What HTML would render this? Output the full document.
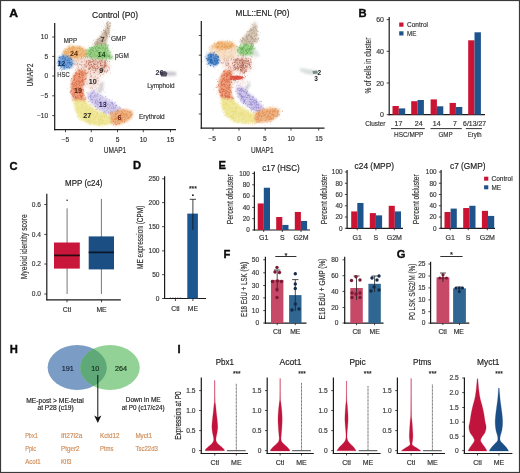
<!DOCTYPE html>
<html><head><meta charset="utf-8"><style>
html,body{margin:0;padding:0;background:#fff;}
body{width:520px;height:473px;overflow:hidden;font-family:"Liberation Sans", sans-serif;}
svg{display:block;will-change:transform;}
</style></head><body>
<svg width="520" height="473" viewBox="0 0 520 473" font-family='"Liberation Sans", sans-serif'><defs><filter id="b6" x="-50%" y="-80%" width="200%" height="260%"><feGaussianBlur stdDeviation="0.6"/></filter><filter id="b8" x="-50%" y="-80%" width="200%" height="260%"><feGaussianBlur stdDeviation="0.8"/></filter><filter id="b10" x="-50%" y="-80%" width="200%" height="260%"><feGaussianBlur stdDeviation="1.0"/></filter><filter id="b12" x="-50%" y="-80%" width="200%" height="260%"><feGaussianBlur stdDeviation="1.2"/></filter><filter id="b15" x="-50%" y="-80%" width="200%" height="260%"><feGaussianBlur stdDeviation="1.5"/></filter><filter id="b20" x="-50%" y="-80%" width="200%" height="260%"><feGaussianBlur stdDeviation="2.0"/></filter></defs><text x="9.2" y="16.8" font-size="11.2" text-anchor="start" font-weight="bold" fill="#0a0a0a" textLength="8.8" lengthAdjust="spacingAndGlyphs" stroke="#0a0a0a" stroke-width="0.35">A</text>
<text x="115" y="17.6" font-size="8.6" text-anchor="middle" font-weight="normal" fill="#222" textLength="46" lengthAdjust="spacingAndGlyphs" stroke="#222" stroke-width="0.18">Control (P0)</text>
<text x="262.5" y="16.2" font-size="8.6" text-anchor="middle" font-weight="normal" fill="#222" textLength="53.8" lengthAdjust="spacingAndGlyphs" stroke="#222" stroke-width="0.18">MLL::ENL (P0)</text>
<path d="M82.6,59.3h0M95.5,69.2h0M89.0,85.5h0M94.6,68.7h0M106.2,66.4h0M95.1,67.7h0M71.0,59.1h0M89.9,60.7h0M91.2,83.0h0M89.3,84.5h0M103.3,73.1h0M95.4,74.1h0M94.1,80.1h0M100.1,68.1h0M82.0,61.1h0M70.3,67.8h0M95.2,80.1h0M77.2,74.7h0M77.6,66.8h0M97.5,64.3h0M89.8,73.4h0M90.7,75.7h0M89.7,71.7h0M78.0,61.6h0M95.1,63.2h0M90.8,51.1h0M90.4,72.7h0M85.0,62.6h0M90.9,59.9h0M94.9,85.5h0M83.4,72.6h0M90.7,84.3h0M87.1,56.5h0M109.6,70.0h0M73.2,57.3h0M101.2,67.1h0M103.2,76.8h0M101.0,62.3h0M84.7,74.6h0M85.7,90.3h0M103.8,65.1h0M85.4,74.8h0M78.5,67.6h0M90.0,73.5h0M93.8,61.6h0M98.0,77.9h0M96.0,85.0h0M80.7,60.9h0M96.0,79.8h0M90.2,72.3h0" stroke="#efcfc2" stroke-width="0.9" stroke-linecap="round" opacity="0.55" fill="none"/>
<path d="M70,60 L80,56 L95,55 L106,59 L111,66 L107,73 L100,76 L98,84 L92,90 L87,86 L84,76 L76,70 Z" fill="#efcfc2" opacity="0.5" filter="url(#b20)"/>
<path d="M85.7,74.1h0M106.0,63.0h0M105.4,60.7h0M74.6,64.2h0M99.4,57.9h0M88.6,71.9h0M75.5,70.0h0M78.0,65.9h0M93.8,70.5h0M98.8,74.3h0M76.3,64.8h0M78.8,60.8h0M105.2,66.2h0M93.7,79.7h0M100.8,71.1h0M98.1,84.2h0M86.0,66.0h0M80.1,59.4h0M75.3,60.9h0M82.9,64.7h0M90.4,61.4h0M100.6,75.6h0M101.3,70.2h0M84.8,69.6h0M98.1,77.9h0M74.0,60.4h0M82.5,61.9h0M81.2,64.8h0M83.9,67.5h0M89.9,74.0h0M81.2,62.4h0M86.6,66.3h0M91.4,82.1h0M93.2,84.6h0M77.3,69.0h0M91.6,75.7h0M90.4,73.4h0M101.0,64.3h0M99.7,58.9h0M88.4,68.6h0M96.9,58.4h0M100.3,65.6h0M97.1,78.3h0M90.6,71.4h0M109.4,61.6h0M89.2,67.2h0M105.0,71.6h0M91.3,55.9h0M89.2,66.4h0M106.1,58.4h0M106.1,66.0h0M84.7,70.4h0M79.4,64.2h0M99.4,55.4h0M82.3,56.4h0M88.8,68.9h0M95.8,65.1h0M77.5,63.2h0M93.7,60.5h0M88.6,60.4h0M84.1,59.1h0M93.4,84.8h0M86.2,74.1h0M91.2,76.4h0M80.1,64.5h0M106.7,71.6h0M72.7,60.1h0M95.1,82.2h0M97.1,66.3h0M96.4,79.7h0M90.9,76.0h0M94.2,56.6h0M106.3,72.5h0M89.6,79.1h0M83.5,69.0h0M91.7,62.0h0M104.0,65.1h0M90.5,62.8h0M76.8,71.9h0M109.3,69.1h0M96.5,69.0h0M82.1,67.1h0M105.0,70.5h0M78.2,67.6h0M86.9,83.1h0M107.7,61.4h0M85.5,64.1h0M85.0,64.7h0M82.5,70.8h0M84.6,64.4h0M94.4,67.5h0M102.7,59.7h0M81.6,57.6h0M82.0,58.7h0M99.2,71.9h0M95.4,76.3h0M97.8,58.4h0M93.2,67.3h0M81.6,65.6h0M90.7,68.7h0M91.4,61.5h0M90.9,81.4h0M76.5,61.4h0M109.0,67.1h0M94.7,77.8h0M75.7,63.8h0M97.8,62.2h0M97.5,62.2h0M103.1,74.4h0M85.9,73.9h0M85.8,67.7h0M82.0,75.8h0M84.8,61.1h0M85.3,85.1h0M90.4,60.8h0M85.8,73.4h0M92.4,88.3h0M81.2,58.3h0M90.9,56.3h0M104.0,59.8h0M104.2,62.6h0M91.9,69.1h0M103.1,58.2h0M94.3,66.5h0M86.2,78.5h0M90.2,61.2h0M88.2,61.4h0M90.6,56.1h0M89.8,56.9h0M90.8,88.1h0M101.8,60.0h0M100.7,60.0h0M77.5,64.2h0M73.0,63.8h0M97.2,66.5h0M96.8,88.2h0M96.1,67.9h0M88.1,60.8h0M101.4,61.2h0M94.0,78.3h0M70.4,59.4h0M91.6,87.0h0M97.9,55.8h0M93.2,61.2h0M81.4,61.2h0M88.2,64.4h0M92.3,66.2h0M88.6,64.1h0M91.1,76.8h0M85.1,66.3h0" stroke="#c46e58" stroke-width="0.9" stroke-linecap="round" opacity="0.75" fill="none"/>
<path d="M109.7,68.3h0M102.4,61.0h0M89.7,60.4h0M90.3,62.7h0M98.6,60.6h0M103.3,69.9h0M90.2,53.6h0M104.7,60.6h0M95.3,60.0h0M93.7,63.8h0M92.4,67.0h0M95.5,70.0h0M93.5,60.2h0M99.6,61.9h0M81.8,70.7h0M110.4,73.1h0M87.3,61.4h0M101.2,64.9h0M101.0,62.9h0M101.5,63.9h0M83.5,66.6h0M96.9,61.6h0M108.5,67.3h0M92.1,72.9h0M98.4,60.0h0M106.8,71.8h0M97.8,72.6h0M92.2,77.3h0M89.9,57.4h0M91.7,69.7h0M99.3,66.9h0M95.1,62.7h0M92.2,59.5h0M93.8,73.9h0M97.4,63.9h0M96.2,67.7h0M102.2,71.4h0M105.8,68.6h0M107.1,63.9h0M102.6,71.3h0" stroke="#e4ac98" stroke-width="0.9" stroke-linecap="round" opacity="0.55" fill="none"/>
<path d="M84,60 L98,58 L106,61 L109,67 L104,72 L94,72 L86,68 Z" fill="#e4ac98" opacity="0.4" filter="url(#b15)"/>
<path d="M89.6,62.5h0M93.8,60.4h0M88.3,63.2h0M102.8,65.4h0M86.5,61.1h0M93.6,68.0h0M100.7,65.5h0M95.0,67.8h0M97.7,68.8h0M102.3,68.8h0M104.6,66.7h0M92.7,67.4h0M103.0,67.4h0M93.8,63.7h0M101.5,72.4h0M100.7,63.6h0M89.1,68.5h0M85.0,65.6h0M97.4,65.9h0M94.6,72.7h0M95.9,70.7h0M92.7,59.8h0M94.0,68.4h0M90.7,67.9h0M88.9,69.7h0M103.0,67.1h0M93.6,65.3h0M95.2,62.0h0M105.3,62.3h0M92.8,61.8h0M90.7,62.5h0M94.2,66.1h0M107.8,70.4h0M100.8,61.8h0M89.5,69.3h0M107.6,70.9h0M98.2,67.1h0M104.2,71.2h0M95.4,69.2h0M97.9,62.2h0M95.8,58.9h0M94.4,64.5h0M94.7,64.2h0M93.8,63.8h0M101.3,67.2h0M99.7,73.5h0M97.0,64.6h0M100.9,68.4h0M91.5,64.4h0M88.1,64.7h0M105.1,61.2h0M93.9,61.7h0M99.9,69.9h0M90.3,64.9h0M106.9,65.9h0M106.1,65.0h0M105.7,65.6h0M101.1,65.7h0M100.7,63.9h0M102.8,70.0h0M103.9,68.7h0M91.1,64.9h0M101.3,71.5h0M105.2,65.5h0M99.9,71.0h0M93.9,58.9h0M101.9,60.8h0M101.8,69.6h0M97.5,68.5h0M92.8,69.9h0M95.3,59.8h0M96.1,68.9h0M92.4,66.3h0M95.3,68.4h0M100.7,63.1h0M100.9,70.8h0M97.1,63.2h0M91.7,66.3h0M105.0,62.0h0M95.4,64.3h0M103.6,69.8h0M104.4,67.3h0M91.0,58.6h0M89.7,68.2h0M98.5,67.6h0M90.7,67.4h0M101.4,60.2h0M104.8,65.5h0M89.4,62.1h0M92.1,66.6h0M86.8,66.3h0M98.7,62.8h0M104.9,64.5h0M105.1,63.4h0M104.5,71.8h0M89.3,60.7h0M95.6,70.8h0M100.8,65.3h0M88.8,64.0h0M100.2,63.7h0M92.2,61.7h0M101.9,65.6h0M85.5,57.7h0M99.5,61.3h0M86.6,63.0h0M96.1,60.9h0M104.2,61.2h0M89.4,65.6h0M104.2,67.1h0M104.2,64.3h0M103.1,67.3h0M91.1,64.4h0M105.6,63.7h0M94.0,72.5h0M99.9,61.1h0M88.4,63.1h0M86.7,61.8h0M102.3,62.1h0M104.2,62.8h0M105.2,66.4h0" stroke="#a85540" stroke-width="0.9" stroke-linecap="round" opacity="0.8" fill="none"/>
<path d="M98.9,81.5h0M82.8,73.2h0M86.2,74.5h0M102.2,85.6h0M99.9,80.3h0M102.0,89.6h0M89.1,80.1h0M97.5,86.8h0M99.8,94.1h0M98.4,90.0h0M94.7,83.4h0M88.0,81.7h0M84.0,73.7h0M96.2,82.0h0M104.7,87.4h0M94.6,84.6h0" stroke="#f3e3e0" stroke-width="0.9" stroke-linecap="round" opacity="0.55" fill="none"/>
<path d="M84,74 L94,74 L99,78 L104,84 L106,92 L96,92 L90,90 L86,84 Z" fill="#f3e3e0" opacity="0.3" filter="url(#b20)"/>
<path d="M90.4,74.8h0M87.2,83.4h0M101.0,91.9h0M99.6,85.6h0M85.4,81.7h0M102.9,87.8h0M105.1,92.4h0M97.4,80.5h0M94.3,83.2h0M102.1,89.7h0M97.6,77.7h0M95.1,89.9h0M96.6,81.4h0M92.2,87.0h0M89.1,82.2h0M86.3,77.8h0M91.9,79.4h0M100.5,84.1h0M86.6,87.2h0M97.1,83.5h0M87.4,84.6h0M95.3,87.2h0M90.8,88.4h0M94.5,87.9h0M86.0,81.9h0M98.3,87.7h0M100.4,85.7h0M101.9,86.4h0M97.0,84.6h0M97.2,78.5h0M95.8,81.3h0M98.4,80.5h0M93.1,77.0h0M95.5,83.2h0M86.6,84.0h0M103.5,88.8h0M93.8,90.4h0M98.7,81.7h0M94.8,81.9h0M89.7,87.6h0M100.1,84.3h0M90.1,82.7h0M95.1,85.2h0M96.3,89.8h0M97.1,74.6h0M103.2,90.8h0M85.7,79.1h0M86.7,75.8h0M92.2,90.3h0M102.0,83.7h0" stroke="#d9a9a0" stroke-width="0.8" stroke-linecap="round" opacity="0.6" fill="none"/>
<path d="M101.0,40.0h0M97.5,38.6h0M105.5,26.5h0M92.1,43.0h0M98.8,47.6h0M99.4,41.9h0M95.4,46.2h0M92.6,44.3h0M108.1,28.0h0M101.5,26.4h0M103.6,29.2h0M101.5,53.5h0M103.8,23.9h0M94.1,44.2h0M94.0,47.4h0M99.3,35.8h0M106.0,28.7h0M94.5,39.7h0M106.8,33.4h0M100.3,38.9h0M109.8,37.5h0M96.6,43.4h0M104.7,25.2h0M113.5,29.9h0M103.1,40.0h0M108.8,23.4h0M104.7,46.0h0M105.2,40.8h0M106.9,36.5h0M93.5,40.6h0M103.8,27.0h0M102.3,43.3h0M109.1,32.9h0M104.3,32.3h0M99.3,43.5h0M104.8,32.8h0M101.3,46.7h0M105.4,36.7h0M105.9,41.4h0M103.3,40.8h0" stroke="#cbb5a0" stroke-width="0.9" stroke-linecap="round" opacity="0.55" fill="none"/>
<path d="M108,21 L110,26 L109,33 L107,40 L106,46 L99,47 L93,46 L97,40 L103,33 L106,27 Z" fill="#cbb5a0" opacity="0.92" filter="url(#b8)"/>
<path d="M99.5,44.1h0M105.8,33.4h0M109.6,36.5h0M101.5,36.7h0M99.0,43.0h0M106.1,31.2h0M109.6,34.6h0M98.0,39.2h0M105.5,45.4h0M104.1,43.4h0M107.4,36.3h0M107.2,33.3h0M101.6,43.4h0M95.7,41.4h0M108.3,30.2h0M96.4,44.1h0M100.2,36.6h0M101.3,46.8h0M102.2,45.9h0M103.7,39.8h0M103.2,38.1h0M98.1,39.7h0M97.5,46.8h0M106.2,35.0h0M97.3,42.0h0M108.3,28.4h0M102.9,42.9h0M105.1,45.8h0M107.9,28.0h0M103.6,30.7h0M103.2,40.2h0M105.5,31.7h0M101.7,37.6h0M105.2,40.0h0M102.0,45.6h0M101.2,37.1h0M109.8,26.5h0M109.3,31.0h0M105.7,45.2h0M107.4,27.2h0M105.6,34.9h0M101.0,43.9h0M101.3,44.4h0M104.9,40.8h0M96.2,42.9h0M105.6,43.3h0M102.1,45.5h0M101.3,31.8h0M95.5,45.3h0M109.8,23.3h0M98.3,42.9h0M96.9,41.3h0M99.2,44.6h0M109.2,32.6h0M103.5,37.6h0M99.4,46.9h0M103.3,46.5h0M108.1,21.5h0M102.9,37.7h0M104.8,32.5h0M105.4,29.9h0M101.6,36.1h0M103.9,36.5h0M95.9,44.9h0M102.2,34.0h0M94.5,42.7h0M106.4,23.4h0M106.2,34.7h0M103.0,32.9h0M103.8,30.4h0M104.1,44.3h0M106.3,37.3h0M100.3,37.0h0M110.3,25.7h0M99.1,38.6h0M104.7,30.7h0M105.2,32.1h0M100.9,41.0h0M104.8,33.7h0M107.2,36.2h0M106.5,34.1h0M107.2,25.8h0M106.6,35.4h0M107.7,28.0h0M107.7,25.6h0M97.2,43.2h0M104.4,37.1h0M101.6,44.2h0M107.1,22.5h0M105.9,32.6h0M107.8,24.5h0M99.9,40.3h0M108.8,29.0h0M99.7,38.9h0M105.2,31.7h0M110.0,22.6h0M106.2,33.7h0M100.2,42.7h0M98.0,43.6h0M101.8,48.1h0M98.0,41.9h0M101.5,40.9h0M94.9,47.2h0M108.1,33.8h0M106.7,24.1h0M95.0,43.6h0M99.9,40.9h0M97.3,41.1h0M107.5,22.8h0M103.0,41.0h0M103.9,38.1h0M106.9,32.9h0M108.6,31.9h0M96.9,39.6h0M100.4,46.3h0M106.2,38.9h0M109.0,28.5h0M110.8,23.7h0M97.4,43.5h0M100.8,43.2h0" stroke="#a48a70" stroke-width="1.0" stroke-linecap="round" opacity="0.72" fill="none"/>
<path d="M97.7,51.1h0M93.3,40.3h0M97.8,48.1h0M105.8,48.1h0M91.0,52.1h0M105.1,49.7h0M102.3,45.7h0M94.3,55.8h0M93.3,47.3h0M86.3,53.0h0M100.1,50.5h0M98.2,59.1h0M90.4,49.4h0M99.6,55.0h0M79.6,56.1h0M93.4,51.6h0M103.3,52.1h0M99.8,54.1h0M110.8,54.1h0M115.3,60.7h0M97.6,48.0h0M103.8,45.6h0M105.4,49.7h0M102.3,59.8h0M105.3,56.2h0M102.5,53.5h0M90.4,50.4h0M106.0,47.5h0M101.6,48.1h0M92.4,47.9h0M96.2,52.1h0M98.9,49.2h0M85.1,59.5h0M102.7,57.4h0M102.5,49.3h0M102.2,53.6h0M98.7,46.5h0M104.4,58.5h0M96.4,49.4h0M101.9,57.2h0M100.4,54.8h0M112.4,48.0h0M95.9,47.1h0M86.6,56.3h0M106.4,59.7h0M80.7,50.1h0M100.9,55.0h0M94.4,50.7h0M89.5,50.3h0M110.8,51.6h0M107.2,60.8h0M105.2,54.4h0M102.2,58.6h0" stroke="#98cf86" stroke-width="0.9" stroke-linecap="round" opacity="0.55" fill="none"/>
<path d="M92,47 L100,44 L107,45 L109,50 L111,55 L114,59 L108,59 L99,59 L90,58 L85,55 L86,50 Z" fill="#98cf86" opacity="0.92" filter="url(#b8)"/>
<path d="M104.9,57.7h0M105.8,44.3h0M85.0,50.1h0M102.6,50.2h0M91.8,57.8h0M110.2,52.4h0M85.5,51.7h0M102.4,54.4h0M100.1,54.8h0M97.4,46.4h0M105.2,51.4h0M97.2,49.8h0M100.5,52.1h0M89.3,47.4h0M112.2,56.2h0M105.9,54.4h0M90.6,53.4h0M95.7,56.4h0M86.5,56.2h0M109.6,56.2h0M101.5,52.4h0M106.7,58.0h0M107.0,48.0h0M91.1,52.9h0M108.8,55.9h0M101.7,57.4h0M91.8,47.1h0M88.5,53.3h0M97.2,51.6h0M97.7,44.7h0M97.9,48.6h0M91.6,52.7h0M102.6,47.9h0M92.1,48.1h0M103.8,55.2h0M92.3,59.4h0M108.5,45.3h0M91.0,57.1h0M89.8,54.4h0M99.7,56.3h0M102.5,56.1h0M100.7,48.4h0M108.6,56.3h0M103.4,47.3h0M106.4,56.4h0M95.7,48.0h0M102.6,58.6h0M104.0,52.8h0M95.5,51.4h0M107.9,55.0h0M102.9,57.6h0M97.8,55.4h0M96.0,49.5h0M109.3,58.1h0M93.0,50.3h0M109.9,59.3h0M107.8,56.2h0M87.5,57.7h0M96.2,51.9h0M98.1,53.2h0M95.9,55.3h0M94.1,57.7h0M106.2,59.8h0M104.9,52.7h0M93.7,48.1h0M92.5,47.6h0M100.9,53.0h0M96.4,46.9h0M93.1,56.0h0M93.4,49.1h0M107.0,45.0h0M109.4,55.3h0M103.8,52.3h0M104.0,52.9h0M96.7,56.2h0M91.8,49.4h0M92.0,56.9h0M107.4,48.0h0M95.4,48.6h0M104.3,56.8h0M96.2,46.1h0M99.0,47.7h0M96.6,50.5h0M108.3,50.6h0M105.4,45.4h0M90.6,54.3h0M105.1,51.9h0M106.6,53.2h0M103.6,55.2h0M91.9,52.7h0M98.3,47.7h0M100.7,59.0h0M89.3,51.0h0M98.8,58.4h0M93.5,51.3h0M91.1,56.4h0M91.0,50.2h0M100.4,52.5h0M100.2,51.9h0M105.0,56.7h0M95.4,47.9h0M98.2,50.5h0M104.5,52.2h0M104.8,50.8h0M101.3,46.0h0M90.4,49.3h0M86.3,54.3h0M105.6,56.1h0M104.3,54.1h0M92.4,50.3h0M97.5,58.0h0M105.4,47.9h0M91.8,48.1h0M97.9,50.9h0M94.7,54.8h0M102.9,48.3h0M106.3,55.4h0M106.0,60.1h0M94.3,46.6h0M109.1,56.8h0M106.1,48.1h0M90.7,54.5h0M92.9,54.7h0M94.3,52.8h0M99.3,48.0h0M103.0,56.2h0M105.5,49.2h0M104.9,49.1h0M109.2,56.8h0M91.1,52.9h0M104.7,53.0h0M101.4,45.1h0M90.9,50.0h0M86.0,55.7h0M101.9,52.9h0M90.5,48.0h0M106.8,53.9h0M107.4,50.1h0M86.9,53.3h0M101.8,45.4h0M99.3,47.8h0M99.9,48.2h0M86.3,49.9h0M103.9,48.4h0M104.9,56.3h0M111.6,57.7h0M98.2,53.8h0M88.1,50.4h0M87.1,54.2h0M89.6,51.3h0M107.6,46.3h0M90.1,51.5h0M89.2,55.9h0M94.2,53.7h0M98.1,57.8h0M98.4,54.2h0M87.7,56.8h0M93.0,51.0h0M89.7,55.7h0M98.0,55.3h0" stroke="#58a846" stroke-width="1.0" stroke-linecap="round" opacity="0.7" fill="none"/>
<path d="M57.9,51.7h0M88.3,45.4h0M67.0,52.9h0M72.7,54.4h0M76.5,50.8h0M71.9,48.7h0M80.7,53.6h0M79.0,49.5h0M76.7,47.7h0M83.7,55.8h0M82.5,51.5h0M72.6,56.7h0M81.6,60.2h0M68.4,48.0h0M82.4,49.5h0M76.9,49.3h0M73.0,52.0h0M81.2,61.6h0M71.1,44.2h0M69.2,55.6h0M76.3,51.0h0M90.1,60.1h0M59.2,55.8h0M67.0,46.3h0M82.1,55.8h0M88.9,42.1h0M71.1,43.8h0M65.2,54.5h0M62.5,53.1h0M86.6,51.3h0M84.3,46.7h0M71.5,58.7h0M81.0,53.0h0M73.1,57.5h0M73.7,58.4h0M65.6,51.4h0M76.7,47.3h0M79.7,58.2h0M69.4,44.1h0M66.7,48.4h0M78.5,61.3h0M85.8,52.4h0M83.6,57.6h0M74.9,63.6h0M70.4,51.4h0M78.4,51.9h0M71.7,55.9h0M65.4,59.3h0M72.3,47.6h0M76.7,60.3h0" stroke="#f0bb7e" stroke-width="0.9" stroke-linecap="round" opacity="0.55" fill="none"/>
<path d="M63,51 L70,46 L80,46 L86,50 L86,56 L78,59 L68,59 L63,56 Z" fill="#f0bb7e" opacity="0.92" filter="url(#b8)"/>
<path d="M72.4,49.6h0M66.4,57.2h0M81.7,56.6h0M83.4,51.6h0M75.5,52.2h0M67.4,49.3h0M75.3,56.8h0M75.8,51.7h0M84.5,56.6h0M72.6,54.1h0M72.3,52.3h0M72.9,51.2h0M80.4,50.1h0M70.6,57.7h0M71.5,58.0h0M64.8,57.0h0M81.9,54.1h0M77.6,59.2h0M73.0,46.5h0M73.0,46.0h0M77.1,58.8h0M79.7,54.6h0M65.9,51.6h0M70.4,59.1h0M72.0,48.5h0M79.5,48.8h0M72.2,56.0h0M77.0,47.1h0M77.2,51.0h0M72.6,50.5h0M84.4,53.8h0M73.6,55.0h0M82.9,52.8h0M71.1,54.0h0M74.6,57.8h0M76.6,50.7h0M84.2,54.5h0M85.1,56.5h0M70.1,55.6h0M74.6,49.4h0M85.4,57.2h0M75.3,57.2h0M80.8,47.8h0M82.9,51.0h0M80.8,55.1h0M79.1,48.1h0M74.8,56.7h0M73.4,51.9h0M71.5,58.6h0M73.9,47.0h0M79.9,46.6h0M79.4,47.0h0M69.8,56.8h0M65.2,56.9h0M73.4,50.5h0M71.1,58.6h0M82.2,48.6h0M71.8,47.6h0M81.7,48.9h0M85.5,53.7h0M78.2,52.1h0M81.5,54.1h0M75.9,56.2h0M65.7,54.6h0M73.7,53.4h0M75.2,55.6h0M86.1,50.1h0M67.2,53.4h0M76.3,50.2h0M65.0,48.8h0M83.2,56.8h0M78.5,51.9h0M70.5,56.4h0M68.7,58.7h0M75.2,48.7h0M81.3,52.6h0M85.8,54.8h0M65.0,51.4h0M74.2,47.2h0M77.2,56.8h0M69.0,58.2h0M68.3,57.4h0M85.1,50.9h0M65.5,56.3h0M74.4,53.7h0M85.5,53.6h0M78.3,54.8h0M69.2,48.3h0M77.2,57.4h0M75.1,53.9h0M72.8,48.3h0M82.9,49.8h0M72.0,49.7h0M77.3,57.2h0M84.4,54.2h0M66.1,51.1h0M70.4,49.8h0M68.3,48.8h0M83.4,55.4h0M83.3,55.6h0M64.1,53.0h0M79.5,55.3h0M78.2,51.3h0M68.3,51.6h0M70.4,48.8h0M71.7,55.2h0M66.9,52.9h0M64.6,52.6h0M78.7,51.7h0M73.4,47.9h0M76.4,53.8h0M64.2,54.8h0M69.0,45.9h0M69.9,56.2h0M69.3,58.7h0M66.0,54.4h0M66.5,56.9h0M72.0,54.7h0M72.0,57.4h0M84.8,55.2h0M86.5,54.0h0M66.6,52.8h0M71.0,52.3h0M68.3,52.5h0M77.5,48.3h0M80.9,54.0h0M67.8,58.0h0M69.2,49.4h0M74.4,56.6h0M70.2,51.3h0M80.0,50.4h0M77.0,53.6h0M69.1,47.0h0M83.9,50.5h0M81.3,49.4h0M80.3,55.7h0M68.7,50.3h0M81.6,57.7h0M70.5,59.2h0M70.0,57.3h0M73.0,47.5h0M72.5,50.7h0M63.4,51.2h0M70.8,57.2h0M78.9,48.6h0M77.7,51.7h0M82.8,48.4h0M69.8,47.8h0M77.3,53.1h0M68.8,53.0h0" stroke="#e4944a" stroke-width="1.0" stroke-linecap="round" opacity="0.7" fill="none"/>
<path d="M62.0,71.2h0M65.7,49.9h0M53.0,67.1h0M59.5,64.8h0M67.4,65.8h0M52.8,69.2h0M59.5,61.7h0M61.3,60.9h0M71.2,62.0h0M61.8,66.5h0M59.5,69.5h0M67.6,64.2h0M57.0,63.6h0M61.5,69.7h0M62.0,53.2h0M65.8,66.3h0M61.6,70.3h0M63.2,56.9h0M66.7,62.3h0M59.9,61.7h0M66.8,55.6h0M64.5,58.9h0M67.6,65.7h0M64.7,58.9h0M61.5,60.2h0M64.8,68.2h0M70.8,57.1h0M77.9,63.0h0M63.6,63.0h0M59.5,60.2h0M69.4,58.9h0M67.8,64.3h0M76.0,56.3h0" stroke="#6c9cd6" stroke-width="0.9" stroke-linecap="round" opacity="0.55" fill="none"/>
<path d="M58,58 L63,55 L70,57 L74,62 L72,68 L64,69 L59,66 Z" fill="#6c9cd6" opacity="0.92" filter="url(#b8)"/>
<path d="M71.6,59.4h0M67.2,63.1h0M69.4,60.4h0M62.9,64.8h0M69.2,61.2h0M67.8,62.3h0M69.5,67.8h0M63.0,64.4h0M67.4,56.6h0M66.6,67.5h0M64.3,66.8h0M67.2,62.7h0M63.3,61.1h0M60.8,66.2h0M68.2,55.9h0M71.0,64.4h0M65.6,64.2h0M59.0,60.7h0M61.1,67.5h0M61.3,64.1h0M64.7,61.1h0M69.6,62.8h0M70.4,58.6h0M66.4,64.9h0M58.8,63.5h0M68.3,66.4h0M62.0,56.6h0M65.5,59.6h0M63.9,65.6h0M62.7,54.9h0M63.9,68.6h0M64.6,61.8h0M71.7,62.6h0M71.6,59.6h0M65.4,64.3h0M64.1,67.3h0M68.7,62.9h0M59.7,57.6h0M60.5,62.8h0M62.9,63.8h0M68.9,58.2h0M67.9,67.4h0M63.0,58.2h0M63.8,56.6h0M65.8,58.0h0M67.0,67.7h0M63.5,56.8h0M65.0,66.2h0M68.3,60.2h0M61.6,63.0h0M64.7,69.1h0M63.8,65.1h0M60.6,61.7h0M62.1,56.5h0M66.7,56.0h0M62.2,58.1h0M67.9,67.3h0M69.0,62.4h0M65.2,57.9h0M67.1,60.6h0M58.6,66.2h0M58.2,62.1h0M64.6,60.3h0M61.6,66.0h0M72.7,63.8h0M60.3,58.2h0M66.6,65.8h0M58.8,60.4h0M59.7,57.4h0M64.3,58.7h0M67.3,60.1h0M71.6,64.3h0M70.2,62.5h0M71.6,65.6h0M60.1,56.9h0M64.3,57.7h0M60.7,68.6h0M62.7,58.8h0M67.0,60.5h0M58.6,64.4h0M62.9,58.8h0M69.2,64.2h0M60.4,63.6h0M59.5,64.1h0M69.7,62.5h0M67.9,59.1h0M59.0,57.4h0M69.9,63.6h0M65.2,60.6h0M60.0,63.0h0M69.3,67.9h0M69.1,58.6h0M64.7,65.6h0M60.4,61.5h0M62.9,69.4h0M70.5,64.1h0M65.1,59.6h0M63.8,63.5h0M63.7,55.4h0M63.9,64.2h0" stroke="#2d6ab4" stroke-width="1.0" stroke-linecap="round" opacity="0.75" fill="none"/>
<path d="M78.4,71.1h0M77.9,70.4h0M83.0,85.9h0M79.3,82.6h0M86.6,67.3h0M78.6,94.2h0M73.0,90.5h0M81.2,93.4h0M77.1,79.4h0M78.3,82.3h0M85.1,101.4h0M81.6,99.3h0M70.3,92.2h0M81.5,87.4h0M76.0,86.9h0M74.9,80.6h0M82.1,106.1h0M78.4,87.1h0M78.1,76.3h0M86.4,92.7h0M81.7,68.5h0M90.4,76.8h0M84.8,66.8h0M84.0,97.0h0M82.5,104.8h0M79.6,96.8h0M79.2,92.2h0M83.7,72.7h0M73.2,92.7h0M73.1,75.0h0M86.4,76.3h0M89.9,76.9h0M74.5,92.9h0M78.7,100.6h0M73.6,90.4h0M81.7,95.0h0M75.5,76.4h0M79.2,75.2h0M85.4,78.3h0M79.8,86.4h0M80.9,98.0h0M79.5,95.6h0M72.5,83.4h0M78.9,79.2h0M84.1,81.3h0M90.5,71.5h0M78.2,102.4h0M80.4,88.4h0M84.9,71.7h0M71.0,80.0h0M80.4,74.3h0M83.6,83.8h0M80.2,89.9h0M78.3,88.5h0M67.6,88.7h0M81.8,76.7h0M78.3,94.1h0M79.6,83.1h0M76.4,97.3h0M87.8,80.9h0M85.0,77.6h0M69.7,92.2h0M78.9,78.8h0" stroke="#e8946f" stroke-width="0.9" stroke-linecap="round" opacity="0.55" fill="none"/>
<path d="M80,69 L87,72 L85,80 L83,88 L84,96 L86,101 L78,103 L73,100 L71,92 L71,82 L74,74 Z" fill="#e8946f" opacity="0.9" filter="url(#b10)"/>
<path d="M82.9,79.6h0M80.9,82.1h0M80.2,91.2h0M75.8,97.8h0M82.7,80.8h0M74.8,95.0h0M81.1,96.6h0M79.8,81.3h0M72.7,95.1h0M78.9,69.5h0M75.3,90.2h0M77.8,93.3h0M79.5,88.7h0M76.7,81.2h0M83.4,90.1h0M73.1,94.9h0M74.8,88.6h0M82.3,92.4h0M74.2,76.7h0M85.5,78.7h0M77.2,73.8h0M79.8,85.3h0M82.1,95.5h0M80.0,81.8h0M82.6,71.4h0M71.6,94.1h0M82.9,80.9h0M71.5,91.6h0M74.8,93.4h0M79.6,74.5h0M81.5,98.8h0M84.1,84.6h0M75.9,103.7h0M83.0,75.1h0M73.1,96.2h0M81.1,72.3h0M82.9,95.0h0M79.8,95.2h0M75.4,96.6h0M77.0,87.7h0M84.2,83.1h0M85.8,70.3h0M81.6,69.0h0M80.5,96.9h0M75.5,73.1h0M78.3,74.7h0M74.3,84.5h0M70.5,92.7h0M73.5,85.9h0M73.9,77.5h0M78.9,99.2h0M75.8,73.3h0M82.2,96.3h0M72.9,86.9h0M74.5,79.1h0M86.8,73.5h0M81.5,93.0h0M80.5,87.4h0M79.8,89.1h0M79.2,73.9h0M77.3,88.8h0M78.3,81.6h0M76.5,83.7h0M84.7,102.0h0M74.3,76.0h0M78.7,84.0h0M85.8,99.1h0M79.9,74.5h0M83.5,83.6h0M80.0,71.8h0M74.9,100.1h0M73.9,80.3h0M78.7,98.1h0M77.1,100.8h0M79.5,73.5h0M81.7,80.8h0M79.5,76.1h0M74.8,90.6h0M71.5,78.7h0M74.1,76.1h0M76.4,81.4h0M78.9,80.3h0M77.8,103.1h0M78.8,92.7h0M72.2,100.3h0M78.5,87.5h0M76.3,92.2h0M83.1,84.1h0M73.5,96.7h0M74.8,79.8h0M83.0,93.8h0M82.0,73.0h0M75.7,85.8h0M79.5,77.0h0M84.0,72.2h0M85.8,79.5h0M81.1,93.0h0M71.3,90.3h0M78.0,101.2h0M80.4,91.3h0M85.3,73.4h0M77.7,84.7h0M73.4,89.0h0M75.5,97.5h0M81.5,96.3h0M81.9,80.3h0M76.5,74.2h0M80.0,82.3h0M77.8,99.0h0M74.6,78.9h0M75.7,82.7h0M82.9,94.1h0M76.2,72.4h0M78.0,82.2h0M77.9,97.4h0M79.9,93.7h0M83.2,81.4h0M79.6,83.4h0M84.4,79.7h0M78.8,88.0h0M82.3,89.3h0M81.8,73.9h0M74.8,86.0h0M76.9,87.8h0M74.1,94.0h0M76.4,98.0h0M77.5,95.9h0M82.8,85.2h0M76.8,92.4h0M71.9,89.1h0M79.8,70.6h0M79.5,85.4h0M84.9,72.2h0M74.9,83.2h0M78.9,78.1h0M80.4,77.7h0M81.6,85.2h0M71.2,84.4h0M85.9,97.4h0M78.6,76.6h0M87.7,72.8h0M78.1,90.6h0M76.0,100.6h0M81.6,97.6h0M83.4,75.1h0M79.6,101.8h0M77.9,80.2h0M76.1,97.0h0M77.0,90.3h0M81.8,72.0h0M82.4,81.2h0M80.6,95.6h0M76.7,78.0h0M83.2,90.9h0M80.6,99.7h0M70.9,87.0h0M73.1,82.4h0M82.3,75.3h0M84.8,99.1h0M82.9,89.5h0M75.5,75.6h0M82.3,73.7h0M76.6,86.0h0M82.4,79.4h0M70.5,91.0h0M72.2,93.5h0M73.1,88.7h0M77.7,91.6h0M72.0,84.1h0M75.1,75.4h0M76.0,92.5h0M81.7,99.3h0M75.9,83.8h0M72.8,83.9h0M81.8,75.1h0M80.8,89.2h0M75.9,99.0h0M76.0,89.3h0M82.4,82.1h0M80.0,101.6h0M82.9,93.0h0M80.8,81.9h0M79.0,70.5h0M72.3,84.2h0M84.1,95.3h0M79.6,76.6h0M80.8,94.8h0M83.8,100.4h0M82.6,77.5h0M79.1,73.3h0" stroke="#d65a35" stroke-width="1.0" stroke-linecap="round" opacity="0.8" fill="none"/>
<path d="M111.2,100.6h0M99.1,103.0h0M108.6,107.2h0M89.0,94.0h0M113.3,110.9h0M115.7,110.2h0M104.2,102.1h0M109.7,116.5h0M90.3,104.8h0M101.8,103.7h0M121.4,111.7h0M95.9,100.2h0M94.4,99.3h0M105.3,99.2h0M114.4,102.9h0M106.1,106.5h0M104.9,104.3h0M121.3,116.1h0M94.8,105.0h0M109.3,116.7h0M94.8,102.9h0M88.7,93.7h0M104.9,110.0h0M97.9,95.2h0M119.1,108.2h0M108.5,104.0h0M111.1,108.3h0M92.3,104.8h0M106.5,96.0h0M112.2,99.5h0M107.0,107.0h0M102.3,96.1h0M113.0,101.6h0M102.4,105.3h0M90.7,104.6h0M105.4,100.6h0M94.3,103.9h0M105.5,110.8h0M91.5,101.5h0M110.2,102.9h0M110.0,107.3h0M98.2,113.7h0M101.3,95.8h0M97.8,102.5h0M90.6,95.8h0M94.7,93.9h0M108.6,115.4h0M106.7,99.2h0M95.1,99.2h0M105.1,102.3h0M109.2,109.6h0M120.1,113.9h0M100.0,107.0h0" stroke="#cdc5ea" stroke-width="0.9" stroke-linecap="round" opacity="0.55" fill="none"/>
<path d="M88,93 L93,90 L101,95 L109,100 L117,105 L121,109 L119,114 L112,116 L104,113 L96,108 L90,102 L87,97 Z" fill="#cdc5ea" opacity="0.85" filter="url(#b12)"/>
<path d="M88.8,101.7h0M93.5,97.3h0M90.5,99.9h0M105.6,104.8h0M102.9,97.2h0M91.8,93.0h0M92.0,96.6h0M108.4,112.3h0M107.8,104.8h0M90.6,95.5h0M91.0,95.3h0M105.5,113.0h0M104.3,108.7h0M98.2,104.6h0M95.0,103.1h0M112.5,103.6h0M116.2,113.2h0M102.5,108.6h0M113.4,107.5h0M95.8,97.0h0M102.7,104.6h0M105.8,101.6h0M110.1,104.6h0M115.9,105.8h0M117.3,111.1h0M98.0,94.0h0M110.7,105.8h0M97.8,106.1h0M96.2,100.2h0M92.2,102.3h0M103.6,112.3h0M109.4,106.3h0M106.0,102.2h0M101.0,104.5h0M118.9,108.6h0M109.1,104.9h0M115.4,102.2h0M95.4,101.0h0M115.5,107.9h0M98.0,107.6h0M95.4,95.0h0M119.7,113.3h0M99.3,100.3h0M116.4,113.4h0M113.3,106.5h0M100.0,102.2h0M107.0,110.6h0M120.5,109.1h0M112.2,102.6h0M108.8,108.2h0M91.3,99.7h0M100.0,99.1h0M106.0,102.1h0M95.9,103.7h0M92.3,102.2h0M90.5,97.6h0M100.8,101.6h0M92.6,93.2h0M100.9,98.1h0M109.6,99.9h0M102.2,103.1h0M91.1,94.4h0M96.3,95.9h0M113.3,108.2h0M110.1,102.0h0M112.6,113.2h0M93.7,92.2h0M116.8,114.4h0M115.9,105.3h0M106.2,114.0h0M106.9,99.0h0M105.0,111.9h0M95.3,106.6h0M111.9,103.7h0M105.6,100.9h0M116.6,105.7h0M107.6,104.6h0M87.0,93.1h0M95.5,101.2h0M108.8,108.2h0M117.5,110.1h0M110.4,110.8h0M99.7,109.7h0M94.7,92.0h0M98.7,104.7h0M103.3,104.3h0M110.6,112.9h0M117.6,114.0h0M98.2,102.3h0M100.5,102.0h0M112.1,103.0h0M97.5,104.0h0M90.3,96.9h0M96.6,104.0h0M95.8,106.3h0M105.6,96.7h0M92.7,93.1h0M97.5,101.2h0M112.1,111.3h0M98.3,102.0h0M94.2,95.8h0M93.9,90.3h0M92.2,99.9h0M96.2,109.3h0M117.1,112.8h0M92.9,99.0h0M113.3,104.5h0M112.1,105.8h0M108.3,103.3h0M103.2,102.0h0M94.8,95.4h0M116.8,110.4h0M104.2,102.1h0M119.6,107.0h0M111.5,112.1h0M112.2,108.3h0M111.0,108.1h0M115.3,107.0h0M107.6,107.4h0M114.0,114.9h0M100.8,101.3h0M88.6,98.0h0M114.0,109.7h0M97.6,109.0h0M95.5,102.4h0M112.0,111.8h0M97.0,102.3h0M118.3,110.7h0M111.9,102.8h0M107.6,109.0h0M95.3,106.5h0M105.9,104.8h0M97.8,96.1h0M89.1,96.5h0M95.4,101.8h0M91.6,98.9h0M113.9,111.2h0M116.1,105.1h0M112.5,102.8h0M112.5,105.0h0M104.6,112.0h0M103.3,104.6h0M105.2,107.1h0M114.2,108.2h0M96.8,99.3h0M119.9,110.2h0M99.6,99.5h0M117.5,113.2h0M94.3,99.9h0M100.6,95.6h0M112.4,113.6h0M97.2,100.9h0M120.7,107.9h0M94.3,96.6h0M90.8,96.9h0M91.9,99.5h0M114.1,103.3h0M111.6,102.5h0M97.4,94.2h0M111.5,108.1h0" stroke="#9888cc" stroke-width="1.0" stroke-linecap="round" opacity="0.72" fill="none"/>
<path d="M97,92 L102,82 L104,82 L101,93 Z" fill="#b8bcc8" opacity="0.7" filter="url(#b8)"/>
<path d="M104.7,118.4h0M97.9,114.8h0M92.8,120.0h0M93.3,113.5h0M81.7,101.4h0M94.0,124.7h0M101.3,121.6h0M72.0,118.6h0M94.7,117.4h0M96.7,116.8h0M100.0,116.8h0M88.0,114.5h0M90.6,116.4h0M98.4,125.2h0M82.0,107.1h0M93.9,121.5h0M93.4,117.1h0M74.5,102.0h0M84.2,113.5h0M93.1,109.7h0M72.5,99.4h0M99.5,108.6h0M87.5,116.5h0M79.8,110.7h0M95.2,114.8h0M89.6,122.7h0M80.0,108.5h0M100.8,120.6h0M104.5,115.1h0M99.0,121.6h0M90.6,113.0h0M86.6,102.7h0M108.1,119.9h0M80.5,120.2h0M77.8,108.5h0M95.9,120.0h0M96.4,117.7h0M103.2,116.9h0M78.6,104.3h0M82.5,112.9h0M77.4,100.1h0M95.9,112.9h0M81.8,122.4h0M88.7,116.7h0M93.6,111.7h0M78.5,100.5h0M93.5,116.2h0M82.4,112.4h0M79.9,126.9h0M89.2,124.9h0M77.5,102.2h0M84.9,110.4h0M82.9,110.8h0M97.4,109.6h0M86.6,117.1h0M110.6,116.3h0M97.8,122.6h0M114.5,115.8h0M103.1,116.8h0M77.8,117.0h0M108.0,110.2h0M87.7,113.0h0M102.6,127.8h0M95.4,129.3h0M107.9,127.4h0M87.6,109.9h0" stroke="#f0e798" stroke-width="0.9" stroke-linecap="round" opacity="0.55" fill="none"/>
<path d="M73,100 L80,100 L86,101 L92,107 L100,112 L108,115 L113,118 L111,124 L100,126 L88,124 L79,118 L75,110 Z" fill="#f0e798" opacity="0.95" filter="url(#b10)"/>
<path d="M100.1,119.3h0M75.0,103.5h0M97.4,112.8h0M97.7,122.4h0M104.7,124.1h0M95.1,120.8h0M95.0,119.8h0M99.4,124.4h0M92.3,122.6h0M90.3,119.2h0M92.9,119.1h0M90.8,116.4h0M97.2,112.1h0M87.0,117.9h0M83.4,113.6h0M104.3,116.9h0M93.2,119.4h0M90.7,113.5h0M101.4,116.6h0M83.0,116.8h0M81.2,104.7h0M100.2,123.1h0M78.2,108.9h0M90.2,118.3h0M90.7,117.7h0M108.7,123.5h0M109.1,117.8h0M102.4,120.7h0M87.1,120.9h0M89.5,113.0h0M91.5,120.6h0M103.4,120.3h0M95.5,110.1h0M86.7,119.1h0M105.0,120.0h0M91.9,111.0h0M85.3,121.2h0M89.7,122.7h0M87.0,109.7h0M101.3,119.8h0M107.1,122.1h0M92.2,114.3h0M98.6,125.0h0M96.8,113.8h0M99.6,121.0h0M101.4,122.4h0M86.0,109.9h0M104.1,113.9h0M102.7,123.5h0M82.6,105.4h0M90.9,116.7h0M87.8,116.1h0M85.9,105.9h0M102.5,119.7h0M94.1,117.2h0M99.4,109.4h0M96.3,109.9h0M85.9,106.6h0M84.3,113.5h0M84.0,109.0h0M78.1,107.6h0M102.1,116.0h0M97.7,114.1h0M83.9,108.2h0M86.2,111.7h0M87.6,121.6h0M84.4,114.5h0M99.0,118.3h0M86.7,107.3h0M77.3,112.1h0M86.5,113.2h0M93.3,119.2h0M83.3,106.3h0M109.5,118.8h0M89.4,122.1h0M92.7,115.8h0M101.2,122.5h0M96.6,115.4h0M101.0,117.7h0M76.0,109.9h0M82.2,101.2h0M94.5,111.9h0M77.2,102.3h0M80.5,113.4h0M103.4,122.4h0M91.0,112.5h0M83.4,101.3h0M76.6,111.9h0M84.1,101.0h0M104.1,117.3h0M96.2,124.1h0M100.5,118.7h0M100.7,120.2h0M78.7,109.9h0M101.1,115.1h0M99.7,123.1h0M78.9,118.9h0M81.8,112.6h0M103.9,114.1h0M103.7,114.4h0M89.4,120.0h0M93.1,113.7h0M99.6,124.5h0M105.8,124.0h0M87.5,118.8h0M98.7,118.1h0M95.4,117.1h0M106.5,117.0h0M92.1,113.4h0M90.9,107.7h0M85.2,103.1h0M76.2,101.4h0M95.9,116.1h0M88.1,117.7h0M80.8,111.7h0M87.2,116.0h0M95.3,122.6h0M85.4,118.6h0M101.0,112.2h0M83.1,117.2h0M91.7,114.3h0M81.1,107.9h0M104.7,113.8h0M77.3,116.5h0M110.4,121.0h0M86.4,113.2h0M107.8,116.9h0M88.0,109.5h0M101.7,122.9h0M90.3,115.6h0M88.9,110.0h0M87.3,114.2h0M103.8,113.4h0M88.1,115.0h0M94.0,114.9h0M76.4,104.3h0M83.9,117.0h0M78.6,106.9h0M92.8,121.4h0M86.0,118.6h0M83.2,116.7h0M101.5,112.8h0M80.1,120.0h0M90.9,114.5h0M78.9,116.1h0M92.3,108.8h0M81.2,108.2h0M95.9,117.2h0M91.0,121.9h0M76.2,108.3h0M90.0,117.0h0M89.6,123.5h0M86.1,115.0h0M110.9,118.0h0M92.3,108.8h0M88.0,113.7h0M105.6,114.4h0M105.8,116.0h0M102.2,116.5h0M104.7,116.3h0M108.2,117.9h0M104.5,115.8h0M82.2,116.9h0M78.2,99.4h0M77.4,99.8h0M85.2,112.0h0M99.3,116.6h0M84.7,103.3h0M84.7,117.7h0M106.2,115.8h0M86.4,113.0h0M99.8,121.6h0M90.0,120.8h0M100.2,114.1h0M97.0,113.2h0M112.4,119.0h0M99.0,119.5h0M90.4,111.6h0M78.0,116.4h0M80.9,117.3h0M78.0,101.0h0M103.3,113.5h0M98.4,121.5h0M98.5,116.4h0M104.5,123.2h0M78.2,112.9h0M82.2,119.9h0M106.5,124.2h0M105.5,113.5h0M88.5,120.1h0M94.3,122.9h0M90.7,105.0h0M90.4,123.9h0M93.9,118.1h0M88.3,121.0h0M95.5,118.5h0M89.2,108.6h0M93.9,112.1h0M86.9,110.2h0M102.9,112.2h0" stroke="#e4d466" stroke-width="1.0" stroke-linecap="round" opacity="0.65" fill="none"/>
<path d="M132.0,112.0h0M126.4,120.4h0M131.8,110.5h0M121.9,110.4h0M120.6,116.7h0M129.1,112.8h0M125.0,110.3h0M121.1,121.9h0M124.0,111.3h0M112.6,118.7h0M125.0,119.1h0M122.9,123.7h0M112.6,113.0h0M119.8,121.2h0M119.2,124.0h0M127.8,122.0h0M120.6,120.2h0M110.0,118.5h0M123.8,110.4h0M115.5,126.7h0M125.4,116.6h0M110.4,123.1h0M121.3,117.9h0M121.3,110.1h0M110.1,109.5h0M121.8,117.4h0M135.0,110.0h0M125.8,114.1h0M121.1,113.4h0M122.4,116.9h0M116.3,119.2h0M112.6,119.6h0M126.0,120.3h0M118.7,121.9h0M120.2,111.4h0M115.4,110.1h0M128.9,125.7h0M127.3,118.6h0M122.9,113.9h0M120.1,115.3h0M112.8,121.9h0M123.3,129.2h0M117.9,115.5h0" stroke="#edb07e" stroke-width="0.9" stroke-linecap="round" opacity="0.55" fill="none"/>
<path d="M110,114 L118,110 L127,109 L133,112 L132,118 L126,122 L118,125 L111,124 Z" fill="#edb07e" opacity="0.95" filter="url(#b10)"/>
<path d="M121.6,115.2h0M129.8,112.4h0M116.5,124.4h0M114.1,119.3h0M112.0,119.6h0M111.3,121.8h0M115.6,115.1h0M118.7,123.8h0M115.1,114.0h0M130.5,116.1h0M116.2,125.1h0M128.4,118.2h0M115.2,121.6h0M115.6,124.3h0M126.1,114.0h0M115.3,111.7h0M114.9,123.1h0M111.8,118.1h0M124.6,119.5h0M117.0,118.6h0M112.7,113.0h0M122.4,117.8h0M117.6,117.9h0M125.3,114.2h0M122.6,112.5h0M119.8,115.5h0M120.9,114.9h0M121.6,117.7h0M120.8,119.3h0M118.8,119.7h0M124.9,110.7h0M127.2,115.2h0M116.8,124.2h0M120.5,117.2h0M117.4,110.4h0M116.5,118.6h0M115.3,122.7h0M116.1,119.3h0M115.4,114.6h0M124.9,117.1h0M119.3,123.6h0M123.8,116.8h0M118.8,116.6h0M123.2,114.8h0M119.8,117.1h0M122.3,109.3h0M115.6,113.2h0M124.4,114.9h0M126.2,116.7h0M124.5,121.5h0M116.5,119.3h0M131.1,115.3h0M111.1,114.3h0M123.5,113.5h0M124.8,111.1h0M121.4,113.3h0M123.3,114.2h0M113.5,121.2h0M118.4,118.0h0M122.1,119.0h0M116.3,114.2h0M117.6,113.5h0M121.2,119.9h0M122.0,112.0h0M118.3,120.3h0M115.4,115.2h0M115.1,116.6h0M115.1,119.9h0M122.9,117.8h0M120.7,120.0h0M120.4,121.0h0M123.4,109.5h0M119.2,112.0h0M117.6,122.5h0M121.7,119.3h0M124.9,115.7h0M117.1,112.1h0M121.2,113.9h0M120.5,113.9h0M120.9,115.7h0M130.6,111.8h0M125.2,120.0h0M123.0,113.9h0M118.2,119.9h0M130.6,115.8h0M121.3,111.5h0M119.2,115.8h0M126.7,114.6h0M120.4,115.2h0M120.6,115.9h0M121.8,119.9h0M113.2,119.9h0M127.7,115.7h0M115.1,118.4h0M118.0,116.8h0M117.4,120.7h0M122.1,111.0h0M113.5,116.2h0M119.0,121.1h0M122.3,120.8h0M118.4,111.0h0M115.9,118.2h0M129.1,117.4h0M132.2,114.3h0M113.2,121.4h0M127.4,118.1h0M127.8,111.7h0M120.8,114.8h0M117.0,111.3h0M122.6,121.5h0M130.0,113.0h0M110.3,113.9h0M119.7,123.6h0M111.7,117.1h0M124.8,122.3h0M128.6,117.6h0M131.4,114.5h0M119.2,119.7h0M118.7,119.4h0M130.0,112.1h0M110.5,112.9h0M115.9,118.4h0M114.8,119.0h0M115.2,118.9h0M116.4,117.4h0M122.4,115.8h0M126.5,113.7h0M126.1,118.0h0M121.4,120.2h0M113.5,124.9h0" stroke="#de8244" stroke-width="1.0" stroke-linecap="round" opacity="0.8" fill="none"/>
<g transform="translate(147.7,-1.2)">
<path d="M86.0,57.4h0M96.6,67.7h0M90.4,66.5h0M75.1,68.1h0M102.0,62.8h0M92.9,72.9h0M73.3,71.2h0M83.9,58.3h0M85.6,60.9h0M95.5,58.9h0M79.2,69.3h0M97.9,68.3h0M90.6,62.5h0M76.1,59.3h0M65.8,61.5h0M93.0,60.2h0M106.8,59.7h0M89.9,68.7h0M100.2,65.5h0M97.7,64.9h0M86.7,73.7h0M98.5,67.7h0M96.7,66.6h0M96.6,71.7h0M76.1,63.5h0M88.9,61.4h0M85.5,66.9h0M82.0,57.5h0M90.0,57.3h0M88.7,60.8h0M98.0,53.5h0M83.4,71.6h0M93.4,55.7h0M82.7,59.8h0M98.8,63.0h0M97.3,62.2h0M97.4,71.6h0M97.4,63.6h0M91.0,68.7h0M80.4,70.2h0M78.3,59.5h0M95.7,54.0h0M97.0,61.7h0M96.6,67.6h0M93.3,72.7h0M86.2,69.5h0M78.4,57.3h0M101.6,66.5h0M104.4,58.6h0M95.9,67.5h0" stroke="#efcfc2" stroke-width="0.9" stroke-linecap="round" opacity="0.55" fill="none"/>
<path d="M72,60 L80,57 L95,56 L104,60 L104,68 L98,74 L90,74 L84,72 L76,70 Z" fill="#efcfc2" opacity="0.5" filter="url(#b20)"/>
<path d="M95.7,66.7h0M98.6,70.4h0M78.3,61.6h0M92.5,74.2h0M93.3,70.0h0M81.0,64.9h0M73.5,63.8h0M78.2,70.8h0M90.6,60.5h0M94.7,60.4h0M95.0,55.9h0M103.1,70.1h0M85.6,58.5h0M82.9,57.0h0M77.1,72.9h0M80.8,68.7h0M92.6,56.1h0M89.8,59.8h0M102.8,63.1h0M99.5,62.0h0M98.6,72.6h0M94.4,56.4h0M91.9,67.6h0M90.9,57.2h0M97.8,72.3h0M82.3,72.7h0M82.7,69.2h0M80.7,61.4h0M77.0,61.1h0M93.9,68.1h0M83.1,68.9h0M78.5,63.2h0M93.8,63.4h0M91.9,68.6h0M94.2,68.6h0M89.1,59.4h0M75.1,64.5h0M100.3,59.4h0M78.3,67.0h0M79.3,59.7h0M98.1,71.2h0M83.5,60.8h0M84.0,60.0h0M79.0,66.8h0M89.0,61.6h0M95.8,58.0h0M92.1,61.3h0M102.6,61.5h0M97.5,66.7h0M101.0,62.9h0M81.3,57.5h0M96.7,64.1h0M98.9,64.7h0M88.0,62.5h0M78.2,65.5h0M96.0,61.6h0M96.2,68.2h0M88.4,69.4h0M94.4,59.9h0M71.1,61.7h0M95.2,71.2h0M79.7,58.7h0M102.3,66.4h0M101.3,59.6h0M79.7,58.3h0M90.4,69.5h0M87.4,63.6h0M77.0,56.5h0M93.2,67.4h0M100.3,65.8h0M86.2,71.6h0M80.3,61.4h0M93.0,62.8h0M99.7,62.7h0M90.5,68.7h0M103.7,69.1h0M97.5,72.5h0M102.7,60.3h0M80.7,64.4h0M72.7,62.1h0M85.8,69.9h0M99.9,64.9h0M90.1,71.7h0M95.7,65.8h0M89.1,63.8h0M81.1,65.3h0M85.4,57.4h0M84.8,64.1h0M102.3,65.6h0M102.2,68.7h0M94.1,62.8h0M103.2,60.4h0M78.0,56.6h0M79.0,60.9h0M79.4,65.3h0M79.0,61.2h0M100.0,68.2h0M86.3,62.0h0M76.3,60.2h0M89.9,59.5h0M88.2,68.1h0M94.0,63.1h0M87.6,70.5h0M80.8,66.2h0M94.9,60.1h0M103.8,63.8h0M80.2,63.1h0M99.8,62.6h0M97.2,72.8h0M86.6,71.2h0M79.6,64.4h0M95.7,71.2h0M92.0,63.6h0M81.5,67.4h0M79.6,66.6h0M95.2,56.5h0M90.6,70.4h0M89.9,67.5h0M83.6,59.1h0M95.0,66.8h0M94.1,71.2h0M80.7,58.9h0M94.4,72.1h0M83.8,60.1h0M87.6,61.6h0M91.7,67.7h0M92.7,72.9h0M76.9,62.1h0M82.4,67.6h0M86.0,67.0h0M102.6,69.8h0M94.3,60.5h0M101.3,63.9h0M83.4,70.9h0M74.2,64.4h0M85.1,71.4h0M80.0,57.7h0M75.5,63.4h0M75.8,60.7h0M96.6,74.4h0M100.3,60.8h0M98.0,58.9h0M77.8,64.3h0M87.6,65.7h0M82.7,57.1h0M92.1,67.5h0M95.9,74.7h0M81.7,57.7h0M76.5,59.5h0M76.0,57.5h0" stroke="#c46e58" stroke-width="0.9" stroke-linecap="round" opacity="0.75" fill="none"/>
<path d="M92.0,61.8h0M105.6,71.1h0M99.7,76.9h0M90.2,63.9h0M96.2,67.9h0M94.0,67.4h0M85.1,57.9h0M95.9,67.3h0M92.4,64.8h0M84.8,68.8h0M99.0,64.7h0M90.7,61.0h0M82.6,62.1h0M89.8,63.4h0M88.5,72.3h0M93.5,60.3h0M103.7,65.6h0M89.9,67.7h0M95.9,63.5h0M89.7,67.0h0M96.7,60.1h0M98.2,64.4h0M92.2,68.0h0M82.1,54.9h0M103.7,62.2h0M90.8,64.6h0M103.5,62.7h0M95.9,60.2h0M87.6,70.0h0M95.3,61.6h0M102.1,72.9h0M95.6,70.5h0M92.7,64.1h0M94.0,72.3h0M94.0,71.6h0M84.0,69.0h0" stroke="#dc9c88" stroke-width="0.9" stroke-linecap="round" opacity="0.55" fill="none"/>
<path d="M86,60 L98,60 L103,64 L101,71 L94,74 L86,70 Z" fill="#dc9c88" opacity="0.4" filter="url(#b15)"/>
<path d="M90.1,64.1h0M101.3,65.5h0M90.8,70.0h0M93.4,71.5h0M99.1,62.3h0M92.9,70.7h0M92.8,61.6h0M96.1,65.0h0M95.2,73.6h0M94.0,66.2h0M94.7,63.8h0M101.8,67.0h0M95.7,65.6h0M96.3,63.5h0M85.7,60.5h0M94.6,64.5h0M92.9,68.8h0M94.2,58.2h0M97.8,68.1h0M94.1,65.4h0M98.5,71.3h0M98.6,60.3h0M95.1,63.0h0M90.1,67.8h0M97.2,68.8h0M96.1,70.1h0M96.2,63.0h0M101.7,65.9h0M96.3,61.9h0M93.8,68.8h0M93.2,70.8h0M91.2,60.0h0M86.6,68.9h0M94.7,64.3h0M95.7,68.5h0M87.1,63.7h0M95.4,61.4h0M102.2,63.6h0M87.4,62.5h0M92.8,71.4h0M93.9,60.3h0M94.4,62.1h0M94.6,69.2h0M86.4,63.5h0M100.7,62.1h0M100.2,64.5h0M89.5,61.9h0M90.8,65.9h0M102.7,67.7h0M93.1,61.4h0M86.8,66.7h0M87.6,68.3h0M89.9,68.1h0M86.6,68.2h0M96.7,72.2h0M93.4,70.9h0M92.2,66.5h0M95.4,66.6h0M93.0,66.7h0M97.1,73.7h0M94.5,68.1h0M84.8,64.9h0M97.2,64.4h0M99.6,67.3h0M87.5,60.5h0M94.5,64.6h0M91.9,61.6h0M94.2,61.2h0M94.8,66.2h0M91.1,69.0h0M95.7,65.8h0M87.0,65.9h0M85.5,67.0h0M97.8,62.3h0M101.4,64.7h0M88.4,64.3h0M92.4,65.1h0M92.2,64.0h0M98.3,67.3h0M91.9,63.1h0M95.1,70.8h0M96.7,69.8h0M89.0,60.8h0M89.2,61.9h0M87.3,70.5h0M88.0,61.0h0M97.8,66.4h0M93.0,68.2h0M98.4,72.4h0M89.9,65.4h0M90.2,60.9h0M95.0,69.6h0M93.9,72.1h0M98.9,68.2h0M96.8,74.1h0M95.1,67.2h0M95.5,67.4h0M89.7,70.0h0M89.0,69.2h0M94.3,66.8h0M88.3,69.7h0M93.8,68.5h0M97.4,61.8h0M98.2,59.9h0M98.7,62.4h0M88.0,70.3h0M95.4,73.3h0M94.5,72.5h0M98.3,64.3h0M100.9,61.9h0" stroke="#984838" stroke-width="0.9" stroke-linecap="round" opacity="0.8" fill="none"/>
<path d="M89.9,79.5h0M82.8,89.4h0M87.8,88.4h0M78.9,86.3h0M99.6,85.6h0M99.9,87.6h0M86.3,72.5h0M98.2,79.9h0M87.7,87.1h0M97.1,91.2h0M87.9,83.5h0M99.5,87.2h0M89.8,83.3h0M87.1,85.5h0M97.1,75.6h0M102.3,82.0h0M91.8,74.9h0M100.4,86.3h0M87.2,75.0h0M88.8,87.3h0" stroke="#f3e3e0" stroke-width="0.9" stroke-linecap="round" opacity="0.55" fill="none"/>
<path d="M84,74 L94,74 L99,80 L102,88 L96,92 L88,92 L85,84 Z" fill="#f3e3e0" opacity="0.3" filter="url(#b20)"/>
<path d="M95.5,83.9h0M90.3,77.3h0M94.4,75.3h0M92.9,87.2h0M101.8,83.5h0M90.3,82.0h0M84.9,85.5h0M98.1,84.1h0M92.4,84.1h0M89.4,87.2h0M88.4,82.3h0M97.7,88.2h0M89.1,91.2h0M94.7,75.0h0M99.1,88.6h0M100.1,82.8h0M90.5,82.8h0M92.4,75.8h0M91.8,86.1h0M88.5,90.7h0M96.9,79.5h0M84.3,73.0h0M86.9,75.1h0M98.0,90.4h0M84.4,82.2h0M94.9,75.9h0M85.8,77.4h0M92.8,74.1h0M94.7,80.4h0M96.1,82.5h0M87.1,80.1h0M92.3,76.7h0M94.4,89.0h0M89.5,85.2h0M85.5,79.6h0M94.5,78.0h0M84.2,73.3h0M92.8,84.9h0M91.2,81.3h0M94.0,88.0h0M85.5,78.9h0M90.7,80.1h0M99.7,82.5h0M96.4,80.3h0M86.7,77.5h0M86.6,83.8h0M95.4,81.3h0M90.2,90.9h0M93.7,91.9h0M99.1,91.5h0M89.8,79.0h0M93.3,72.2h0M94.2,82.1h0M91.9,75.2h0M94.6,85.2h0M87.1,84.4h0M92.1,86.6h0M85.6,86.0h0M86.6,78.7h0M90.9,80.2h0" stroke="#d9a9a0" stroke-width="0.8" stroke-linecap="round" opacity="0.6" fill="none"/>
<path d="M103.0,25.0h0M100.2,37.9h0M102.1,38.7h0M102.3,41.7h0M102.1,44.7h0M103.9,33.5h0M104.6,41.5h0M99.5,41.8h0M104.0,25.2h0M103.0,42.6h0M92.2,40.0h0M103.0,26.5h0M107.2,34.7h0M103.7,39.7h0M100.8,42.2h0M104.4,35.8h0M100.9,40.1h0M104.6,29.3h0M105.1,40.6h0M98.1,45.2h0M106.4,26.8h0M98.7,35.3h0M109.4,41.5h0M111.9,41.9h0M104.2,38.7h0M106.2,42.5h0M97.5,46.3h0M111.7,36.3h0M110.4,23.4h0M111.3,38.9h0M108.5,34.6h0M103.4,37.5h0M97.6,38.3h0M95.9,39.0h0M98.8,33.1h0M109.1,29.2h0M103.6,40.5h0M96.6,40.0h0M112.9,33.8h0M108.9,30.1h0" stroke="#d2c2b2" stroke-width="0.9" stroke-linecap="round" opacity="0.55" fill="none"/>
<path d="M107,22 L109,27 L109.5,34 L110,42 L105,46 L96,46 L92,44 L96,38 L101,32 L105,27 Z" fill="#d2c2b2" opacity="0.95" filter="url(#b8)"/>
<path d="M103.5,31.6h0M101.6,43.3h0M106.2,41.1h0M107.4,27.9h0M104.2,38.4h0M94.9,43.3h0M102.8,29.7h0M103.8,34.4h0M109.3,27.0h0M96.5,41.6h0M105.9,28.9h0M106.9,33.4h0M101.2,32.7h0M110.1,36.2h0M104.7,34.1h0M110.6,39.6h0M103.8,36.9h0M107.1,28.8h0M103.3,41.1h0M99.2,37.9h0M105.0,45.1h0M108.8,35.4h0M97.7,42.3h0M100.5,42.4h0M98.6,36.2h0M94.3,42.5h0M99.6,39.5h0M100.6,42.4h0M100.5,37.0h0M102.3,44.1h0M109.6,42.1h0M95.6,40.1h0M104.8,25.9h0M99.0,37.9h0M102.2,45.0h0M98.4,42.6h0M104.6,39.4h0M106.9,42.4h0M105.5,42.6h0M102.7,38.0h0M104.7,34.6h0M110.5,39.7h0M99.9,39.9h0M98.6,41.6h0M103.6,31.2h0M110.3,40.6h0M98.9,44.0h0M103.0,38.3h0M99.6,37.9h0M101.4,35.4h0M104.7,39.4h0M109.0,36.9h0M105.9,32.2h0M93.5,44.9h0M96.1,45.2h0M103.8,44.8h0M97.9,46.1h0M103.8,38.3h0M94.8,38.9h0M101.8,35.7h0M107.5,28.1h0M100.1,40.6h0M94.9,39.7h0M100.5,45.3h0M109.1,34.4h0M99.8,44.2h0M106.1,40.5h0M106.7,34.6h0M103.1,31.3h0M106.0,30.2h0M101.6,36.4h0M99.9,32.9h0M108.5,31.5h0M104.8,31.4h0M106.0,45.4h0M101.9,32.0h0M104.0,39.3h0M103.7,37.6h0M103.8,39.2h0M92.9,41.0h0M94.8,41.4h0M98.5,46.3h0M99.2,37.2h0M103.5,45.5h0M101.0,36.9h0M95.5,39.6h0M109.3,28.4h0M108.4,40.7h0M104.2,40.5h0M108.8,31.1h0M106.8,37.3h0M110.1,32.6h0M102.9,42.9h0M101.5,43.3h0M98.4,38.9h0M103.5,31.1h0M108.0,30.0h0M96.2,40.7h0M100.2,43.3h0M104.9,43.0h0M109.1,43.7h0M96.9,43.8h0M107.7,39.7h0M107.3,41.0h0M103.1,42.4h0M107.0,42.3h0M99.2,40.3h0M104.7,39.9h0M108.0,42.9h0M93.7,41.6h0M108.5,32.0h0M100.1,41.0h0M102.8,37.3h0M102.6,32.3h0M104.6,44.8h0M97.3,41.0h0M101.0,36.0h0M110.3,32.6h0M93.9,43.0h0M108.0,36.2h0" stroke="#ad957e" stroke-width="1.0" stroke-linecap="round" opacity="0.75" fill="none"/>
<path d="M79.5,56.0h0M81.2,57.1h0M73.1,54.7h0M76.4,53.6h0M64.9,51.0h0M70.3,56.8h0M59.1,56.4h0M78.3,58.5h0M81.1,50.8h0M87.9,49.5h0M88.6,58.5h0M74.7,54.6h0M67.4,45.6h0M71.0,50.5h0M75.4,58.8h0M78.0,44.5h0M71.6,56.1h0M68.1,52.4h0M69.6,58.5h0M68.8,61.8h0M81.8,44.0h0M69.2,56.1h0M64.3,47.6h0M76.4,48.9h0M76.3,60.4h0M88.8,46.9h0M63.7,52.1h0M77.7,50.0h0M89.7,44.0h0M85.5,56.2h0M79.6,40.1h0M62.6,49.6h0M75.2,40.0h0" stroke="#f6dcc0" stroke-width="0.9" stroke-linecap="round" opacity="0.55" fill="none"/>
<path d="M62,48 L72,43 L84,44 L90,50 L88,58 L80,61 L68,61 L61,56 Z" fill="#f6dcc0" opacity="0.85" filter="url(#b10)"/>
<path d="M68.5,48.8h0M81.5,49.5h0M84.5,55.9h0M71.5,44.6h0M88.7,50.4h0M65.1,50.1h0M76.7,52.4h0M78.1,50.7h0M84.6,51.1h0M79.7,59.4h0M87.0,51.0h0M63.2,57.5h0M79.9,49.1h0M66.8,45.7h0M77.9,42.4h0M68.7,59.7h0M63.7,47.0h0M83.3,55.8h0M70.6,52.6h0M64.8,49.4h0M64.8,60.4h0M68.9,52.2h0M90.0,49.1h0M71.3,58.1h0M77.3,56.5h0M81.2,45.9h0M84.7,58.2h0M76.8,56.5h0M79.7,62.0h0M83.8,45.7h0M65.6,56.9h0M70.6,56.3h0M81.5,59.5h0M76.6,53.9h0M75.6,55.9h0M74.8,51.0h0M64.2,56.4h0M73.8,45.5h0M74.6,45.4h0M73.6,53.4h0M86.5,50.2h0M78.9,48.6h0M72.7,53.0h0M78.6,46.0h0M78.3,58.6h0M74.7,57.3h0M79.6,43.2h0M65.0,60.3h0M70.5,53.6h0M71.4,53.1h0M63.9,49.2h0M84.2,53.7h0M61.8,50.7h0M65.4,48.9h0M62.6,54.3h0M70.1,48.1h0M69.5,53.0h0M77.8,49.6h0M88.4,53.5h0M77.9,54.3h0M76.2,59.2h0M64.2,55.4h0M65.9,48.8h0M63.8,46.6h0M76.6,57.2h0M88.0,48.6h0M69.2,59.8h0M68.3,57.7h0M77.8,52.8h0M80.8,58.2h0M84.0,52.5h0M83.0,57.8h0M63.0,53.3h0M66.4,57.2h0M75.2,51.6h0M61.2,49.0h0M83.9,56.4h0M81.3,59.3h0M64.9,60.0h0M68.3,52.9h0M79.5,51.2h0M69.8,44.9h0M68.8,49.4h0M68.0,57.9h0M82.1,53.6h0M81.5,54.2h0M83.9,49.6h0M68.2,46.5h0M70.1,52.4h0M81.4,57.5h0M83.5,57.3h0M84.8,47.6h0M77.8,45.3h0M70.4,58.9h0M75.3,54.1h0M76.9,48.5h0M73.9,46.9h0M70.6,58.7h0M78.4,47.0h0M61.7,47.9h0" stroke="#f0c49a" stroke-width="1.0" stroke-linecap="round" opacity="0.7" fill="none"/>
<path d="M86.5,44.0h0M74.6,45.4h0M71.5,45.3h0M74.1,44.1h0M80.9,44.2h0M65.8,44.9h0M77.0,47.5h0M72.0,50.2h0M81.1,49.6h0M67.3,44.6h0M69.7,43.3h0M74.5,46.1h0M79.8,49.9h0M67.4,42.0h0M84.6,41.4h0M87.7,54.1h0M63.2,51.6h0M81.0,47.1h0M68.1,48.2h0M76.1,43.9h0M78.3,52.8h0M67.0,47.5h0M75.1,44.7h0M79.8,41.7h0M70.6,43.8h0M71.4,45.2h0M82.8,47.9h0M84.5,47.3h0M71.2,48.4h0M83.4,46.9h0" stroke="#f0bb7e" stroke-width="0.9" stroke-linecap="round" opacity="0.55" fill="none"/>
<path d="M64,47 L72,42.5 L84,43 L89,48 L80,50 L70,51 Z" fill="#f0bb7e" opacity="0.9" filter="url(#b8)"/>
<path d="M81.7,49.3h0M75.1,46.4h0M75.0,45.1h0M79.4,47.6h0M68.5,48.6h0M79.0,49.1h0M70.8,48.3h0M70.0,48.0h0M66.9,44.2h0M76.5,47.3h0M81.9,42.5h0M72.9,43.1h0M72.5,49.5h0M84.3,46.5h0M81.9,47.1h0M77.3,45.6h0M70.8,44.2h0M69.6,49.4h0M83.2,47.9h0M73.5,47.9h0M83.3,46.5h0M72.6,50.7h0M86.5,46.9h0M77.0,48.6h0M69.9,44.3h0M76.9,50.2h0M73.4,44.9h0M81.4,49.7h0M77.8,51.1h0M74.3,47.1h0M70.9,43.4h0M83.6,48.7h0M78.5,47.1h0M70.7,45.3h0M79.0,48.1h0M78.2,47.8h0M71.5,51.7h0M75.1,47.7h0M71.1,48.2h0M78.1,47.2h0M76.9,44.0h0M71.8,46.2h0M89.3,47.7h0M73.3,48.5h0M71.0,48.0h0M76.7,47.0h0M70.3,49.2h0M80.6,47.1h0M70.9,44.8h0M69.7,48.6h0M84.7,44.8h0M74.6,43.6h0M76.9,48.4h0M73.9,49.1h0M68.8,45.1h0M71.5,43.1h0M76.9,48.6h0M81.8,48.1h0M73.8,47.1h0M74.7,50.5h0M82.7,48.2h0M84.0,46.8h0M83.7,51.3h0M74.5,50.8h0M78.7,48.0h0M79.7,47.9h0M84.5,46.1h0M75.4,50.4h0M74.4,43.2h0M82.9,47.8h0M80.7,49.5h0M70.1,44.2h0M69.4,47.9h0M73.9,44.2h0M79.7,48.4h0M77.5,45.7h0M72.1,44.8h0M75.6,48.6h0M81.4,48.1h0M83.9,45.1h0M70.4,47.6h0M78.2,49.2h0M80.3,44.8h0M83.4,43.3h0M79.3,43.2h0M79.0,49.9h0M81.5,47.0h0M82.6,46.0h0M68.5,46.9h0M65.0,47.4h0" stroke="#e4944a" stroke-width="1.0" stroke-linecap="round" opacity="0.7" fill="none"/>
<path d="M90.5,56.1h0M90.9,50.4h0M94.5,47.8h0M107.5,49.3h0M99.9,56.9h0M100.7,55.8h0M95.4,52.4h0M101.3,51.4h0M94.5,53.2h0M96.1,51.3h0M90.0,56.8h0M93.8,55.3h0M98.3,47.2h0M104.9,56.4h0M103.5,48.2h0M104.6,47.8h0M103.3,60.5h0M103.3,49.5h0M97.3,41.8h0M89.8,52.6h0M94.5,50.8h0M92.2,42.6h0M92.3,53.4h0M101.9,50.4h0M91.1,52.3h0M104.3,51.8h0M102.4,52.1h0M96.6,50.6h0M101.8,45.5h0M98.6,53.2h0M93.1,56.7h0M102.4,41.4h0M105.6,45.6h0M108.0,49.0h0M100.4,43.2h0M97.8,51.3h0M94.5,53.0h0M101.4,52.3h0M97.3,46.9h0M101.0,51.8h0" stroke="#98cf86" stroke-width="0.9" stroke-linecap="round" opacity="0.55" fill="none"/>
<path d="M90,49 L97,45 L104,46 L107,50 L105,56 L97,57 L90,55 Z" fill="#98cf86" opacity="0.92" filter="url(#b8)"/>
<path d="M101.0,52.4h0M104.5,48.3h0M101.7,51.1h0M96.0,48.6h0M95.9,52.7h0M99.3,54.3h0M103.3,49.4h0M93.6,53.5h0M105.0,54.4h0M91.3,48.8h0M92.9,45.7h0M99.6,54.7h0M92.3,48.0h0M104.0,46.2h0M98.1,45.7h0M104.3,48.9h0M89.5,51.0h0M94.8,48.9h0M94.2,48.4h0M92.9,49.5h0M92.9,50.3h0M90.1,51.1h0M103.2,49.2h0M104.2,46.7h0M92.1,54.1h0M97.5,56.0h0M98.4,44.8h0M99.1,46.8h0M103.2,54.8h0M94.8,50.4h0M93.4,51.7h0M104.0,50.1h0M96.4,45.5h0M99.4,46.0h0M102.9,47.7h0M98.5,50.9h0M94.9,50.1h0M103.4,52.9h0M103.6,44.7h0M98.6,52.6h0M98.6,51.6h0M100.2,51.1h0M102.3,51.3h0M104.3,54.6h0M102.8,53.7h0M101.3,49.9h0M98.7,54.3h0M98.7,55.2h0M105.0,47.7h0M97.2,45.4h0M96.0,51.2h0M105.4,49.6h0M94.7,53.7h0M100.7,50.2h0M104.2,57.9h0M98.0,46.3h0M102.2,50.6h0M104.4,51.1h0M106.6,50.0h0M92.4,46.7h0M97.5,52.0h0M100.0,53.6h0M93.7,50.0h0M101.9,49.6h0M93.1,55.0h0M98.7,52.2h0M99.1,50.2h0M105.2,47.9h0M100.1,53.7h0M103.5,46.7h0M105.8,46.9h0M94.2,54.4h0M96.0,46.3h0M103.6,54.0h0M94.3,50.2h0M94.7,50.7h0M94.3,50.4h0M103.3,57.3h0M95.9,48.4h0M105.0,54.9h0M90.6,51.3h0M99.6,49.0h0M104.2,46.0h0M102.1,55.9h0M101.9,51.4h0M95.4,51.8h0M96.3,48.1h0M100.8,47.2h0M96.9,47.1h0M104.2,54.8h0M92.3,49.6h0M97.9,51.2h0M95.2,49.4h0M92.9,53.0h0M91.7,48.8h0M93.6,53.8h0M96.9,49.5h0M98.0,51.7h0M96.4,53.5h0M94.1,51.1h0M89.3,47.7h0M103.2,50.0h0M105.8,52.5h0M98.0,47.2h0M99.8,50.2h0M105.2,54.1h0M103.5,50.5h0M105.7,54.4h0M95.8,56.9h0M103.3,48.0h0M97.8,55.4h0M95.6,50.0h0M89.8,52.8h0M95.7,54.6h0M95.6,55.6h0M99.2,45.7h0M100.5,52.1h0M94.2,50.0h0M93.2,48.4h0M104.0,50.3h0" stroke="#58a846" stroke-width="1.0" stroke-linecap="round" opacity="0.7" fill="none"/>
<path d="M104,50 L110,52 L112,58 L105,58 Z" fill="#d6ddd6" opacity="0.8" filter="url(#b12)"/>
<path d="M62.4,62.3h0M68.5,66.6h0M60.7,57.8h0M61.0,63.3h0M68.2,64.0h0M71.1,64.8h0M63.9,57.0h0M67.5,61.2h0M62.5,56.7h0M59.7,68.1h0M67.2,60.2h0M70.6,60.6h0M65.2,60.3h0M65.2,58.5h0M60.5,60.7h0M62.1,60.5h0M57.4,58.4h0M67.1,69.3h0M62.9,58.2h0M62.0,59.7h0M57.4,57.8h0M66.9,65.5h0M77.1,59.3h0M63.3,64.7h0M71.6,61.8h0M60.9,55.8h0M67.9,58.9h0M70.1,61.6h0M63.3,60.2h0M59.1,53.1h0M58.2,60.2h0M54.3,62.7h0M66.8,66.1h0" stroke="#5f92d0" stroke-width="0.9" stroke-linecap="round" opacity="0.55" fill="none"/>
<path d="M59,56 L64,54 L70,57 L72,63 L68,67 L61,66 L59,61 Z" fill="#5f92d0" opacity="0.95" filter="url(#b8)"/>
<path d="M62.1,62.5h0M69.5,62.0h0M70.0,58.2h0M61.0,58.9h0M60.8,61.0h0M68.1,55.8h0M65.6,67.9h0M68.7,64.2h0M62.0,55.4h0M62.8,66.6h0M68.5,64.2h0M64.6,62.2h0M62.6,63.9h0M64.8,64.1h0M63.6,63.4h0M63.6,61.1h0M68.4,55.9h0M63.0,57.3h0M63.1,57.5h0M67.5,65.8h0M63.5,62.0h0M69.3,64.2h0M70.8,57.6h0M62.2,63.4h0M65.9,56.2h0M69.5,65.0h0M63.0,60.7h0M66.8,53.4h0M65.7,65.8h0M70.3,63.7h0M66.1,64.9h0M64.8,62.2h0M70.0,62.0h0M64.0,61.6h0M63.4,59.3h0M62.9,56.4h0M66.6,62.9h0M63.7,63.6h0M69.4,57.1h0M63.5,60.9h0M69.6,62.3h0M66.0,54.4h0M71.0,60.8h0M63.1,67.1h0M63.0,62.9h0M59.0,59.8h0M70.0,60.2h0M68.7,60.0h0M62.1,60.4h0M69.5,57.9h0M68.3,62.2h0M60.0,61.8h0M67.9,57.3h0M69.3,57.5h0M65.3,63.8h0M63.6,60.5h0M62.7,62.4h0M62.7,61.0h0M62.0,58.3h0M66.7,61.8h0M63.9,64.3h0M66.5,58.6h0M60.8,56.4h0M68.2,59.3h0M66.5,60.2h0M67.7,65.3h0M64.2,56.9h0M63.7,64.0h0M65.6,56.0h0M59.3,65.4h0M64.0,58.1h0M60.6,56.8h0M61.5,61.1h0M63.4,60.8h0M63.1,58.0h0M63.2,55.7h0M66.2,59.4h0M64.1,55.8h0M64.5,64.4h0M62.7,62.3h0M62.7,55.3h0M67.8,60.1h0M60.0,60.4h0M59.3,59.8h0M67.2,66.0h0M61.0,60.3h0M68.5,62.2h0M70.9,58.8h0M67.9,62.3h0M62.8,62.8h0M63.4,57.2h0M70.6,64.2h0M69.2,65.4h0M60.9,64.8h0M67.6,64.3h0M68.4,56.1h0M69.0,61.4h0M61.3,65.0h0M66.8,61.8h0M62.2,59.2h0" stroke="#2060ae" stroke-width="1.0" stroke-linecap="round" opacity="0.9" fill="none"/>
<path d="M79.2,78.1h0M79.5,84.1h0M83.6,88.2h0M69.5,88.4h0M76.5,74.6h0M73.8,90.1h0M81.0,92.6h0M68.8,80.8h0M72.6,93.4h0M80.6,68.0h0M76.8,75.2h0M69.0,95.0h0M83.7,79.7h0M80.3,75.9h0M69.3,93.2h0M74.7,77.1h0M78.9,97.7h0M75.8,74.9h0M83.3,76.4h0M77.3,88.2h0M81.7,75.5h0M75.5,85.0h0M75.1,98.5h0M77.8,104.1h0M81.3,93.1h0M71.3,85.2h0M75.6,85.0h0M73.9,98.3h0M80.0,87.5h0M81.5,79.9h0M75.5,80.5h0M85.4,74.9h0M74.0,75.6h0M78.8,77.7h0M81.7,87.7h0M78.5,86.7h0M65.8,90.6h0M74.4,86.4h0M79.4,77.3h0M84.7,99.2h0M79.8,104.3h0M69.1,86.6h0M70.9,86.7h0M82.1,73.3h0M79.5,86.1h0M76.7,94.1h0M76.5,83.8h0M74.7,96.8h0M83.4,76.3h0M70.4,71.4h0M73.0,91.5h0M77.9,71.9h0M79.6,99.2h0M83.1,90.7h0M81.5,90.5h0M71.1,88.4h0M84.4,83.4h0M72.7,88.4h0M82.2,86.6h0M72.7,84.8h0" stroke="#e8946f" stroke-width="0.9" stroke-linecap="round" opacity="0.55" fill="none"/>
<path d="M78,71 L85,72 L84,80 L83,88 L84,96 L86,101 L78,102 L73,99 L71,91 L71,82 L74,75 Z" fill="#e8946f" opacity="0.9" filter="url(#b10)"/>
<path d="M77.6,91.6h0M76.7,100.3h0M78.7,77.5h0M81.3,90.6h0M78.3,82.8h0M81.0,72.0h0M80.5,80.3h0M74.6,100.0h0M81.9,93.8h0M76.9,86.0h0M76.7,81.1h0M75.5,85.9h0M75.6,79.8h0M74.8,81.7h0M74.9,92.8h0M74.0,94.4h0M79.2,77.4h0M80.1,98.9h0M78.4,82.0h0M74.7,90.3h0M72.8,93.0h0M76.3,81.0h0M77.0,76.7h0M78.5,101.4h0M76.7,78.9h0M73.9,85.1h0M76.8,75.5h0M70.9,86.5h0M74.9,95.6h0M75.1,76.1h0M71.3,91.5h0M83.4,81.0h0M77.8,97.5h0M80.7,83.0h0M84.8,99.1h0M78.1,94.3h0M78.0,98.7h0M81.6,75.4h0M79.3,89.5h0M79.5,73.3h0M77.4,93.1h0M79.3,75.8h0M74.2,95.5h0M82.2,86.0h0M76.7,99.2h0M79.7,100.3h0M74.1,97.9h0M74.1,77.7h0M73.7,97.0h0M76.8,85.2h0M76.3,73.1h0M81.2,80.7h0M81.7,86.3h0M79.8,92.7h0M77.8,98.8h0M83.8,94.1h0M84.4,78.0h0M81.2,95.2h0M76.3,100.8h0M72.2,87.7h0M76.4,72.2h0M83.3,89.0h0M83.7,79.2h0M80.0,81.7h0M80.0,87.1h0M75.1,82.7h0M75.0,80.3h0M79.3,80.5h0M75.9,99.0h0M73.8,83.0h0M83.2,87.2h0M80.6,97.2h0M68.4,88.7h0M79.0,93.3h0M73.1,96.8h0M78.3,79.2h0M81.2,82.7h0M75.7,92.3h0M83.3,80.8h0M73.0,93.5h0M84.1,77.3h0M74.8,86.4h0M81.4,70.2h0M74.7,97.4h0M78.0,83.6h0M73.6,85.9h0M77.2,87.1h0M84.2,98.5h0M76.2,90.7h0M77.2,96.3h0M82.6,74.6h0M82.0,71.7h0M80.3,73.2h0M73.5,84.1h0M81.9,95.5h0M81.6,89.0h0M82.4,76.3h0M82.0,98.6h0M83.4,92.3h0M76.2,76.7h0M76.8,90.9h0M76.6,95.9h0M77.4,97.0h0M79.9,100.4h0M79.1,76.6h0M80.4,76.5h0M82.4,85.2h0M81.0,100.9h0M78.4,80.4h0M77.4,88.0h0M75.6,91.1h0M80.5,93.6h0M73.7,90.6h0M75.8,80.2h0M72.1,91.5h0M72.1,93.7h0M77.3,94.9h0M81.9,83.5h0M78.6,77.6h0M75.7,85.4h0M79.3,74.5h0M79.2,80.7h0M74.1,77.3h0M70.1,82.7h0M85.8,99.6h0M74.5,89.4h0M77.9,100.6h0M83.7,83.3h0M79.0,89.1h0M78.3,91.7h0M79.0,94.8h0M81.0,100.7h0M74.3,86.8h0M80.8,98.4h0M79.4,77.2h0M83.3,72.8h0M80.7,90.1h0M73.7,83.8h0M76.8,81.7h0M78.7,82.6h0M71.7,92.9h0M79.7,75.8h0M76.4,72.1h0M81.1,74.4h0M69.5,88.1h0M80.1,77.0h0M74.0,90.1h0M75.9,90.9h0M78.1,97.1h0M82.2,81.3h0M70.8,86.0h0M81.6,97.3h0M81.4,75.4h0M85.2,88.5h0M79.6,96.8h0M76.9,92.1h0M78.6,97.7h0M81.6,98.0h0M79.9,83.2h0M78.9,97.2h0M82.5,93.3h0M80.5,98.4h0M74.6,96.6h0M74.8,92.9h0M79.8,97.7h0M81.4,98.3h0M81.8,74.2h0M78.2,74.8h0M83.8,83.7h0M81.7,88.9h0M80.2,100.6h0M81.5,87.0h0M82.2,73.7h0M78.9,74.9h0M80.7,88.5h0M83.5,101.7h0M82.7,91.9h0M78.4,85.8h0M73.5,86.0h0M76.0,72.9h0" stroke="#d65a35" stroke-width="1.0" stroke-linecap="round" opacity="0.8" fill="none"/>
<path d="M93.2,81.0h0M85.3,84.2h0M94.6,80.7h0M94.9,78.4h0M90.1,83.4h0M89.0,76.3h0M96.8,76.6h0M83.1,80.4h0M86.4,77.3h0M83.0,76.8h0" stroke="#e0584a" stroke-width="0.9" stroke-linecap="round" opacity="0.55" fill="none"/>
<path d="M82,77 L92,77 L97,79 L92,81 L82,81 Z" fill="#e0584a" opacity="0.95" filter="url(#b6)"/>
<path d="M85.1,77.6h0M95.0,77.8h0M91.4,79.0h0M84.6,78.0h0M86.8,78.6h0M86.0,78.1h0M90.6,78.6h0M92.5,79.3h0M90.3,77.6h0M89.5,77.2h0M88.3,79.8h0M86.1,81.6h0M93.7,78.5h0M88.3,79.2h0M87.9,80.9h0M87.4,82.2h0M93.3,77.6h0M97.8,78.0h0M88.5,79.2h0M90.0,80.5h0M86.3,80.8h0M86.9,80.3h0M89.1,80.3h0M88.1,77.4h0M90.3,78.5h0M89.3,78.1h0M83.9,80.6h0M85.8,80.9h0M87.4,81.7h0M83.5,75.8h0" stroke="#d03a30" stroke-width="1.0" stroke-linecap="round" opacity="0.8" fill="none"/>
<path d="M92.4,98.6h0M115.8,109.2h0M96.9,101.4h0M106.1,102.4h0M95.7,98.6h0M94.7,95.5h0M88.8,86.7h0M95.0,100.9h0M93.0,87.2h0M108.5,105.7h0M98.9,104.1h0M106.7,105.9h0M105.7,107.9h0M96.4,101.7h0M91.9,92.9h0M111.8,108.6h0M95.8,91.7h0M103.9,102.9h0M108.8,109.4h0M101.8,98.9h0M90.9,103.7h0M93.5,97.8h0M94.1,103.5h0M114.1,106.1h0M107.4,103.1h0M109.2,113.7h0M96.4,88.3h0M99.9,98.7h0M90.4,90.8h0M86.2,100.5h0M106.9,107.1h0M89.1,83.5h0M107.5,105.1h0M114.6,107.1h0M107.9,104.9h0M108.9,112.4h0M105.8,102.4h0M94.5,98.5h0M89.6,89.6h0M95.4,111.1h0M95.3,106.8h0M99.6,100.5h0M101.3,103.9h0M90.6,96.4h0M105.7,96.2h0M101.4,105.6h0M106.7,108.8h0M102.6,100.1h0M101.3,107.7h0M111.5,111.6h0M106.8,109.2h0M99.5,102.6h0M107.7,105.5h0M104.4,109.1h0M99.5,88.6h0M113.6,109.8h0" stroke="#c6bce8" stroke-width="0.9" stroke-linecap="round" opacity="0.55" fill="none"/>
<path d="M88,89 L94,88 L101,94 L108,100 L114,106 L117,112 L112,115.5 L104,111 L96,105 L90,98 Z" fill="#c6bce8" opacity="0.85" filter="url(#b12)"/>
<path d="M106.1,113.6h0M107.4,111.3h0M104.4,105.4h0M96.5,97.9h0M91.2,89.8h0M102.7,103.5h0M94.1,90.5h0M100.3,96.9h0M108.4,103.1h0M108.5,108.4h0M103.1,109.6h0M111.8,113.9h0M109.0,110.1h0M113.6,107.6h0M96.7,103.4h0M93.2,90.0h0M107.1,106.2h0M110.2,108.8h0M98.0,97.1h0M92.1,94.9h0M106.0,98.5h0M102.9,105.4h0M94.5,91.6h0M110.9,109.3h0M90.1,94.5h0M93.7,89.6h0M108.7,105.8h0M95.8,101.1h0M103.5,100.4h0M93.9,99.9h0M97.3,94.1h0M92.3,91.9h0M109.1,111.8h0M96.1,97.4h0M107.4,109.0h0M95.5,103.0h0M97.1,102.1h0M104.5,97.8h0M108.1,101.4h0M105.0,99.3h0M111.2,112.1h0M99.2,98.9h0M94.1,99.5h0M94.1,97.3h0M103.4,111.0h0M97.7,104.8h0M110.6,113.5h0M101.8,102.7h0M110.7,108.9h0M102.0,108.6h0M106.6,104.7h0M101.5,96.0h0M92.0,91.9h0M106.5,100.5h0M106.0,103.4h0M93.4,96.1h0M94.6,98.6h0M108.6,102.4h0M106.9,103.9h0M98.0,92.3h0M93.5,96.7h0M115.3,112.2h0M105.4,98.1h0M106.0,108.2h0M112.3,113.9h0M96.3,92.5h0M98.8,98.6h0M94.6,97.5h0M96.2,102.7h0M103.2,105.5h0M110.9,106.8h0M108.3,106.5h0M93.3,102.2h0M91.5,89.3h0M102.4,97.3h0M108.3,107.2h0M96.5,92.8h0M112.3,111.3h0M92.8,90.9h0M92.1,95.3h0M104.8,102.9h0M100.3,96.2h0M93.8,92.9h0M95.3,104.1h0M94.4,91.1h0M108.1,104.0h0M104.0,109.0h0M92.8,95.8h0M93.3,95.4h0M104.5,100.7h0M101.4,96.9h0M110.4,105.9h0M110.5,112.2h0M94.5,97.7h0M113.6,117.5h0M105.0,105.9h0M106.0,102.1h0M95.9,92.5h0M93.4,97.9h0M103.8,112.1h0M101.7,105.5h0M104.2,103.2h0M95.0,100.3h0M95.1,97.8h0M95.8,104.7h0M95.6,91.6h0M91.8,96.0h0M112.4,102.4h0M115.5,109.2h0M112.4,109.2h0M100.3,105.8h0M105.1,110.1h0M97.8,100.7h0M106.7,108.7h0M89.8,90.1h0M109.1,102.8h0M100.2,96.8h0M103.1,100.7h0M98.4,95.0h0M112.3,112.9h0M103.0,100.9h0M102.2,100.4h0M99.3,94.7h0M111.8,112.2h0M113.1,113.3h0M98.0,90.8h0M113.6,102.7h0M100.1,99.0h0M109.0,104.1h0M90.4,91.9h0M109.5,112.3h0M99.6,107.4h0M107.2,101.6h0M100.5,96.4h0M108.6,103.7h0M98.6,93.6h0M95.3,89.5h0M110.4,111.8h0M88.1,92.8h0M99.4,93.2h0M93.7,99.0h0M106.3,101.9h0M99.7,92.6h0M101.9,98.4h0M113.8,113.2h0M97.2,98.6h0M110.5,105.2h0M92.7,101.2h0M109.6,105.7h0M103.5,106.8h0M95.7,99.1h0M103.3,104.1h0M103.5,104.2h0M90.3,98.1h0M96.6,101.9h0M93.2,92.4h0M105.7,110.5h0M110.7,108.4h0M91.0,86.8h0M111.0,111.9h0M105.3,110.2h0M103.6,105.9h0M108.6,100.3h0M93.6,97.4h0M98.8,94.1h0M92.1,94.6h0M96.6,101.3h0M108.8,108.7h0M93.4,91.0h0M97.0,102.8h0" stroke="#8e7ec8" stroke-width="1.0" stroke-linecap="round" opacity="0.78" fill="none"/>
<path d="M96,92 L101,84 L103,85 L99,93 Z" fill="#b8bcc8" opacity="0.7" filter="url(#b8)"/>
<path d="M107.5,118.5h0M73.4,112.5h0M94.9,116.7h0M86.1,115.0h0M80.3,112.5h0M74.7,110.8h0M76.9,91.4h0M82.1,116.1h0M74.4,102.1h0M83.9,95.1h0M85.2,109.4h0M78.4,106.8h0M105.0,118.8h0M84.8,114.0h0M84.6,117.7h0M101.7,117.4h0M72.3,103.6h0M81.7,113.4h0M100.1,120.8h0M96.0,122.3h0M92.1,118.1h0M93.9,113.4h0M93.3,118.6h0M81.6,101.2h0M85.8,115.7h0M90.4,108.9h0M83.1,104.7h0M78.0,115.7h0M90.6,121.5h0M87.6,107.7h0M104.3,121.5h0M87.9,109.6h0M89.5,105.7h0M82.5,110.0h0M90.7,106.6h0M111.3,117.5h0M89.8,116.4h0M85.9,119.5h0M83.2,115.3h0M95.5,118.1h0M80.0,103.5h0M82.5,122.5h0M105.5,123.3h0M84.7,105.5h0M104.4,120.0h0M77.7,106.4h0M102.1,116.4h0M88.0,110.0h0M76.4,116.6h0M85.8,121.7h0M95.1,118.5h0M95.8,122.3h0M84.0,101.4h0M90.2,118.9h0M104.6,121.3h0M92.8,108.2h0M101.9,117.5h0M76.3,103.4h0M76.3,95.7h0M80.0,108.2h0M99.8,111.0h0M108.6,116.4h0M96.8,115.7h0" stroke="#f0e798" stroke-width="0.9" stroke-linecap="round" opacity="0.55" fill="none"/>
<path d="M73,99 L80,100 L86,101 L92,107 L100,112 L108,116 L111,120 L108,124 L98,125 L86,123 L78,117 L74,109 Z" fill="#f0e798" opacity="0.95" filter="url(#b10)"/>
<path d="M91.5,108.6h0M84.1,109.5h0M102.4,117.1h0M85.4,120.2h0M83.1,111.9h0M94.5,114.9h0M91.6,115.0h0M76.1,108.9h0M99.0,122.5h0M86.4,114.5h0M95.2,115.9h0M92.7,115.9h0M93.4,114.3h0M77.0,109.6h0M75.8,109.5h0M73.2,104.7h0M81.2,109.6h0M99.1,111.8h0M78.3,114.4h0M84.5,118.8h0M87.7,112.3h0M92.0,121.2h0M85.7,117.0h0M97.4,119.2h0M85.2,105.5h0M82.5,109.4h0M80.6,115.2h0M102.7,115.9h0M98.3,114.2h0M85.1,115.5h0M78.2,108.4h0M94.1,115.1h0M93.9,116.8h0M85.6,119.5h0M80.1,118.7h0M84.5,112.0h0M100.7,112.0h0M83.8,119.7h0M101.0,117.5h0M80.2,111.1h0M108.0,123.1h0M83.6,117.7h0M95.8,117.7h0M92.2,117.7h0M107.4,118.5h0M79.1,107.9h0M82.5,106.4h0M79.2,104.4h0M91.0,123.6h0M79.0,115.5h0M85.8,103.0h0M92.1,108.7h0M87.9,109.7h0M86.3,112.8h0M87.8,119.0h0M75.9,102.6h0M78.3,103.3h0M105.0,123.0h0M100.2,114.9h0M96.1,120.8h0M81.3,102.6h0M81.9,117.6h0M90.9,115.6h0M105.0,114.8h0M74.7,105.6h0M84.7,109.8h0M80.0,115.7h0M102.3,119.4h0M75.7,105.2h0M86.1,104.8h0M84.8,118.8h0M84.0,117.1h0M98.5,124.1h0M78.1,104.7h0M81.9,108.1h0M76.0,113.6h0M91.2,123.3h0M87.0,114.9h0M84.8,116.7h0M75.8,110.1h0M76.3,106.2h0M98.2,110.4h0M79.0,106.0h0M101.1,116.6h0M104.7,124.1h0M104.5,120.9h0M79.5,105.7h0M88.2,112.8h0M97.0,112.8h0M84.2,119.0h0M78.3,116.6h0M77.4,109.4h0M86.2,113.3h0M77.6,104.5h0M98.1,122.6h0M87.6,113.8h0M85.7,118.3h0M102.5,121.4h0M108.6,119.3h0M94.2,113.8h0M87.0,122.1h0M78.1,112.1h0M86.3,119.1h0M95.0,120.4h0M85.6,102.7h0M89.7,123.1h0M95.3,120.6h0M103.6,118.5h0M101.0,114.2h0M84.3,101.6h0M74.6,100.8h0M107.6,121.1h0M76.5,116.7h0M96.9,115.9h0M88.9,116.2h0M81.0,106.3h0M102.8,116.5h0M108.0,118.1h0M90.6,106.4h0M88.6,109.8h0M84.8,100.9h0M91.3,114.1h0M90.6,118.2h0M81.6,111.3h0M77.5,109.0h0M86.0,107.2h0M103.5,122.0h0M100.6,119.9h0M83.8,102.7h0M79.2,113.6h0M92.9,114.8h0M89.7,122.5h0M88.7,105.1h0M88.9,107.9h0M99.7,113.2h0M88.0,111.2h0M92.8,111.1h0M103.4,117.1h0M76.4,103.5h0M97.4,108.8h0M85.1,101.8h0M78.4,105.1h0M74.5,107.8h0M107.9,121.1h0M88.9,112.8h0M85.6,113.6h0M88.0,116.3h0M105.0,122.3h0M86.7,105.1h0M77.0,106.0h0M95.4,118.1h0M96.1,115.9h0M86.1,109.0h0M80.4,111.3h0M80.0,117.7h0M94.5,124.0h0M83.7,101.1h0M76.2,106.8h0M95.6,113.7h0M108.2,118.8h0M84.0,103.3h0M89.2,124.7h0M88.8,108.8h0M85.3,112.8h0M89.7,115.1h0M81.6,108.5h0M83.9,113.1h0M83.2,117.4h0M94.6,108.3h0M100.7,124.8h0M95.5,124.3h0M98.5,116.8h0M87.1,112.0h0M90.9,118.3h0M97.2,124.9h0M99.0,116.4h0M75.0,100.5h0M85.7,123.8h0M89.2,109.0h0M78.8,106.8h0M88.2,110.2h0M98.6,118.8h0M95.4,112.3h0M85.0,104.4h0M84.6,112.6h0M91.4,117.0h0M102.5,118.7h0M87.1,122.0h0M87.7,122.6h0M82.9,117.7h0" stroke="#e4d466" stroke-width="1.0" stroke-linecap="round" opacity="0.65" fill="none"/>
<path d="M121.5,122.4h0M117.1,116.9h0M116.2,115.2h0M130.8,111.2h0M120.7,116.4h0M122.8,124.1h0M121.7,110.5h0M123.6,113.3h0M121.2,107.9h0M110.2,116.6h0M108.0,120.5h0M125.2,106.6h0M104.7,126.4h0M124.1,114.0h0M108.4,117.1h0M115.5,115.4h0M118.8,115.1h0M115.6,118.2h0M114.5,112.3h0M116.4,118.0h0M128.0,113.8h0M111.9,112.3h0M108.0,120.2h0M114.6,116.1h0M116.5,111.6h0M132.1,109.7h0M115.9,106.1h0M112.8,118.9h0M129.5,109.3h0M120.9,122.8h0M114.2,108.6h0M123.0,117.4h0M117.5,126.1h0M121.9,120.9h0M121.7,120.8h0M122.8,125.4h0M117.2,118.2h0M124.1,110.1h0M129.1,107.7h0M133.1,120.6h0M126.1,110.8h0M111.1,113.5h0M116.1,109.6h0" stroke="#edb07e" stroke-width="0.9" stroke-linecap="round" opacity="0.55" fill="none"/>
<path d="M107,114 L116,110 L126,109 L132,111 L131,117 L124,122 L114,124 L107,123 Z" fill="#edb07e" opacity="0.95" filter="url(#b10)"/>
<path d="M129.7,117.3h0M119.6,118.8h0M121.2,117.6h0M124.7,112.8h0M112.0,116.2h0M118.2,121.5h0M111.4,116.5h0M109.5,118.4h0M123.2,120.1h0M119.8,116.0h0M106.6,119.5h0M124.0,120.3h0M127.3,112.2h0M119.2,110.5h0M109.3,122.7h0M122.6,120.0h0M112.8,120.8h0M124.4,115.8h0M109.0,114.7h0M124.4,120.0h0M111.5,123.5h0M125.5,120.0h0M113.8,117.7h0M126.2,112.0h0M108.0,120.1h0M112.2,116.9h0M118.2,118.3h0M108.8,121.0h0M130.0,115.4h0M113.9,119.5h0M130.1,113.5h0M109.9,118.4h0M111.6,114.0h0M118.6,113.1h0M128.3,110.6h0M111.4,122.4h0M127.5,112.5h0M126.3,112.3h0M109.0,123.9h0M107.2,125.0h0M118.3,115.1h0M110.8,114.9h0M118.7,112.7h0M115.4,114.9h0M126.0,116.2h0M111.5,117.6h0M110.0,120.4h0M117.2,113.4h0M119.7,112.1h0M116.6,116.4h0M129.7,114.8h0M122.9,108.5h0M120.5,121.0h0M121.6,115.0h0M134.9,112.5h0M125.7,112.4h0M127.8,109.9h0M129.9,112.1h0M110.9,116.2h0M117.4,122.1h0M108.4,118.1h0M113.3,116.8h0M109.4,120.7h0M114.9,112.9h0M122.9,118.0h0M121.5,119.4h0M119.4,123.4h0M123.4,119.5h0M111.9,112.2h0M123.2,122.7h0M111.0,121.3h0M112.4,114.8h0M131.8,116.1h0M126.1,117.7h0M116.2,116.7h0M116.1,113.9h0M116.6,115.6h0M121.7,120.6h0M122.0,114.0h0M124.3,112.0h0M122.0,112.4h0M125.9,115.6h0M128.0,117.5h0M110.5,115.4h0M119.3,113.4h0M127.3,113.4h0M115.0,111.1h0M113.4,121.5h0M122.7,112.5h0M130.3,113.0h0M118.7,120.2h0M114.2,117.0h0M119.6,117.8h0M125.0,113.9h0M110.9,115.3h0M123.0,118.7h0M116.5,110.6h0M110.7,119.9h0M117.8,116.2h0M131.3,115.9h0M110.9,118.4h0M130.9,112.4h0M120.3,112.7h0M115.1,113.5h0M124.9,115.7h0M111.0,113.8h0M125.7,117.4h0M121.6,113.7h0M108.0,116.4h0M129.2,117.0h0M109.1,115.4h0M129.4,117.5h0M120.8,116.8h0M110.5,123.4h0M112.6,121.5h0M124.6,116.2h0M122.5,111.3h0M114.1,117.7h0M125.4,119.9h0M120.6,118.0h0M122.8,114.6h0M124.9,110.2h0M112.4,111.6h0M116.3,117.2h0M114.8,114.9h0M110.3,118.4h0M126.4,116.3h0M124.0,116.1h0M121.6,117.5h0M126.6,110.1h0" stroke="#de8244" stroke-width="1.0" stroke-linecap="round" opacity="0.8" fill="none"/>
</g>
<path d="M164,71.5 L170,71.5 L176,72 L176.5,75.5 L170,76 L164,75.5 Z" fill="#c6c6cc" opacity="0.95" filter="url(#b8)"/>
<path d="M160,71.5 L165,71 L167.5,73 L166.5,76.5 L161,76.5 Z" fill="#4a4058" opacity="0.9" filter="url(#b6)"/>
<text x="102.5" y="41.592" font-size="7.2" text-anchor="middle" font-weight="bold" fill="#3a3330">7</text>
<text x="74" y="55.592" font-size="7.2" text-anchor="middle" font-weight="bold" fill="#5a2a0a">24</text>
<text x="101.5" y="56.592" font-size="7.2" text-anchor="middle" font-weight="bold" fill="#1f4a1a">14</text>
<text x="61.3" y="66.092" font-size="7.2" text-anchor="middle" font-weight="bold" fill="#0c2a55">12</text>
<text x="101.2" y="73.392" font-size="7.2" text-anchor="middle" font-weight="bold" fill="#2a2a2a">9</text>
<text x="92.7" y="84.092" font-size="7.2" text-anchor="middle" font-weight="bold" fill="#2a2a2a">10</text>
<text x="78" y="93.392" font-size="7.2" text-anchor="middle" font-weight="bold" fill="#5a1a0a">19</text>
<text x="102.7" y="107.192" font-size="7.2" text-anchor="middle" font-weight="bold" fill="#2a2050">13</text>
<text x="87.3" y="117.992" font-size="7.2" text-anchor="middle" font-weight="bold" fill="#1a1a1a">27</text>
<text x="119.6" y="120.292" font-size="7.2" text-anchor="middle" font-weight="bold" fill="#6a2010">6</text>
<text x="159.6" y="75.392" font-size="7.2" text-anchor="middle" font-weight="bold" fill="#2a2a3a">26</text>
<text x="63.7" y="42.592" font-size="7.2" text-anchor="start" font-weight="normal" fill="#333" textLength="13.3" lengthAdjust="spacingAndGlyphs" stroke="#333" stroke-width="0.18">MPP</text>
<text x="111" y="41.391999999999996" font-size="7.2" text-anchor="start" font-weight="normal" fill="#333" textLength="15" lengthAdjust="spacingAndGlyphs" stroke="#333" stroke-width="0.18">GMP</text>
<text x="115" y="58.092" font-size="7.2" text-anchor="start" font-weight="normal" fill="#333" textLength="14" lengthAdjust="spacingAndGlyphs" stroke="#333" stroke-width="0.18">pGM</text>
<text x="57.3" y="77.192" font-size="7.2" text-anchor="start" font-weight="normal" fill="#333" textLength="12.3" lengthAdjust="spacingAndGlyphs" stroke="#333" stroke-width="0.18">HSC</text>
<text x="147.3" y="88.092" font-size="7.2" text-anchor="start" font-weight="normal" fill="#333" textLength="27.3" lengthAdjust="spacingAndGlyphs" stroke="#333" stroke-width="0.18">Lymphoid</text>
<text x="139" y="118.992" font-size="7.2" text-anchor="start" font-weight="normal" fill="#333" textLength="25.7" lengthAdjust="spacingAndGlyphs" stroke="#333" stroke-width="0.18">Erythroid</text>
<line x1="54.7" y1="23" x2="54.7" y2="130.2" stroke="#1a1a1a" stroke-width="1.2"/>
<line x1="54.1" y1="129.7" x2="176" y2="129.7" stroke="#1a1a1a" stroke-width="1.2"/>
<line x1="52.2" y1="37" x2="54.7" y2="37" stroke="#1a1a1a" stroke-width="0.8"/>
<line x1="52.2" y1="56.4" x2="54.7" y2="56.4" stroke="#1a1a1a" stroke-width="0.8"/>
<line x1="52.2" y1="76" x2="54.7" y2="76" stroke="#1a1a1a" stroke-width="0.8"/>
<line x1="52.2" y1="95.8" x2="54.7" y2="95.8" stroke="#1a1a1a" stroke-width="0.8"/>
<line x1="52.2" y1="115.6" x2="54.7" y2="115.6" stroke="#1a1a1a" stroke-width="0.8"/>
<text x="48.2" y="39.376" font-size="6.6" text-anchor="end" font-weight="normal" fill="#3a3a3a" stroke="#3a3a3a" stroke-width="0.18">10</text>
<text x="48.2" y="58.775999999999996" font-size="6.6" text-anchor="end" font-weight="normal" fill="#3a3a3a" stroke="#3a3a3a" stroke-width="0.18">5</text>
<text x="48.2" y="78.376" font-size="6.6" text-anchor="end" font-weight="normal" fill="#3a3a3a" stroke="#3a3a3a" stroke-width="0.18">0</text>
<text x="48.2" y="98.176" font-size="6.6" text-anchor="end" font-weight="normal" fill="#3a3a3a" stroke="#3a3a3a" stroke-width="0.18">−5</text>
<text x="48.2" y="117.976" font-size="6.6" text-anchor="end" font-weight="normal" fill="#3a3a3a" stroke="#3a3a3a" stroke-width="0.18">−10</text>
<line x1="65.5" y1="129.7" x2="65.5" y2="132.2" stroke="#1a1a1a" stroke-width="0.8"/>
<line x1="91.3" y1="129.7" x2="91.3" y2="132.2" stroke="#1a1a1a" stroke-width="0.8"/>
<line x1="117.5" y1="129.7" x2="117.5" y2="132.2" stroke="#1a1a1a" stroke-width="0.8"/>
<line x1="143.3" y1="129.7" x2="143.3" y2="132.2" stroke="#1a1a1a" stroke-width="0.8"/>
<line x1="170.5" y1="129.7" x2="170.5" y2="132.2" stroke="#1a1a1a" stroke-width="0.8"/>
<text x="65.5" y="141.876" font-size="6.6" text-anchor="middle" font-weight="normal" fill="#333" stroke="#333" stroke-width="0.18">−5</text>
<text x="91.3" y="141.876" font-size="6.6" text-anchor="middle" font-weight="normal" fill="#333" stroke="#333" stroke-width="0.18">0</text>
<text x="117.5" y="141.876" font-size="6.6" text-anchor="middle" font-weight="normal" fill="#333" stroke="#333" stroke-width="0.18">5</text>
<text x="143.3" y="141.876" font-size="6.6" text-anchor="middle" font-weight="normal" fill="#333" stroke="#333" stroke-width="0.18">10</text>
<text x="170.5" y="141.876" font-size="6.6" text-anchor="middle" font-weight="normal" fill="#333" stroke="#333" stroke-width="0.18">15</text>
<text x="115" y="153.4" font-size="8.6" text-anchor="middle" font-weight="normal" fill="#333" textLength="22.5" lengthAdjust="spacingAndGlyphs" stroke="#333" stroke-width="0.18">UMAP1</text>
<text transform="translate(32.8,75.1) rotate(-90)" x="0" y="0" font-size="8.6" text-anchor="middle" font-weight="normal" fill="#333" textLength="23" lengthAdjust="spacingAndGlyphs" stroke="#333" stroke-width="0.18">UMAP2</text>
<path d="M300,68 L314,70 L320,72 L318,75 L306,74 L300,71 Z" fill="#d0d8d4" opacity="0.8" filter="url(#b10)"/>
<path d="M312.5,71 L317,70.5 L318,73.5 L313,74 Z" fill="#5a7a70" opacity="0.8" filter="url(#b6)"/>
<text x="319.4" y="75.14" font-size="6.5" text-anchor="middle" font-weight="bold" fill="#222">2</text>
<text x="316" y="80.54" font-size="6.5" text-anchor="middle" font-weight="bold" fill="#222">3</text>
<line x1="201.3" y1="21" x2="201.3" y2="128.7" stroke="#1a1a1a" stroke-width="1.2"/>
<line x1="200.7" y1="128.1" x2="324.5" y2="128.1" stroke="#1a1a1a" stroke-width="1.2"/>
<line x1="198.8" y1="35.5" x2="201.3" y2="35.5" stroke="#1a1a1a" stroke-width="0.8"/>
<line x1="198.8" y1="55.2" x2="201.3" y2="55.2" stroke="#1a1a1a" stroke-width="0.8"/>
<line x1="198.8" y1="74.8" x2="201.3" y2="74.8" stroke="#1a1a1a" stroke-width="0.8"/>
<line x1="198.8" y1="94.2" x2="201.3" y2="94.2" stroke="#1a1a1a" stroke-width="0.8"/>
<line x1="198.8" y1="114" x2="201.3" y2="114" stroke="#1a1a1a" stroke-width="0.8"/>
<line x1="213" y1="128.1" x2="213" y2="130.6" stroke="#1a1a1a" stroke-width="0.8"/>
<line x1="239" y1="128.1" x2="239" y2="130.6" stroke="#1a1a1a" stroke-width="0.8"/>
<line x1="265.2" y1="128.1" x2="265.2" y2="130.6" stroke="#1a1a1a" stroke-width="0.8"/>
<line x1="291" y1="128.1" x2="291" y2="130.6" stroke="#1a1a1a" stroke-width="0.8"/>
<line x1="318.7" y1="128.1" x2="318.7" y2="130.6" stroke="#1a1a1a" stroke-width="0.8"/>
<text x="212.2" y="140.576" font-size="6.6" text-anchor="middle" font-weight="normal" fill="#333" stroke="#333" stroke-width="0.18">−5</text>
<text x="239.2" y="140.576" font-size="6.6" text-anchor="middle" font-weight="normal" fill="#333" stroke="#333" stroke-width="0.18">0</text>
<text x="264.8" y="140.576" font-size="6.6" text-anchor="middle" font-weight="normal" fill="#333" stroke="#333" stroke-width="0.18">5</text>
<text x="291.1" y="140.576" font-size="6.6" text-anchor="middle" font-weight="normal" fill="#333" stroke="#333" stroke-width="0.18">10</text>
<text x="319.0" y="140.576" font-size="6.6" text-anchor="middle" font-weight="normal" fill="#333" stroke="#333" stroke-width="0.18">15</text>
<text x="262.3" y="152.7" font-size="8.6" text-anchor="middle" font-weight="normal" fill="#333" textLength="22.5" lengthAdjust="spacingAndGlyphs" stroke="#333" stroke-width="0.18">UMAP1</text>
<text x="358.6" y="16.8" font-size="11.2" text-anchor="start" font-weight="bold" fill="#0a0a0a" stroke="#0a0a0a" stroke-width="0.35">B</text>
<line x1="389.2" y1="17" x2="389.2" y2="115.2" stroke="#1a1a1a" stroke-width="1.2"/>
<line x1="388.6" y1="114.7" x2="485" y2="114.7" stroke="#1a1a1a" stroke-width="1.2"/>
<line x1="386.7" y1="19.6" x2="389.2" y2="19.6" stroke="#1a1a1a" stroke-width="0.8"/>
<line x1="386.7" y1="51.3" x2="389.2" y2="51.3" stroke="#1a1a1a" stroke-width="0.8"/>
<line x1="386.7" y1="83" x2="389.2" y2="83" stroke="#1a1a1a" stroke-width="0.8"/>
<line x1="386.7" y1="114.7" x2="389.2" y2="114.7" stroke="#1a1a1a" stroke-width="0.8"/>
<text x="384" y="22.12" font-size="7" text-anchor="end" font-weight="normal" fill="#3a3a3a" stroke="#3a3a3a" stroke-width="0.18">60</text>
<text x="384" y="53.82" font-size="7" text-anchor="end" font-weight="normal" fill="#3a3a3a" stroke="#3a3a3a" stroke-width="0.18">40</text>
<text x="384" y="85.52" font-size="7" text-anchor="end" font-weight="normal" fill="#3a3a3a" stroke="#3a3a3a" stroke-width="0.18">20</text>
<text x="384" y="117.22" font-size="7" text-anchor="end" font-weight="normal" fill="#3a3a3a" stroke="#3a3a3a" stroke-width="0.18">0</text>
<rect x="399.2" y="22.5" width="4.3" height="4.2" fill="#cb1333"/>
<text x="407" y="27.192" font-size="7.2" text-anchor="start" font-weight="normal" fill="#333" textLength="21" lengthAdjust="spacingAndGlyphs" stroke="#333" stroke-width="0.18">Control</text>
<rect x="399.2" y="31.3" width="4.3" height="4.2" fill="#1e538c"/>
<text x="407" y="36.092" font-size="7.2" text-anchor="start" font-weight="normal" fill="#333" textLength="9.3" lengthAdjust="spacingAndGlyphs" stroke="#333" stroke-width="0.18">ME</text>
<rect x="392.5" y="106" width="6.300000000000011" height="8.700000000000003" fill="#cb1333"/>
<rect x="398.8" y="108.4" width="6.399999999999977" height="6.299999999999997" fill="#1e538c"/>
<rect x="411.2" y="101.2" width="6.300000000000011" height="13.5" fill="#cb1333"/>
<rect x="417.5" y="100" width="6.399999999999977" height="14.700000000000003" fill="#1e538c"/>
<rect x="430.6" y="99.4" width="6.300000000000011" height="15.299999999999997" fill="#cb1333"/>
<rect x="436.90000000000003" y="106.3" width="6.399999999999977" height="8.400000000000006" fill="#1e538c"/>
<rect x="449.6" y="102.9" width="6.300000000000011" height="11.799999999999997" fill="#cb1333"/>
<rect x="455.90000000000003" y="107" width="6.399999999999977" height="7.700000000000003" fill="#1e538c"/>
<rect x="468.2" y="40.3" width="6.300000000000011" height="74.4" fill="#cb1333"/>
<rect x="474.5" y="32.3" width="6.399999999999977" height="82.4" fill="#1e538c"/>
<text x="365.3" y="126.02" font-size="7" text-anchor="start" font-weight="normal" fill="#333" textLength="20.2" lengthAdjust="spacingAndGlyphs" stroke="#333" stroke-width="0.18">Cluster</text>
<text x="398.5" y="126.0" font-size="7" text-anchor="middle" font-weight="normal" fill="#333" stroke="#333" stroke-width="0.18">17</text>
<text x="418.7" y="126.0" font-size="7" text-anchor="middle" font-weight="normal" fill="#333" stroke="#333" stroke-width="0.18">24</text>
<text x="436.7" y="126.0" font-size="7" text-anchor="middle" font-weight="normal" fill="#333" stroke="#333" stroke-width="0.18">14</text>
<text x="455" y="126.0" font-size="7" text-anchor="middle" font-weight="normal" fill="#333" stroke="#333" stroke-width="0.18">7</text>
<text x="474.6" y="126.0" font-size="7" text-anchor="middle" font-weight="normal" fill="#333" textLength="23" lengthAdjust="spacingAndGlyphs" stroke="#333" stroke-width="0.18">6/13/27</text>
<line x1="391" y1="128.6" x2="424.8" y2="128.6" stroke="#333" stroke-width="1.0"/>
<line x1="430.5" y1="128.6" x2="461.8" y2="128.6" stroke="#333" stroke-width="1.0"/>
<line x1="465.8" y1="128.6" x2="482" y2="128.6" stroke="#333" stroke-width="1.0"/>
<text x="408.7" y="136.9" font-size="7.6" text-anchor="middle" font-weight="normal" fill="#333" textLength="29.3" lengthAdjust="spacingAndGlyphs" stroke="#333" stroke-width="0.18">HSC/MPP</text>
<text x="445.6" y="136.9" font-size="7.6" text-anchor="middle" font-weight="normal" fill="#333" textLength="14.2" lengthAdjust="spacingAndGlyphs" stroke="#333" stroke-width="0.18">GMP</text>
<text x="474.7" y="136.9" font-size="7.6" text-anchor="middle" font-weight="normal" fill="#333" textLength="13.8" lengthAdjust="spacingAndGlyphs" stroke="#333" stroke-width="0.18">Eryth</text>
<text transform="translate(371.1,65.6) rotate(-90)" x="0" y="0" font-size="8.8" text-anchor="middle" font-weight="normal" fill="#333" textLength="56" lengthAdjust="spacingAndGlyphs" stroke="#333" stroke-width="0.18">% of cells in cluster</text>
<text x="9.4" y="169.9" font-size="11.2" text-anchor="start" font-weight="bold" fill="#0a0a0a" stroke="#0a0a0a" stroke-width="0.35">C</text>
<text x="83.8" y="185.6" font-size="8.8" text-anchor="middle" font-weight="normal" fill="#222" textLength="37.4" lengthAdjust="spacingAndGlyphs" stroke="#222" stroke-width="0.18">MPP (c24)</text>
<line x1="46.8" y1="193.8" x2="46.8" y2="300.3" stroke="#1a1a1a" stroke-width="1.2"/>
<line x1="46.2" y1="299.8" x2="120.8" y2="299.8" stroke="#1a1a1a" stroke-width="1.2"/>
<line x1="44.3" y1="204.5" x2="46.8" y2="204.5" stroke="#1a1a1a" stroke-width="0.8"/>
<line x1="44.3" y1="234.4" x2="46.8" y2="234.4" stroke="#1a1a1a" stroke-width="0.8"/>
<line x1="44.3" y1="264" x2="46.8" y2="264" stroke="#1a1a1a" stroke-width="0.8"/>
<line x1="44.3" y1="294" x2="46.8" y2="294" stroke="#1a1a1a" stroke-width="0.8"/>
<text x="41" y="206.876" font-size="6.6" text-anchor="end" font-weight="normal" fill="#3a3a3a" stroke="#3a3a3a" stroke-width="0.18">0.6</text>
<text x="41" y="236.776" font-size="6.6" text-anchor="end" font-weight="normal" fill="#3a3a3a" stroke="#3a3a3a" stroke-width="0.18">0.4</text>
<text x="41" y="266.376" font-size="6.6" text-anchor="end" font-weight="normal" fill="#3a3a3a" stroke="#3a3a3a" stroke-width="0.18">0.2</text>
<text x="41" y="296.376" font-size="6.6" text-anchor="end" font-weight="normal" fill="#3a3a3a" stroke="#3a3a3a" stroke-width="0.18">0.0</text>
<line x1="67.1" y1="208.3" x2="67.1" y2="294" stroke="#555" stroke-width="0.8"/>
<circle cx="67.1" cy="200.3" r="0.8" fill="#222"/>
<rect x="54" y="242.5" width="25.8" height="26.1" fill="#c8173a"/>
<line x1="54" y1="255.4" x2="79.8" y2="255.4" stroke="#2a0a10" stroke-width="1.7"/>
<line x1="101.4" y1="198.9" x2="101.4" y2="294" stroke="#555" stroke-width="0.8"/>
<rect x="88.7" y="236.4" width="25.3" height="33" fill="#1b4f84"/>
<line x1="88.7" y1="252.4" x2="114" y2="252.4" stroke="#0a1525" stroke-width="1.7"/>
<line x1="67" y1="299.8" x2="67" y2="302.3" stroke="#1a1a1a" stroke-width="0.8"/>
<line x1="101.5" y1="299.8" x2="101.5" y2="302.3" stroke="#1a1a1a" stroke-width="0.8"/>
<text x="67" y="311.79999999999995" font-size="6.8" text-anchor="middle" font-weight="normal" fill="#333" stroke="#333" stroke-width="0.18">Ctl</text>
<text x="101.5" y="311.79999999999995" font-size="6.8" text-anchor="middle" font-weight="normal" fill="#333" stroke="#333" stroke-width="0.18">ME</text>
<text transform="translate(26.9,246.8) rotate(-90)" x="0" y="0" font-size="8.8" text-anchor="middle" font-weight="normal" fill="#333" textLength="65" lengthAdjust="spacingAndGlyphs" stroke="#333" stroke-width="0.18">Myeloid identity score</text>
<text x="133" y="169.4" font-size="11.2" text-anchor="start" font-weight="bold" fill="#0a0a0a" stroke="#0a0a0a" stroke-width="0.35">D</text>
<line x1="164.6" y1="176.3" x2="164.6" y2="299" stroke="#1a1a1a" stroke-width="1.2"/>
<line x1="164" y1="298.5" x2="206" y2="298.5" stroke="#1a1a1a" stroke-width="1.2"/>
<line x1="162.1" y1="178.8" x2="164.6" y2="178.8" stroke="#1a1a1a" stroke-width="0.8"/>
<line x1="162.1" y1="202.6" x2="164.6" y2="202.6" stroke="#1a1a1a" stroke-width="0.8"/>
<line x1="162.1" y1="226.7" x2="164.6" y2="226.7" stroke="#1a1a1a" stroke-width="0.8"/>
<line x1="162.1" y1="250.9" x2="164.6" y2="250.9" stroke="#1a1a1a" stroke-width="0.8"/>
<line x1="162.1" y1="274.7" x2="164.6" y2="274.7" stroke="#1a1a1a" stroke-width="0.8"/>
<line x1="162.1" y1="298.5" x2="164.6" y2="298.5" stroke="#1a1a1a" stroke-width="0.8"/>
<text x="159.5" y="181.17600000000002" font-size="6.6" text-anchor="end" font-weight="normal" fill="#3a3a3a" stroke="#3a3a3a" stroke-width="0.18">250</text>
<text x="159.5" y="204.976" font-size="6.6" text-anchor="end" font-weight="normal" fill="#3a3a3a" stroke="#3a3a3a" stroke-width="0.18">200</text>
<text x="159.5" y="229.076" font-size="6.6" text-anchor="end" font-weight="normal" fill="#3a3a3a" stroke="#3a3a3a" stroke-width="0.18">150</text>
<text x="159.5" y="253.276" font-size="6.6" text-anchor="end" font-weight="normal" fill="#3a3a3a" stroke="#3a3a3a" stroke-width="0.18">100</text>
<text x="159.5" y="277.07599999999996" font-size="6.6" text-anchor="end" font-weight="normal" fill="#3a3a3a" stroke="#3a3a3a" stroke-width="0.18">50</text>
<text x="159.5" y="300.876" font-size="6.6" text-anchor="end" font-weight="normal" fill="#3a3a3a" stroke="#3a3a3a" stroke-width="0.18">0</text>
<rect x="187.3" y="213.6" width="10.6" height="84.9" fill="#1c5690"/>
<line x1="192.9" y1="199.3" x2="192.9" y2="230" stroke="#111" stroke-width="0.8"/>
<line x1="189.7" y1="199.3" x2="196" y2="199.3" stroke="#111" stroke-width="0.8"/>
<circle cx="192.9" cy="195.2" r="0.9" fill="#111"/>
<text x="192.9" y="190.8" font-size="7" text-anchor="middle" font-weight="normal" fill="#222" textLength="8" lengthAdjust="spacingAndGlyphs" stroke="#222" stroke-width="0.18">***</text>
<circle cx="170.5" cy="298" r="0.6" fill="#222"/>
<circle cx="173" cy="298" r="0.6" fill="#222"/>
<circle cx="175.4" cy="298" r="0.6" fill="#222"/>
<circle cx="177.8" cy="298" r="0.6" fill="#222"/>
<circle cx="180.2" cy="298" r="0.6" fill="#222"/>
<line x1="175.4" y1="298.5" x2="175.4" y2="301.0" stroke="#1a1a1a" stroke-width="0.8"/>
<line x1="192.9" y1="298.5" x2="192.9" y2="301.0" stroke="#1a1a1a" stroke-width="0.8"/>
<text x="175.4" y="311.4" font-size="6.8" text-anchor="middle" font-weight="normal" fill="#333" stroke="#333" stroke-width="0.18">Ctl</text>
<text x="192.9" y="311.4" font-size="6.8" text-anchor="middle" font-weight="normal" fill="#333" stroke="#333" stroke-width="0.18">ME</text>
<text transform="translate(142.9,237.3) rotate(-90)" x="0" y="0" font-size="8.8" text-anchor="middle" font-weight="normal" fill="#333" textLength="63.4" lengthAdjust="spacingAndGlyphs" stroke="#333" stroke-width="0.18">ME expression (CPM)</text>
<text x="218.6" y="169.4" font-size="11.2" text-anchor="start" font-weight="bold" fill="#0a0a0a" stroke="#0a0a0a" stroke-width="0.35">E</text>
<line x1="254.4" y1="171.5" x2="254.4" y2="230.5" stroke="#1a1a1a" stroke-width="1.2"/>
<line x1="253.8" y1="230" x2="310" y2="230" stroke="#1a1a1a" stroke-width="1.2"/>
<line x1="252.20000000000002" y1="173.5" x2="254.4" y2="173.5" stroke="#1a1a1a" stroke-width="0.8"/>
<line x1="252.20000000000002" y1="184.8" x2="254.4" y2="184.8" stroke="#1a1a1a" stroke-width="0.8"/>
<line x1="252.20000000000002" y1="196.1" x2="254.4" y2="196.1" stroke="#1a1a1a" stroke-width="0.8"/>
<line x1="252.20000000000002" y1="207.4" x2="254.4" y2="207.4" stroke="#1a1a1a" stroke-width="0.8"/>
<line x1="252.20000000000002" y1="218.7" x2="254.4" y2="218.7" stroke="#1a1a1a" stroke-width="0.8"/>
<line x1="252.20000000000002" y1="230.0" x2="254.4" y2="230.0" stroke="#1a1a1a" stroke-width="0.8"/>
<text x="249.8" y="175.804" font-size="6.4" text-anchor="end" font-weight="normal" fill="#3a3a3a" stroke="#3a3a3a" stroke-width="0.18">100</text>
<text x="249.8" y="187.104" font-size="6.4" text-anchor="end" font-weight="normal" fill="#3a3a3a" stroke="#3a3a3a" stroke-width="0.18">80</text>
<text x="249.8" y="198.404" font-size="6.4" text-anchor="end" font-weight="normal" fill="#3a3a3a" stroke="#3a3a3a" stroke-width="0.18">60</text>
<text x="249.8" y="209.704" font-size="6.4" text-anchor="end" font-weight="normal" fill="#3a3a3a" stroke="#3a3a3a" stroke-width="0.18">40</text>
<text x="249.8" y="221.004" font-size="6.4" text-anchor="end" font-weight="normal" fill="#3a3a3a" stroke="#3a3a3a" stroke-width="0.18">20</text>
<text x="249.8" y="232.304" font-size="6.4" text-anchor="end" font-weight="normal" fill="#3a3a3a" stroke="#3a3a3a" stroke-width="0.18">0</text>
<text x="280.95" y="171.0" font-size="8.8" text-anchor="middle" font-weight="normal" fill="#222" textLength="37.5" lengthAdjust="spacingAndGlyphs" stroke="#222" stroke-width="0.18">c17 (HSC)</text>
<rect x="257.7" y="203.445" width="6.100000000000023" height="26.555000000000007" fill="#cb1333"/>
<rect x="263.8" y="187.738" width="6.199999999999989" height="42.262" fill="#1e538c"/>
<rect x="276.2" y="217.005" width="6.100000000000023" height="12.995000000000005" fill="#cb1333"/>
<rect x="282.3" y="224.915" width="6.199999999999989" height="5.085000000000008" fill="#1e538c"/>
<rect x="294.8" y="211.92000000000002" width="6.100000000000023" height="18.079999999999984" fill="#cb1333"/>
<rect x="300.90000000000003" y="220.96" width="6.199999999999989" height="9.039999999999992" fill="#1e538c"/>
<line x1="263.7" y1="230" x2="263.7" y2="232" stroke="#1a1a1a" stroke-width="0.8"/>
<line x1="282.3" y1="230" x2="282.3" y2="232" stroke="#1a1a1a" stroke-width="0.8"/>
<line x1="301" y1="230" x2="301" y2="232" stroke="#1a1a1a" stroke-width="0.8"/>
<text x="263.7" y="239.7" font-size="7.0" text-anchor="middle" font-weight="normal" fill="#333" stroke="#333" stroke-width="0.18">G1</text>
<text x="282.3" y="239.7" font-size="7.0" text-anchor="middle" font-weight="normal" fill="#333" stroke="#333" stroke-width="0.18">S</text>
<text x="301" y="239.7" font-size="7.0" text-anchor="middle" font-weight="normal" fill="#333" stroke="#333" stroke-width="0.18">G2M</text>
<text transform="translate(233.0,199.2) rotate(-90)" x="0" y="0" font-size="8.8" text-anchor="middle" font-weight="normal" fill="#333" textLength="50" lengthAdjust="spacingAndGlyphs" stroke="#333" stroke-width="0.18">Percent ofcluster</text>
<line x1="347.1" y1="170" x2="347.1" y2="228.8" stroke="#1a1a1a" stroke-width="1.2"/>
<line x1="346.5" y1="228.3" x2="403" y2="228.3" stroke="#1a1a1a" stroke-width="1.2"/>
<line x1="344.90000000000003" y1="172.0" x2="347.1" y2="172.0" stroke="#1a1a1a" stroke-width="0.8"/>
<line x1="344.90000000000003" y1="183.26" x2="347.1" y2="183.26" stroke="#1a1a1a" stroke-width="0.8"/>
<line x1="344.90000000000003" y1="194.52" x2="347.1" y2="194.52" stroke="#1a1a1a" stroke-width="0.8"/>
<line x1="344.90000000000003" y1="205.78" x2="347.1" y2="205.78" stroke="#1a1a1a" stroke-width="0.8"/>
<line x1="344.90000000000003" y1="217.04000000000002" x2="347.1" y2="217.04000000000002" stroke="#1a1a1a" stroke-width="0.8"/>
<line x1="344.90000000000003" y1="228.3" x2="347.1" y2="228.3" stroke="#1a1a1a" stroke-width="0.8"/>
<text x="342.5" y="174.304" font-size="6.4" text-anchor="end" font-weight="normal" fill="#3a3a3a" stroke="#3a3a3a" stroke-width="0.18">100</text>
<text x="342.5" y="185.564" font-size="6.4" text-anchor="end" font-weight="normal" fill="#3a3a3a" stroke="#3a3a3a" stroke-width="0.18">80</text>
<text x="342.5" y="196.824" font-size="6.4" text-anchor="end" font-weight="normal" fill="#3a3a3a" stroke="#3a3a3a" stroke-width="0.18">60</text>
<text x="342.5" y="208.084" font-size="6.4" text-anchor="end" font-weight="normal" fill="#3a3a3a" stroke="#3a3a3a" stroke-width="0.18">40</text>
<text x="342.5" y="219.34400000000002" font-size="6.4" text-anchor="end" font-weight="normal" fill="#3a3a3a" stroke="#3a3a3a" stroke-width="0.18">20</text>
<text x="342.5" y="230.604" font-size="6.4" text-anchor="end" font-weight="normal" fill="#3a3a3a" stroke="#3a3a3a" stroke-width="0.18">0</text>
<text x="374.3" y="169.3" font-size="8.8" text-anchor="middle" font-weight="normal" fill="#222" textLength="39.39999999999998" lengthAdjust="spacingAndGlyphs" stroke="#222" stroke-width="0.18">c24 (MPP)</text>
<rect x="351.2" y="211.41" width="6.100000000000023" height="16.890000000000015" fill="#cb1333"/>
<rect x="357.3" y="202.965" width="6.199999999999989" height="25.335000000000008" fill="#1e538c"/>
<rect x="369.8" y="213.09900000000002" width="6.100000000000023" height="15.200999999999993" fill="#cb1333"/>
<rect x="375.90000000000003" y="215.351" width="6.199999999999989" height="12.949000000000012" fill="#1e538c"/>
<rect x="388.7" y="205.78" width="6.100000000000023" height="22.52000000000001" fill="#cb1333"/>
<rect x="394.8" y="211.41" width="6.199999999999989" height="16.890000000000015" fill="#1e538c"/>
<line x1="357.2" y1="228.3" x2="357.2" y2="230.3" stroke="#1a1a1a" stroke-width="0.8"/>
<line x1="375.9" y1="228.3" x2="375.9" y2="230.3" stroke="#1a1a1a" stroke-width="0.8"/>
<line x1="394.3" y1="228.3" x2="394.3" y2="230.3" stroke="#1a1a1a" stroke-width="0.8"/>
<text x="357.2" y="239.7" font-size="7.0" text-anchor="middle" font-weight="normal" fill="#333" stroke="#333" stroke-width="0.18">G1</text>
<text x="375.9" y="239.7" font-size="7.0" text-anchor="middle" font-weight="normal" fill="#333" stroke="#333" stroke-width="0.18">S</text>
<text x="394.3" y="239.7" font-size="7.0" text-anchor="middle" font-weight="normal" fill="#333" stroke="#333" stroke-width="0.18">G2M</text>
<text transform="translate(326.8,199.2) rotate(-90)" x="0" y="0" font-size="8.8" text-anchor="middle" font-weight="normal" fill="#333" textLength="50" lengthAdjust="spacingAndGlyphs" stroke="#333" stroke-width="0.18">Percent ofcluster</text>
<line x1="441.1" y1="170" x2="441.1" y2="228.8" stroke="#1a1a1a" stroke-width="1.2"/>
<line x1="440.5" y1="228.3" x2="495" y2="228.3" stroke="#1a1a1a" stroke-width="1.2"/>
<line x1="438.90000000000003" y1="172.0" x2="441.1" y2="172.0" stroke="#1a1a1a" stroke-width="0.8"/>
<line x1="438.90000000000003" y1="183.26" x2="441.1" y2="183.26" stroke="#1a1a1a" stroke-width="0.8"/>
<line x1="438.90000000000003" y1="194.52" x2="441.1" y2="194.52" stroke="#1a1a1a" stroke-width="0.8"/>
<line x1="438.90000000000003" y1="205.78" x2="441.1" y2="205.78" stroke="#1a1a1a" stroke-width="0.8"/>
<line x1="438.90000000000003" y1="217.04000000000002" x2="441.1" y2="217.04000000000002" stroke="#1a1a1a" stroke-width="0.8"/>
<line x1="438.90000000000003" y1="228.3" x2="441.1" y2="228.3" stroke="#1a1a1a" stroke-width="0.8"/>
<text x="436.5" y="174.304" font-size="6.4" text-anchor="end" font-weight="normal" fill="#3a3a3a" stroke="#3a3a3a" stroke-width="0.18">100</text>
<text x="436.5" y="185.564" font-size="6.4" text-anchor="end" font-weight="normal" fill="#3a3a3a" stroke="#3a3a3a" stroke-width="0.18">80</text>
<text x="436.5" y="196.824" font-size="6.4" text-anchor="end" font-weight="normal" fill="#3a3a3a" stroke="#3a3a3a" stroke-width="0.18">60</text>
<text x="436.5" y="208.084" font-size="6.4" text-anchor="end" font-weight="normal" fill="#3a3a3a" stroke="#3a3a3a" stroke-width="0.18">40</text>
<text x="436.5" y="219.34400000000002" font-size="6.4" text-anchor="end" font-weight="normal" fill="#3a3a3a" stroke="#3a3a3a" stroke-width="0.18">20</text>
<text x="436.5" y="230.604" font-size="6.4" text-anchor="end" font-weight="normal" fill="#3a3a3a" stroke="#3a3a3a" stroke-width="0.18">0</text>
<text x="467.75" y="168.8" font-size="8.8" text-anchor="middle" font-weight="normal" fill="#222" textLength="35.5" lengthAdjust="spacingAndGlyphs" stroke="#222" stroke-width="0.18">c7 (GMP)</text>
<rect x="444.5" y="211.973" width="6.100000000000023" height="16.326999999999998" fill="#cb1333"/>
<rect x="450.6" y="208.595" width="6.199999999999989" height="19.705000000000013" fill="#1e538c"/>
<rect x="463.2" y="208.032" width="6.100000000000023" height="20.268" fill="#cb1333"/>
<rect x="469.3" y="205.78" width="6.199999999999989" height="22.52000000000001" fill="#1e538c"/>
<rect x="481.9" y="210.847" width="6.100000000000023" height="17.453000000000003" fill="#cb1333"/>
<rect x="488.0" y="215.91400000000002" width="6.199999999999989" height="12.385999999999996" fill="#1e538c"/>
<line x1="450.2" y1="228.3" x2="450.2" y2="230.3" stroke="#1a1a1a" stroke-width="0.8"/>
<line x1="468.2" y1="228.3" x2="468.2" y2="230.3" stroke="#1a1a1a" stroke-width="0.8"/>
<line x1="487.3" y1="228.3" x2="487.3" y2="230.3" stroke="#1a1a1a" stroke-width="0.8"/>
<text x="450.2" y="239.7" font-size="7.0" text-anchor="middle" font-weight="normal" fill="#333" stroke="#333" stroke-width="0.18">G1</text>
<text x="468.2" y="239.7" font-size="7.0" text-anchor="middle" font-weight="normal" fill="#333" stroke="#333" stroke-width="0.18">S</text>
<text x="487.3" y="239.7" font-size="7.0" text-anchor="middle" font-weight="normal" fill="#333" stroke="#333" stroke-width="0.18">G2M</text>
<text transform="translate(419.4,199.2) rotate(-90)" x="0" y="0" font-size="8.8" text-anchor="middle" font-weight="normal" fill="#333" textLength="50" lengthAdjust="spacingAndGlyphs" stroke="#333" stroke-width="0.18">Percent ofcluster</text>
<rect x="484.1" y="176.7" width="4.2" height="4.0" fill="#cb1333"/>
<text x="491.4" y="181.192" font-size="7.2" text-anchor="start" font-weight="normal" fill="#333" textLength="21.3" lengthAdjust="spacingAndGlyphs" stroke="#333" stroke-width="0.18">Control</text>
<rect x="484.1" y="185.3" width="4.2" height="4.0" fill="#1e538c"/>
<text x="491.4" y="189.792" font-size="7.2" text-anchor="start" font-weight="normal" fill="#333" textLength="9.6" lengthAdjust="spacingAndGlyphs" stroke="#333" stroke-width="0.18">ME</text>
<text x="223.4" y="258.4" font-size="11.2" text-anchor="start" font-weight="bold" fill="#0a0a0a" stroke="#0a0a0a" stroke-width="0.35">F</text>
<line x1="265.4" y1="256.8" x2="265.4" y2="323.7" stroke="#1a1a1a" stroke-width="1.2"/>
<line x1="264.79999999999995" y1="323.2" x2="306.5" y2="323.2" stroke="#1a1a1a" stroke-width="1.2"/>
<line x1="263.2" y1="259.8" x2="265.4" y2="259.8" stroke="#1a1a1a" stroke-width="0.8"/>
<line x1="263.2" y1="272.8" x2="265.4" y2="272.8" stroke="#1a1a1a" stroke-width="0.8"/>
<line x1="263.2" y1="285.5" x2="265.4" y2="285.5" stroke="#1a1a1a" stroke-width="0.8"/>
<line x1="263.2" y1="297.9" x2="265.4" y2="297.9" stroke="#1a1a1a" stroke-width="0.8"/>
<line x1="263.2" y1="310.6" x2="265.4" y2="310.6" stroke="#1a1a1a" stroke-width="0.8"/>
<line x1="263.2" y1="323" x2="265.4" y2="323" stroke="#1a1a1a" stroke-width="0.8"/>
<text x="259.2" y="262.176" font-size="6.6" text-anchor="end" font-weight="normal" fill="#3a3a3a" stroke="#3a3a3a" stroke-width="0.18">50</text>
<text x="259.2" y="275.176" font-size="6.6" text-anchor="end" font-weight="normal" fill="#3a3a3a" stroke="#3a3a3a" stroke-width="0.18">40</text>
<text x="259.2" y="287.876" font-size="6.6" text-anchor="end" font-weight="normal" fill="#3a3a3a" stroke="#3a3a3a" stroke-width="0.18">30</text>
<text x="259.2" y="300.27599999999995" font-size="6.6" text-anchor="end" font-weight="normal" fill="#3a3a3a" stroke="#3a3a3a" stroke-width="0.18">20</text>
<text x="259.2" y="312.976" font-size="6.6" text-anchor="end" font-weight="normal" fill="#3a3a3a" stroke="#3a3a3a" stroke-width="0.18">10</text>
<text x="259.2" y="325.376" font-size="6.6" text-anchor="end" font-weight="normal" fill="#3a3a3a" stroke="#3a3a3a" stroke-width="0.18">0</text>
<rect x="271" y="279.9" width="12.399999999999977" height="43.30000000000001" fill="#c64a68"/>
<rect x="289.1" y="295.1" width="12.399999999999977" height="28.099999999999966" fill="#306692"/>
<line x1="277.2" y1="270" x2="277.2" y2="292" stroke="#222" stroke-width="0.8"/>
<line x1="274.0" y1="270" x2="280.4" y2="270" stroke="#222" stroke-width="0.8"/>
<line x1="295.3" y1="279.6" x2="295.3" y2="311" stroke="#222" stroke-width="0.8"/>
<line x1="292.1" y1="279.6" x2="298.5" y2="279.6" stroke="#222" stroke-width="0.8"/>
<circle cx="277" cy="267.4" r="1.7" fill="#7a1a35"/>
<circle cx="275" cy="272" r="1.7" fill="#7a1a35"/>
<circle cx="279.5" cy="272.5" r="1.7" fill="#7a1a35"/>
<circle cx="272.5" cy="281.5" r="1.7" fill="#7a1a35"/>
<circle cx="277.5" cy="281" r="1.7" fill="#7a1a35"/>
<circle cx="281.5" cy="281.5" r="1.7" fill="#7a1a35"/>
<circle cx="277" cy="289.5" r="1.7" fill="#7a1a35"/>
<circle cx="277" cy="297.5" r="1.7" fill="#7a1a35"/>
<circle cx="295.3" cy="273.7" r="1.7" fill="#142a4a"/>
<circle cx="295.3" cy="284" r="1.7" fill="#142a4a"/>
<circle cx="295.3" cy="288.5" r="1.7" fill="#142a4a"/>
<circle cx="295.3" cy="304" r="1.7" fill="#142a4a"/>
<circle cx="292" cy="310" r="1.7" fill="#142a4a"/>
<circle cx="299" cy="309" r="1.7" fill="#142a4a"/>
<line x1="277.2" y1="323.2" x2="277.2" y2="325.2" stroke="#1a1a1a" stroke-width="0.8"/>
<line x1="295.3" y1="323.2" x2="295.3" y2="325.2" stroke="#1a1a1a" stroke-width="0.8"/>
<text x="277.2" y="334.4" font-size="6.8" text-anchor="middle" font-weight="normal" fill="#333" stroke="#333" stroke-width="0.18">Ctl</text>
<text x="295.3" y="334.4" font-size="6.8" text-anchor="middle" font-weight="normal" fill="#333" stroke="#333" stroke-width="0.18">ME</text>
<text transform="translate(247.0,289.45) rotate(-90)" x="0" y="0" font-size="8.8" text-anchor="middle" font-weight="normal" fill="#333" textLength="55.10000000000002" lengthAdjust="spacingAndGlyphs" stroke="#333" stroke-width="0.18">E18 EdU + LSK (%)</text>
<line x1="275.3" y1="256.5" x2="296.4" y2="256.5" stroke="#1a1a1a" stroke-width="0.9"/>
<text x="285.85" y="257.5" font-size="7.5" text-anchor="middle" font-weight="normal" fill="#1a1a1a" stroke="#1a1a1a" stroke-width="0.18">*</text>
<line x1="344.7" y1="256.8" x2="344.7" y2="323.7" stroke="#1a1a1a" stroke-width="1.2"/>
<line x1="344.09999999999997" y1="323.2" x2="383.5" y2="323.2" stroke="#1a1a1a" stroke-width="1.2"/>
<line x1="342.5" y1="259.8" x2="344.7" y2="259.8" stroke="#1a1a1a" stroke-width="0.8"/>
<line x1="342.5" y1="275.7" x2="344.7" y2="275.7" stroke="#1a1a1a" stroke-width="0.8"/>
<line x1="342.5" y1="291.4" x2="344.7" y2="291.4" stroke="#1a1a1a" stroke-width="0.8"/>
<line x1="342.5" y1="307.5" x2="344.7" y2="307.5" stroke="#1a1a1a" stroke-width="0.8"/>
<line x1="342.5" y1="323" x2="344.7" y2="323" stroke="#1a1a1a" stroke-width="0.8"/>
<text x="338.5" y="262.176" font-size="6.6" text-anchor="end" font-weight="normal" fill="#3a3a3a" stroke="#3a3a3a" stroke-width="0.18">80</text>
<text x="338.5" y="278.07599999999996" font-size="6.6" text-anchor="end" font-weight="normal" fill="#3a3a3a" stroke="#3a3a3a" stroke-width="0.18">60</text>
<text x="338.5" y="293.77599999999995" font-size="6.6" text-anchor="end" font-weight="normal" fill="#3a3a3a" stroke="#3a3a3a" stroke-width="0.18">40</text>
<text x="338.5" y="309.876" font-size="6.6" text-anchor="end" font-weight="normal" fill="#3a3a3a" stroke="#3a3a3a" stroke-width="0.18">20</text>
<text x="338.5" y="325.376" font-size="6.6" text-anchor="end" font-weight="normal" fill="#3a3a3a" stroke="#3a3a3a" stroke-width="0.18">0</text>
<rect x="350.3" y="288" width="12.5" height="35.19999999999999" fill="#c64a68"/>
<rect x="368.4" y="283.8" width="12.400000000000034" height="39.39999999999998" fill="#306692"/>
<line x1="356.5" y1="276" x2="356.5" y2="300" stroke="#222" stroke-width="0.8"/>
<line x1="353.5" y1="276" x2="359.5" y2="276" stroke="#222" stroke-width="0.8"/>
<line x1="374.6" y1="276" x2="374.6" y2="292" stroke="#222" stroke-width="0.8"/>
<line x1="371.6" y1="276" x2="377.6" y2="276" stroke="#222" stroke-width="0.8"/>
<circle cx="356" cy="276.7" r="1.7" fill="#7a1a35"/>
<circle cx="351.5" cy="280.5" r="1.7" fill="#7a1a35"/>
<circle cx="360" cy="280" r="1.7" fill="#7a1a35"/>
<circle cx="352" cy="293" r="1.7" fill="#7a1a35"/>
<circle cx="356" cy="294" r="1.7" fill="#7a1a35"/>
<circle cx="360" cy="293" r="1.7" fill="#7a1a35"/>
<circle cx="352" cy="297.5" r="1.7" fill="#7a1a35"/>
<circle cx="360" cy="297.5" r="1.7" fill="#7a1a35"/>
<circle cx="372" cy="278" r="1.7" fill="#142a4a"/>
<circle cx="379" cy="276" r="1.7" fill="#142a4a"/>
<circle cx="377" cy="280" r="1.7" fill="#142a4a"/>
<circle cx="374" cy="287" r="1.7" fill="#142a4a"/>
<circle cx="371" cy="291" r="1.7" fill="#142a4a"/>
<circle cx="379" cy="290" r="1.7" fill="#142a4a"/>
<line x1="356.55" y1="323.2" x2="356.55" y2="325.2" stroke="#1a1a1a" stroke-width="0.8"/>
<line x1="374.6" y1="323.2" x2="374.6" y2="325.2" stroke="#1a1a1a" stroke-width="0.8"/>
<text x="356.55" y="334.4" font-size="6.8" text-anchor="middle" font-weight="normal" fill="#333" stroke="#333" stroke-width="0.18">Ctl</text>
<text x="374.6" y="334.4" font-size="6.8" text-anchor="middle" font-weight="normal" fill="#333" stroke="#333" stroke-width="0.18">ME</text>
<text transform="translate(324.6,288.95) rotate(-90)" x="0" y="0" font-size="8.8" text-anchor="middle" font-weight="normal" fill="#333" textLength="60.89999999999998" lengthAdjust="spacingAndGlyphs" stroke="#333" stroke-width="0.18">E18 EdU + GMP (%)</text>
<text x="396.8" y="258.4" font-size="11.2" text-anchor="start" font-weight="bold" fill="#0a0a0a" stroke="#0a0a0a" stroke-width="0.35">G</text>
<line x1="430.6" y1="261.8" x2="430.6" y2="323.7" stroke="#1a1a1a" stroke-width="1.2"/>
<line x1="430" y1="323.1" x2="469.3" y2="323.1" stroke="#1a1a1a" stroke-width="1.2"/>
<line x1="428.40000000000003" y1="264" x2="430.6" y2="264" stroke="#1a1a1a" stroke-width="0.8"/>
<line x1="428.40000000000003" y1="276" x2="430.6" y2="276" stroke="#1a1a1a" stroke-width="0.8"/>
<line x1="428.40000000000003" y1="287.9" x2="430.6" y2="287.9" stroke="#1a1a1a" stroke-width="0.8"/>
<line x1="428.40000000000003" y1="299.9" x2="430.6" y2="299.9" stroke="#1a1a1a" stroke-width="0.8"/>
<line x1="428.40000000000003" y1="311.7" x2="430.6" y2="311.7" stroke="#1a1a1a" stroke-width="0.8"/>
<line x1="428.40000000000003" y1="323.1" x2="430.6" y2="323.1" stroke="#1a1a1a" stroke-width="0.8"/>
<text x="425.5" y="266.376" font-size="6.6" text-anchor="end" font-weight="normal" fill="#3a3a3a" stroke="#3a3a3a" stroke-width="0.18">25</text>
<text x="425.5" y="278.376" font-size="6.6" text-anchor="end" font-weight="normal" fill="#3a3a3a" stroke="#3a3a3a" stroke-width="0.18">20</text>
<text x="425.5" y="290.27599999999995" font-size="6.6" text-anchor="end" font-weight="normal" fill="#3a3a3a" stroke="#3a3a3a" stroke-width="0.18">15</text>
<text x="425.5" y="302.27599999999995" font-size="6.6" text-anchor="end" font-weight="normal" fill="#3a3a3a" stroke="#3a3a3a" stroke-width="0.18">10</text>
<text x="425.5" y="314.07599999999996" font-size="6.6" text-anchor="end" font-weight="normal" fill="#3a3a3a" stroke="#3a3a3a" stroke-width="0.18">5</text>
<text x="425.5" y="325.476" font-size="6.6" text-anchor="end" font-weight="normal" fill="#3a3a3a" stroke="#3a3a3a" stroke-width="0.18">0</text>
<rect x="436.5" y="277.4" width="12.800000000000011" height="45.700000000000045" fill="#c64a68"/>
<rect x="453.1" y="288.4" width="12.799999999999955" height="34.700000000000045" fill="#306692"/>
<line x1="442.9" y1="273" x2="442.9" y2="282" stroke="#222" stroke-width="0.8"/>
<line x1="440" y1="273" x2="446" y2="273" stroke="#222" stroke-width="0.8"/>
<line x1="459.5" y1="287" x2="459.5" y2="292" stroke="#222" stroke-width="0.8"/>
<line x1="456.5" y1="287" x2="462.5" y2="287" stroke="#222" stroke-width="0.8"/>
<circle cx="443" cy="274.8" r="1.6" fill="#7a1a35"/>
<circle cx="439.8" cy="278" r="1.6" fill="#7a1a35"/>
<circle cx="443" cy="278" r="1.6" fill="#7a1a35"/>
<circle cx="446.5" cy="278" r="1.6" fill="#7a1a35"/>
<circle cx="456" cy="288" r="1.6" fill="#142a4a"/>
<circle cx="459.3" cy="288" r="1.6" fill="#142a4a"/>
<circle cx="462.5" cy="288" r="1.6" fill="#142a4a"/>
<circle cx="459.3" cy="291.5" r="1.6" fill="#142a4a"/>
<line x1="440.3" y1="256.5" x2="462.6" y2="256.5" stroke="#1a1a1a" stroke-width="0.9"/>
<text x="451.5" y="256.9" font-size="7.5" text-anchor="middle" font-weight="normal" fill="#1a1a1a" stroke="#1a1a1a" stroke-width="0.18">*</text>
<line x1="442.9" y1="323.1" x2="442.9" y2="325.1" stroke="#1a1a1a" stroke-width="0.8"/>
<line x1="459.5" y1="323.1" x2="459.5" y2="325.1" stroke="#1a1a1a" stroke-width="0.8"/>
<text x="442.6" y="334.09999999999997" font-size="6.8" text-anchor="middle" font-weight="normal" fill="#333" stroke="#333" stroke-width="0.18">Ctl</text>
<text x="458.8" y="334.09999999999997" font-size="6.8" text-anchor="middle" font-weight="normal" fill="#333" stroke="#333" stroke-width="0.18">ME</text>
<text transform="translate(414.5,291.9) rotate(-90)" x="0" y="0" font-size="8.8" text-anchor="middle" font-weight="normal" fill="#333" textLength="56.3" lengthAdjust="spacingAndGlyphs" stroke="#333" stroke-width="0.18">P0 LSK S/G2/M (%)</text>
<text x="9.8" y="353.4" font-size="11.2" text-anchor="start" font-weight="bold" fill="#0a0a0a" stroke="#0a0a0a" stroke-width="0.35">H</text>
<clipPath id="vl"><ellipse cx="77.2" cy="367.5" rx="29.6" ry="22.4"/></clipPath>
<ellipse cx="77.2" cy="367.5" rx="29.6" ry="22.4" fill="#7b9cc4"/>
<ellipse cx="110" cy="367.5" rx="29.8" ry="22.4" fill="#92d296"/>
<ellipse cx="110" cy="367.5" rx="29.8" ry="22.4" fill="#5fa878" clip-path="url(#vl)"/>
<text x="67.8" y="370.7" font-size="7.2" text-anchor="middle" font-weight="normal" fill="#16263e" stroke="#16263e" stroke-width="0.18">191</text>
<text x="95.2" y="370.7" font-size="7.2" text-anchor="middle" font-weight="normal" fill="#13301f" stroke="#13301f" stroke-width="0.18">10</text>
<text x="121.1" y="370.7" font-size="7.2" text-anchor="middle" font-weight="normal" fill="#15321a" stroke="#15321a" stroke-width="0.18">264</text>
<line x1="97.8" y1="375" x2="97.8" y2="418" stroke="#111" stroke-width="1.0"/>
<path d="M94.2,415.5 L97.8,423 L101.4,415.5 L97.8,417.5 Z" fill="#111"/>
<text x="55" y="402.5" font-size="7" text-anchor="middle" font-weight="normal" fill="#222" textLength="57.5" lengthAdjust="spacingAndGlyphs" stroke="#222" stroke-width="0.18">ME-post &gt; ME-fetal</text>
<text x="55.6" y="410.2" font-size="7" text-anchor="middle" font-weight="normal" fill="#222" textLength="36.3" lengthAdjust="spacingAndGlyphs" stroke="#222" stroke-width="0.18">at P28 (c19)</text>
<text x="143.2" y="402.1" font-size="7" text-anchor="middle" font-weight="normal" fill="#222" textLength="35" lengthAdjust="spacingAndGlyphs" stroke="#222" stroke-width="0.18">Down in ME</text>
<text x="143.2" y="410.0" font-size="7" text-anchor="middle" font-weight="normal" fill="#222" textLength="42.8" lengthAdjust="spacingAndGlyphs" stroke="#222" stroke-width="0.18">at P0 (c17/c24)</text>
<text x="25.2" y="437.90000000000003" font-size="7.4" text-anchor="start" font-weight="normal" fill="#cf8c58" textLength="12.5" lengthAdjust="spacingAndGlyphs" stroke="#cf8c58" stroke-width="0.18">Pbx1</text>
<text x="61" y="437.90000000000003" font-size="7.4" text-anchor="start" font-weight="normal" fill="#cf8c58" textLength="21.5" lengthAdjust="spacingAndGlyphs" stroke="#cf8c58" stroke-width="0.18">Ifi27l2a</text>
<text x="100" y="437.90000000000003" font-size="7.4" text-anchor="start" font-weight="normal" fill="#cf8c58" textLength="19.5" lengthAdjust="spacingAndGlyphs" stroke="#cf8c58" stroke-width="0.18">Kctd12</text>
<text x="135.4" y="437.90000000000003" font-size="7.4" text-anchor="start" font-weight="normal" fill="#cf8c58" textLength="16.7" lengthAdjust="spacingAndGlyphs" stroke="#cf8c58" stroke-width="0.18">Myct1</text>
<text x="25.2" y="450.8" font-size="7.4" text-anchor="start" font-weight="normal" fill="#cf8c58" textLength="11" lengthAdjust="spacingAndGlyphs" stroke="#cf8c58" stroke-width="0.18">Ppic</text>
<text x="61" y="450.8" font-size="7.4" text-anchor="start" font-weight="normal" fill="#cf8c58" textLength="18.5" lengthAdjust="spacingAndGlyphs" stroke="#cf8c58" stroke-width="0.18">Ptger2</text>
<text x="100" y="450.8" font-size="7.4" text-anchor="start" font-weight="normal" fill="#cf8c58" textLength="13.5" lengthAdjust="spacingAndGlyphs" stroke="#cf8c58" stroke-width="0.18">Ptms</text>
<text x="135.4" y="450.8" font-size="7.4" text-anchor="start" font-weight="normal" fill="#cf8c58" textLength="22.6" lengthAdjust="spacingAndGlyphs" stroke="#cf8c58" stroke-width="0.18">Tsc22d3</text>
<text x="25.2" y="463.70000000000005" font-size="7.4" text-anchor="start" font-weight="normal" fill="#cf8c58" textLength="15.5" lengthAdjust="spacingAndGlyphs" stroke="#cf8c58" stroke-width="0.18">Acot1</text>
<text x="61" y="463.70000000000005" font-size="7.4" text-anchor="start" font-weight="normal" fill="#cf8c58" textLength="10.5" lengthAdjust="spacingAndGlyphs" stroke="#cf8c58" stroke-width="0.18">Klf3</text>
<text x="177.6" y="353.1" font-size="11.2" text-anchor="start" font-weight="bold" fill="#0a0a0a" stroke="#0a0a0a" stroke-width="0.35">I</text>
<line x1="201.3" y1="377.4" x2="201.3" y2="454.1" stroke="#1a1a1a" stroke-width="1.2"/>
<line x1="200.70000000000002" y1="453.5" x2="248" y2="453.5" stroke="#1a1a1a" stroke-width="1.2"/>
<line x1="199.10000000000002" y1="390.6" x2="201.3" y2="390.6" stroke="#1a1a1a" stroke-width="0.8"/>
<line x1="199.10000000000002" y1="410.5" x2="201.3" y2="410.5" stroke="#1a1a1a" stroke-width="0.8"/>
<line x1="199.10000000000002" y1="430.6" x2="201.3" y2="430.6" stroke="#1a1a1a" stroke-width="0.8"/>
<line x1="199.10000000000002" y1="450.6" x2="201.3" y2="450.6" stroke="#1a1a1a" stroke-width="0.8"/>
<text x="195.5" y="392.976" font-size="6.6" text-anchor="end" font-weight="normal" fill="#3a3a3a" stroke="#3a3a3a" stroke-width="0.18">1.5</text>
<text x="195.5" y="412.876" font-size="6.6" text-anchor="end" font-weight="normal" fill="#3a3a3a" stroke="#3a3a3a" stroke-width="0.18">1.0</text>
<text x="195.5" y="432.976" font-size="6.6" text-anchor="end" font-weight="normal" fill="#3a3a3a" stroke="#3a3a3a" stroke-width="0.18">0.5</text>
<text x="195.5" y="452.976" font-size="6.6" text-anchor="end" font-weight="normal" fill="#3a3a3a" stroke="#3a3a3a" stroke-width="0.18">0</text>
<text x="224.9" y="365.0" font-size="8.8" text-anchor="middle" font-weight="normal" fill="#222" textLength="18.2" lengthAdjust="spacingAndGlyphs" stroke="#222" stroke-width="0.18">Pbx1</text>
<text x="236.8" y="376.2" font-size="7" text-anchor="middle" font-weight="normal" fill="#222" textLength="7.7" lengthAdjust="spacingAndGlyphs" stroke="#222" stroke-width="0.18">***</text>
<path d="M214.80,380.60 L214.60,380.60 L214.60,382.88 L214.60,386.16 L214.60,389.99 L214.58,393.88 L214.55,397.38 L214.50,400.00 L214.44,401.64 L214.37,402.66 L214.28,403.27 L214.19,403.72 L214.10,404.22 L214.00,405.00 L213.90,406.04 L213.79,407.15 L213.68,408.31 L213.56,409.52 L213.43,410.75 L213.30,412.00 L213.16,413.29 L213.00,414.63 L212.84,416.00 L212.68,417.37 L212.53,418.71 L212.40,420.00 L212.28,421.25 L212.17,422.48 L212.06,423.69 L211.98,424.85 L211.92,425.96 L211.90,427.00 L211.92,427.96 L211.98,428.85 L212.07,429.69 L212.17,430.48 L212.29,431.25 L212.40,432.00 L212.52,432.73 L212.66,433.43 L212.80,434.09 L212.94,434.74 L213.08,435.37 L213.20,436.00 L213.31,436.62 L213.43,437.24 L213.54,437.84 L213.63,438.43 L213.69,438.98 L213.70,439.50 L213.67,439.97 L213.60,440.41 L213.51,440.81 L213.37,441.20 L213.21,441.59 L213.00,442.00 L212.75,442.42 L212.47,442.83 L212.14,443.25 L211.79,443.67 L211.41,444.08 L211.00,444.50 L210.55,444.92 L210.06,445.33 L209.53,445.75 L209.00,446.17 L208.48,446.58 L208.00,447.00 L207.53,447.43 L207.05,447.88 L206.58,448.32 L206.15,448.76 L205.78,449.15 L205.50,449.50 L205.32,449.80 L205.23,450.07 L205.19,450.31 L205.20,450.51 L205.21,450.67 L205.20,450.80 L224.40,450.80 L224.39,450.67 L224.40,450.51 L224.41,450.31 L224.37,450.07 L224.28,449.80 L224.10,449.50 L223.82,449.15 L223.45,448.76 L223.02,448.32 L222.55,447.88 L222.07,447.43 L221.60,447.00 L221.12,446.58 L220.60,446.17 L220.07,445.75 L219.54,445.33 L219.05,444.92 L218.60,444.50 L218.19,444.08 L217.81,443.67 L217.46,443.25 L217.13,442.83 L216.85,442.42 L216.60,442.00 L216.39,441.59 L216.23,441.20 L216.09,440.81 L216.00,440.41 L215.93,439.97 L215.90,439.50 L215.91,438.98 L215.97,438.43 L216.06,437.84 L216.17,437.24 L216.29,436.62 L216.40,436.00 L216.52,435.37 L216.66,434.74 L216.80,434.09 L216.94,433.43 L217.08,432.73 L217.20,432.00 L217.31,431.25 L217.43,430.48 L217.53,429.69 L217.62,428.85 L217.68,427.96 L217.70,427.00 L217.68,425.96 L217.62,424.85 L217.54,423.69 L217.43,422.48 L217.32,421.25 L217.20,420.00 L217.07,418.71 L216.92,417.37 L216.76,416.00 L216.60,414.63 L216.44,413.29 L216.30,412.00 L216.17,410.75 L216.04,409.52 L215.93,408.31 L215.81,407.15 L215.70,406.04 L215.60,405.00 L215.50,404.22 L215.41,403.72 L215.32,403.27 L215.23,402.66 L215.16,401.64 L215.10,400.00 L215.05,397.38 L215.02,393.88 L215.00,389.99 L215.00,386.16 L215.00,382.88 L215.00,380.60 Z" fill="#c0143c" stroke="#c0143c" stroke-width="0.25" stroke-linejoin="round"/>
<line x1="236.3" y1="383.8" x2="236.3" y2="450.5" stroke="#2a2a2a" stroke-width="0.7" stroke-dasharray="1,0.4"/>
<line x1="226.9" y1="450.7" x2="245.70000000000002" y2="450.7" stroke="#333" stroke-width="0.9"/>
<line x1="214.8" y1="453.5" x2="214.8" y2="455.5" stroke="#1a1a1a" stroke-width="0.8"/>
<line x1="236.3" y1="453.5" x2="236.3" y2="455.5" stroke="#1a1a1a" stroke-width="0.8"/>
<text x="214.8" y="465.3" font-size="7" text-anchor="middle" font-weight="normal" fill="#333" stroke="#333" stroke-width="0.18">Ctl</text>
<text x="236.3" y="465.3" font-size="7" text-anchor="middle" font-weight="normal" fill="#333" stroke="#333" stroke-width="0.18">ME</text>
<line x1="267.2" y1="377.4" x2="267.2" y2="454.1" stroke="#1a1a1a" stroke-width="1.2"/>
<line x1="266.59999999999997" y1="453.5" x2="313.8" y2="453.5" stroke="#1a1a1a" stroke-width="1.2"/>
<line x1="265.0" y1="390.6" x2="267.2" y2="390.6" stroke="#1a1a1a" stroke-width="0.8"/>
<line x1="265.0" y1="410.5" x2="267.2" y2="410.5" stroke="#1a1a1a" stroke-width="0.8"/>
<line x1="265.0" y1="430.6" x2="267.2" y2="430.6" stroke="#1a1a1a" stroke-width="0.8"/>
<line x1="265.0" y1="450.6" x2="267.2" y2="450.6" stroke="#1a1a1a" stroke-width="0.8"/>
<text x="261.4" y="392.976" font-size="6.6" text-anchor="end" font-weight="normal" fill="#3a3a3a" stroke="#3a3a3a" stroke-width="0.18">1.5</text>
<text x="261.4" y="412.876" font-size="6.6" text-anchor="end" font-weight="normal" fill="#3a3a3a" stroke="#3a3a3a" stroke-width="0.18">1.0</text>
<text x="261.4" y="432.976" font-size="6.6" text-anchor="end" font-weight="normal" fill="#3a3a3a" stroke="#3a3a3a" stroke-width="0.18">0.5</text>
<text x="261.4" y="452.976" font-size="6.6" text-anchor="end" font-weight="normal" fill="#3a3a3a" stroke="#3a3a3a" stroke-width="0.18">0</text>
<text x="290.5" y="365.0" font-size="8.8" text-anchor="middle" font-weight="normal" fill="#222" textLength="21.9" lengthAdjust="spacingAndGlyphs" stroke="#222" stroke-width="0.18">Acot1</text>
<text x="302.0" y="376.2" font-size="7" text-anchor="middle" font-weight="normal" fill="#222" textLength="7.7" lengthAdjust="spacingAndGlyphs" stroke="#222" stroke-width="0.18">***</text>
<path d="M280.10,378.50 L279.90,378.50 L279.90,380.80 L279.90,384.13 L279.90,388.00 L279.87,391.93 L279.84,395.42 L279.80,398.00 L279.75,399.52 L279.70,400.33 L279.65,400.72 L279.58,400.94 L279.50,401.28 L279.40,402.00 L279.27,403.09 L279.12,404.33 L278.96,405.69 L278.79,407.11 L278.63,408.56 L278.50,410.00 L278.38,411.45 L278.27,412.94 L278.17,414.46 L278.09,415.99 L278.03,417.51 L278.00,419.00 L278.01,420.48 L278.05,421.96 L278.11,423.43 L278.19,424.87 L278.27,426.26 L278.35,427.60 L278.43,428.89 L278.53,430.15 L278.63,431.36 L278.73,432.52 L278.82,433.60 L278.90,434.60 L278.98,435.51 L279.06,436.33 L279.13,437.08 L279.18,437.77 L279.21,438.41 L279.20,439.00 L279.15,439.53 L279.07,439.99 L278.97,440.40 L278.84,440.77 L278.68,441.13 L278.50,441.50 L278.31,441.85 L278.10,442.17 L277.86,442.47 L277.59,442.78 L277.28,443.11 L276.90,443.50 L276.44,443.94 L275.91,444.42 L275.33,444.93 L274.73,445.46 L274.14,445.98 L273.60,446.50 L273.08,447.03 L272.54,447.59 L272.01,448.15 L271.53,448.69 L271.12,449.18 L270.80,449.60 L270.60,449.95 L270.50,450.24 L270.48,450.49 L270.49,450.70 L270.50,450.87 L270.50,451.00 L289.70,451.00 L289.70,450.87 L289.71,450.70 L289.73,450.49 L289.70,450.24 L289.60,449.95 L289.40,449.60 L289.08,449.18 L288.67,448.69 L288.19,448.15 L287.66,447.59 L287.12,447.03 L286.60,446.50 L286.06,445.98 L285.47,445.46 L284.88,444.93 L284.29,444.42 L283.76,443.94 L283.30,443.50 L282.92,443.11 L282.61,442.78 L282.34,442.47 L282.10,442.17 L281.89,441.85 L281.70,441.50 L281.52,441.13 L281.36,440.77 L281.23,440.40 L281.13,439.99 L281.05,439.53 L281.00,439.00 L280.99,438.41 L281.02,437.77 L281.07,437.08 L281.14,436.33 L281.22,435.51 L281.30,434.60 L281.38,433.60 L281.47,432.52 L281.57,431.36 L281.67,430.15 L281.77,428.89 L281.85,427.60 L281.93,426.26 L282.01,424.87 L282.09,423.43 L282.15,421.96 L282.19,420.48 L282.20,419.00 L282.17,417.51 L282.11,415.99 L282.03,414.46 L281.93,412.94 L281.82,411.45 L281.70,410.00 L281.57,408.56 L281.41,407.11 L281.24,405.69 L281.08,404.33 L280.93,403.09 L280.80,402.00 L280.70,401.28 L280.62,400.94 L280.55,400.72 L280.50,400.33 L280.45,399.52 L280.40,398.00 L280.36,395.42 L280.33,391.93 L280.30,388.00 L280.30,384.13 L280.30,380.80 L280.30,378.50 Z" fill="#c0143c" stroke="#c0143c" stroke-width="0.25" stroke-linejoin="round"/>
<line x1="301.5" y1="382.9" x2="301.5" y2="450.5" stroke="#2a2a2a" stroke-width="0.7" stroke-dasharray="1,0.4"/>
<line x1="292.1" y1="450.7" x2="310.9" y2="450.7" stroke="#333" stroke-width="0.9"/>
<line x1="280.1" y1="453.5" x2="280.1" y2="455.5" stroke="#1a1a1a" stroke-width="0.8"/>
<line x1="301.5" y1="453.5" x2="301.5" y2="455.5" stroke="#1a1a1a" stroke-width="0.8"/>
<text x="280.1" y="465.3" font-size="7" text-anchor="middle" font-weight="normal" fill="#333" stroke="#333" stroke-width="0.18">Ctl</text>
<text x="301.5" y="465.3" font-size="7" text-anchor="middle" font-weight="normal" fill="#333" stroke="#333" stroke-width="0.18">ME</text>
<line x1="333.4" y1="377.4" x2="333.4" y2="454.1" stroke="#1a1a1a" stroke-width="1.2"/>
<line x1="332.79999999999995" y1="453.5" x2="380.6" y2="453.5" stroke="#1a1a1a" stroke-width="1.2"/>
<line x1="331.2" y1="390.6" x2="333.4" y2="390.6" stroke="#1a1a1a" stroke-width="0.8"/>
<line x1="331.2" y1="410.5" x2="333.4" y2="410.5" stroke="#1a1a1a" stroke-width="0.8"/>
<line x1="331.2" y1="430.6" x2="333.4" y2="430.6" stroke="#1a1a1a" stroke-width="0.8"/>
<line x1="331.2" y1="450.6" x2="333.4" y2="450.6" stroke="#1a1a1a" stroke-width="0.8"/>
<text x="327.59999999999997" y="392.976" font-size="6.6" text-anchor="end" font-weight="normal" fill="#3a3a3a" stroke="#3a3a3a" stroke-width="0.18">1.5</text>
<text x="327.59999999999997" y="412.876" font-size="6.6" text-anchor="end" font-weight="normal" fill="#3a3a3a" stroke="#3a3a3a" stroke-width="0.18">1.0</text>
<text x="327.59999999999997" y="432.976" font-size="6.6" text-anchor="end" font-weight="normal" fill="#3a3a3a" stroke="#3a3a3a" stroke-width="0.18">0.5</text>
<text x="327.59999999999997" y="452.976" font-size="6.6" text-anchor="end" font-weight="normal" fill="#3a3a3a" stroke="#3a3a3a" stroke-width="0.18">0</text>
<text x="357.5" y="365.0" font-size="8.8" text-anchor="middle" font-weight="normal" fill="#222" textLength="16.2" lengthAdjust="spacingAndGlyphs" stroke="#222" stroke-width="0.18">Ppic</text>
<text x="367.7" y="376.2" font-size="7" text-anchor="middle" font-weight="normal" fill="#222" textLength="7.7" lengthAdjust="spacingAndGlyphs" stroke="#222" stroke-width="0.18">***</text>
<path d="M346.50,381.00 L346.30,381.00 L346.30,383.18 L346.30,386.31 L346.30,389.96 L346.28,393.69 L346.25,397.05 L346.20,399.60 L346.14,401.25 L346.06,402.32 L345.97,403.03 L345.88,403.57 L345.79,404.16 L345.70,405.00 L345.61,406.07 L345.53,407.21 L345.44,408.40 L345.35,409.61 L345.27,410.81 L345.20,412.00 L345.13,413.17 L345.06,414.33 L344.99,415.50 L344.94,416.67 L344.91,417.83 L344.90,419.00 L344.92,420.17 L344.97,421.33 L345.04,422.50 L345.13,423.67 L345.21,424.83 L345.30,426.00 L345.39,427.20 L345.51,428.43 L345.62,429.66 L345.73,430.85 L345.83,431.98 L345.90,433.00 L345.95,433.91 L345.99,434.74 L346.01,435.50 L346.01,436.20 L345.99,436.87 L345.95,437.50 L345.88,438.09 L345.79,438.63 L345.68,439.12 L345.55,439.59 L345.39,440.05 L345.20,440.50 L345.00,440.93 L344.79,441.31 L344.55,441.69 L344.27,442.07 L343.93,442.50 L343.50,443.00 L342.95,443.59 L342.27,444.26 L341.53,444.97 L340.79,445.69 L340.09,446.37 L339.50,447.00 L339.01,447.58 L338.57,448.16 L338.18,448.70 L337.83,449.20 L337.54,449.64 L337.30,450.00 L337.12,450.27 L337.02,450.46 L336.96,450.59 L336.94,450.67 L336.92,450.74 L336.90,450.80 L356.10,450.80 L356.08,450.74 L356.06,450.67 L356.04,450.59 L355.98,450.46 L355.88,450.27 L355.70,450.00 L355.46,449.64 L355.17,449.20 L354.82,448.70 L354.43,448.16 L353.99,447.58 L353.50,447.00 L352.91,446.37 L352.21,445.69 L351.47,444.97 L350.73,444.26 L350.05,443.59 L349.50,443.00 L349.07,442.50 L348.73,442.07 L348.45,441.69 L348.21,441.31 L348.00,440.93 L347.80,440.50 L347.61,440.05 L347.45,439.59 L347.32,439.12 L347.21,438.63 L347.12,438.09 L347.05,437.50 L347.01,436.87 L346.99,436.20 L346.99,435.50 L347.01,434.74 L347.05,433.91 L347.10,433.00 L347.17,431.98 L347.27,430.85 L347.38,429.66 L347.49,428.43 L347.61,427.20 L347.70,426.00 L347.79,424.83 L347.87,423.67 L347.96,422.50 L348.03,421.33 L348.08,420.17 L348.10,419.00 L348.09,417.83 L348.06,416.67 L348.01,415.50 L347.94,414.33 L347.87,413.17 L347.80,412.00 L347.73,410.81 L347.65,409.61 L347.56,408.40 L347.47,407.21 L347.39,406.07 L347.30,405.00 L347.21,404.16 L347.12,403.57 L347.03,403.03 L346.94,402.32 L346.86,401.25 L346.80,399.60 L346.75,397.05 L346.72,393.69 L346.70,389.96 L346.70,386.31 L346.70,383.18 L346.70,381.00 Z" fill="#c0143c" stroke="#c0143c" stroke-width="0.25" stroke-linejoin="round"/>
<line x1="368.0" y1="386" x2="368.0" y2="450.5" stroke="#2a2a2a" stroke-width="0.7" stroke-dasharray="1,0.4"/>
<line x1="358.6" y1="450.7" x2="377.4" y2="450.7" stroke="#333" stroke-width="0.9"/>
<line x1="346.5" y1="453.5" x2="346.5" y2="455.5" stroke="#1a1a1a" stroke-width="0.8"/>
<line x1="368.0" y1="453.5" x2="368.0" y2="455.5" stroke="#1a1a1a" stroke-width="0.8"/>
<text x="346.5" y="465.3" font-size="7" text-anchor="middle" font-weight="normal" fill="#333" stroke="#333" stroke-width="0.18">Ctl</text>
<text x="368.0" y="465.3" font-size="7" text-anchor="middle" font-weight="normal" fill="#333" stroke="#333" stroke-width="0.18">ME</text>
<line x1="397.4" y1="377.4" x2="397.4" y2="454.1" stroke="#1a1a1a" stroke-width="1.2"/>
<line x1="396.79999999999995" y1="453.5" x2="445" y2="453.5" stroke="#1a1a1a" stroke-width="1.2"/>
<line x1="395.2" y1="390.6" x2="397.4" y2="390.6" stroke="#1a1a1a" stroke-width="0.8"/>
<line x1="395.2" y1="410.5" x2="397.4" y2="410.5" stroke="#1a1a1a" stroke-width="0.8"/>
<line x1="395.2" y1="430.6" x2="397.4" y2="430.6" stroke="#1a1a1a" stroke-width="0.8"/>
<line x1="395.2" y1="450.6" x2="397.4" y2="450.6" stroke="#1a1a1a" stroke-width="0.8"/>
<text x="391.59999999999997" y="392.976" font-size="6.6" text-anchor="end" font-weight="normal" fill="#3a3a3a" stroke="#3a3a3a" stroke-width="0.18">1.5</text>
<text x="391.59999999999997" y="412.876" font-size="6.6" text-anchor="end" font-weight="normal" fill="#3a3a3a" stroke="#3a3a3a" stroke-width="0.18">1.0</text>
<text x="391.59999999999997" y="432.976" font-size="6.6" text-anchor="end" font-weight="normal" fill="#3a3a3a" stroke="#3a3a3a" stroke-width="0.18">0.5</text>
<text x="391.59999999999997" y="452.976" font-size="6.6" text-anchor="end" font-weight="normal" fill="#3a3a3a" stroke="#3a3a3a" stroke-width="0.18">0</text>
<text x="422.2" y="365.0" font-size="8.8" text-anchor="middle" font-weight="normal" fill="#222" textLength="18.3" lengthAdjust="spacingAndGlyphs" stroke="#222" stroke-width="0.18">Ptms</text>
<text x="432.7" y="376.2" font-size="7" text-anchor="middle" font-weight="normal" fill="#222" textLength="7.7" lengthAdjust="spacingAndGlyphs" stroke="#222" stroke-width="0.18">***</text>
<path d="M411.10,378.50 L410.90,378.50 L410.90,382.57 L410.90,388.46 L410.88,395.31 L410.84,402.26 L410.80,408.44 L410.75,413.00 L410.69,415.75 L410.62,417.33 L410.55,418.16 L410.47,418.61 L410.39,419.09 L410.30,420.00 L410.21,421.28 L410.10,422.59 L410.00,423.94 L409.89,425.30 L409.79,426.66 L409.70,428.00 L409.61,429.37 L409.52,430.78 L409.44,432.19 L409.37,433.56 L409.32,434.84 L409.30,436.00 L409.32,437.03 L409.37,437.95 L409.45,438.79 L409.54,439.57 L409.62,440.30 L409.70,441.00 L409.79,441.67 L409.90,442.29 L410.02,442.86 L410.11,443.38 L410.14,443.86 L410.10,444.30 L409.97,444.68 L409.78,444.99 L409.53,445.26 L409.24,445.51 L408.93,445.75 L408.60,446.00 L408.25,446.26 L407.86,446.50 L407.44,446.73 L407.01,446.97 L406.56,447.22 L406.10,447.50 L405.62,447.81 L405.09,448.15 L404.56,448.50 L404.03,448.85 L403.54,449.19 L403.10,449.50 L402.71,449.80 L402.34,450.09 L402.01,450.38 L401.72,450.63 L401.48,450.84 L401.30,451.00 L420.90,451.00 L420.72,450.84 L420.48,450.63 L420.19,450.38 L419.86,450.09 L419.49,449.80 L419.10,449.50 L418.66,449.19 L418.17,448.85 L417.64,448.50 L417.11,448.15 L416.58,447.81 L416.10,447.50 L415.64,447.22 L415.19,446.97 L414.76,446.73 L414.34,446.50 L413.95,446.26 L413.60,446.00 L413.27,445.75 L412.96,445.51 L412.67,445.26 L412.42,444.99 L412.23,444.68 L412.10,444.30 L412.06,443.86 L412.09,443.38 L412.18,442.86 L412.30,442.29 L412.41,441.67 L412.50,441.00 L412.58,440.30 L412.66,439.57 L412.75,438.79 L412.83,437.95 L412.88,437.03 L412.90,436.00 L412.88,434.84 L412.83,433.56 L412.76,432.19 L412.68,430.78 L412.59,429.37 L412.50,428.00 L412.41,426.66 L412.31,425.30 L412.20,423.94 L412.10,422.59 L411.99,421.28 L411.90,420.00 L411.81,419.09 L411.73,418.61 L411.65,418.16 L411.58,417.33 L411.51,415.75 L411.45,413.00 L411.40,408.44 L411.36,402.26 L411.32,395.31 L411.30,388.46 L411.30,382.57 L411.30,378.50 Z" fill="#c0143c" stroke="#c0143c" stroke-width="0.25" stroke-linejoin="round"/>
<line x1="432.4" y1="384.5" x2="432.4" y2="450.5" stroke="#2a2a2a" stroke-width="0.7" stroke-dasharray="1,0.4"/>
<line x1="423.0" y1="450.7" x2="441.79999999999995" y2="450.7" stroke="#333" stroke-width="0.9"/>
<line x1="411.1" y1="453.5" x2="411.1" y2="455.5" stroke="#1a1a1a" stroke-width="0.8"/>
<line x1="432.4" y1="453.5" x2="432.4" y2="455.5" stroke="#1a1a1a" stroke-width="0.8"/>
<text x="411.1" y="465.3" font-size="7" text-anchor="middle" font-weight="normal" fill="#333" stroke="#333" stroke-width="0.18">Ctl</text>
<text x="432.4" y="465.3" font-size="7" text-anchor="middle" font-weight="normal" fill="#333" stroke="#333" stroke-width="0.18">ME</text>
<line x1="464.4" y1="377.4" x2="464.4" y2="454.1" stroke="#1a1a1a" stroke-width="1.2"/>
<line x1="463.79999999999995" y1="453.5" x2="512.4" y2="453.5" stroke="#1a1a1a" stroke-width="1.2"/>
<line x1="462.2" y1="378" x2="464.4" y2="378" stroke="#1a1a1a" stroke-width="0.8"/>
<line x1="462.2" y1="392.6" x2="464.4" y2="392.6" stroke="#1a1a1a" stroke-width="0.8"/>
<line x1="462.2" y1="407.5" x2="464.4" y2="407.5" stroke="#1a1a1a" stroke-width="0.8"/>
<line x1="462.2" y1="422.1" x2="464.4" y2="422.1" stroke="#1a1a1a" stroke-width="0.8"/>
<line x1="462.2" y1="436.2" x2="464.4" y2="436.2" stroke="#1a1a1a" stroke-width="0.8"/>
<line x1="462.2" y1="450.6" x2="464.4" y2="450.6" stroke="#1a1a1a" stroke-width="0.8"/>
<text x="458.59999999999997" y="380.376" font-size="6.6" text-anchor="end" font-weight="normal" fill="#3a3a3a" stroke="#3a3a3a" stroke-width="0.18">2.5</text>
<text x="458.59999999999997" y="394.976" font-size="6.6" text-anchor="end" font-weight="normal" fill="#3a3a3a" stroke="#3a3a3a" stroke-width="0.18">2.0</text>
<text x="458.59999999999997" y="409.876" font-size="6.6" text-anchor="end" font-weight="normal" fill="#3a3a3a" stroke="#3a3a3a" stroke-width="0.18">1.5</text>
<text x="458.59999999999997" y="424.476" font-size="6.6" text-anchor="end" font-weight="normal" fill="#3a3a3a" stroke="#3a3a3a" stroke-width="0.18">1.0</text>
<text x="458.59999999999997" y="438.57599999999996" font-size="6.6" text-anchor="end" font-weight="normal" fill="#3a3a3a" stroke="#3a3a3a" stroke-width="0.18">0.5</text>
<text x="458.59999999999997" y="452.976" font-size="6.6" text-anchor="end" font-weight="normal" fill="#3a3a3a" stroke="#3a3a3a" stroke-width="0.18">0</text>
<text x="488.2" y="365.0" font-size="8.8" text-anchor="middle" font-weight="normal" fill="#222" textLength="22.4" lengthAdjust="spacingAndGlyphs" stroke="#222" stroke-width="0.18">Myct1</text>
<text x="499.1" y="376.2" font-size="7" text-anchor="middle" font-weight="normal" fill="#222" textLength="7.7" lengthAdjust="spacingAndGlyphs" stroke="#222" stroke-width="0.18">***</text>
<path d="M477.50,378.70 L477.20,378.70 L477.10,379.93 L476.96,381.66 L476.79,383.70 L476.60,385.86 L476.40,387.95 L476.20,389.80 L476.00,391.42 L475.78,392.97 L475.56,394.45 L475.32,395.88 L475.07,397.26 L474.80,398.60 L474.51,399.88 L474.19,401.09 L473.86,402.25 L473.53,403.39 L473.21,404.53 L472.90,405.70 L472.61,406.88 L472.34,408.03 L472.07,409.19 L471.81,410.38 L471.55,411.61 L471.30,412.90 L471.05,414.31 L470.80,415.84 L470.56,417.41 L470.33,418.96 L470.11,420.41 L469.90,421.70 L469.69,422.80 L469.46,423.76 L469.24,424.62 L469.06,425.43 L468.94,426.25 L468.90,427.10 L468.94,428.00 L469.04,428.91 L469.21,429.81 L469.42,430.70 L469.69,431.57 L470.00,432.40 L470.40,433.19 L470.89,433.96 L471.43,434.71 L471.97,435.43 L472.48,436.12 L472.90,436.80 L473.27,437.45 L473.63,438.06 L473.94,438.66 L474.20,439.24 L474.36,439.82 L474.40,440.40 L474.30,440.99 L474.07,441.57 L473.76,442.15 L473.38,442.73 L472.98,443.31 L472.60,443.90 L472.20,444.50 L471.76,445.11 L471.30,445.72 L470.84,446.33 L470.40,446.92 L470.00,447.50 L469.63,448.09 L469.27,448.70 L468.94,449.31 L468.64,449.86 L468.39,450.34 L468.20,450.70 L468.10,450.92 L468.07,451.03 L468.09,451.05 L468.13,451.03 L468.18,451.00 L468.20,451.00 L486.80,451.00 L486.82,451.00 L486.87,451.03 L486.91,451.05 L486.93,451.03 L486.90,450.92 L486.80,450.70 L486.61,450.34 L486.36,449.86 L486.06,449.31 L485.73,448.70 L485.37,448.09 L485.00,447.50 L484.60,446.92 L484.16,446.33 L483.70,445.72 L483.24,445.11 L482.80,444.50 L482.40,443.90 L482.02,443.31 L481.62,442.73 L481.24,442.15 L480.93,441.57 L480.70,440.99 L480.60,440.40 L480.64,439.82 L480.80,439.24 L481.06,438.66 L481.37,438.06 L481.73,437.45 L482.10,436.80 L482.52,436.12 L483.03,435.43 L483.57,434.71 L484.11,433.96 L484.60,433.19 L485.00,432.40 L485.31,431.57 L485.58,430.70 L485.79,429.81 L485.96,428.91 L486.06,428.00 L486.10,427.10 L486.06,426.25 L485.94,425.43 L485.76,424.62 L485.54,423.76 L485.31,422.80 L485.10,421.70 L484.89,420.41 L484.67,418.96 L484.44,417.41 L484.20,415.84 L483.95,414.31 L483.70,412.90 L483.45,411.61 L483.19,410.38 L482.93,409.19 L482.66,408.03 L482.39,406.88 L482.10,405.70 L481.79,404.53 L481.47,403.39 L481.14,402.25 L480.81,401.09 L480.49,399.88 L480.20,398.60 L479.93,397.26 L479.68,395.88 L479.44,394.45 L479.22,392.97 L479.00,391.42 L478.80,389.80 L478.60,387.95 L478.40,385.86 L478.21,383.70 L478.04,381.66 L477.90,379.93 L477.80,378.70 Z" fill="#c0143c" stroke="#c0143c" stroke-width="0.25" stroke-linejoin="round"/>
<path d="M498.90,388.00 L498.60,388.00 L498.51,389.17 L498.39,390.81 L498.25,392.74 L498.09,394.80 L497.92,396.81 L497.75,398.60 L497.58,400.18 L497.39,401.69 L497.19,403.16 L496.99,404.60 L496.79,406.04 L496.60,407.50 L496.40,409.00 L496.20,410.53 L496.00,412.06 L495.81,413.57 L495.64,415.02 L495.50,416.40 L495.39,417.69 L495.30,418.90 L495.23,420.06 L495.19,421.20 L495.18,422.34 L495.20,423.50 L495.26,424.70 L495.36,425.93 L495.49,427.16 L495.64,428.36 L495.81,429.52 L496.00,430.60 L496.23,431.61 L496.50,432.56 L496.79,433.47 L497.08,434.34 L497.32,435.18 L497.50,436.00 L497.63,436.80 L497.75,437.57 L497.82,438.32 L497.84,439.04 L497.77,439.73 L497.60,440.40 L497.29,441.03 L496.87,441.63 L496.36,442.20 L495.81,442.76 L495.24,443.32 L494.70,443.90 L494.16,444.50 L493.58,445.11 L492.99,445.72 L492.42,446.33 L491.88,446.92 L491.40,447.50 L490.97,448.09 L490.56,448.70 L490.19,449.31 L489.87,449.86 L489.60,450.34 L489.40,450.70 L489.28,450.92 L489.25,451.03 L489.27,451.05 L489.33,451.03 L489.38,451.00 L489.40,451.00 L508.40,451.00 L508.42,451.00 L508.47,451.03 L508.52,451.05 L508.55,451.03 L508.52,450.92 L508.40,450.70 L508.20,450.34 L507.93,449.86 L507.61,449.31 L507.24,448.70 L506.83,448.09 L506.40,447.50 L505.92,446.92 L505.38,446.33 L504.81,445.72 L504.22,445.11 L503.64,444.50 L503.10,443.90 L502.56,443.32 L501.99,442.76 L501.44,442.20 L500.93,441.63 L500.51,441.03 L500.20,440.40 L500.03,439.73 L499.96,439.04 L499.97,438.32 L500.05,437.57 L500.17,436.80 L500.30,436.00 L500.48,435.18 L500.72,434.34 L501.01,433.47 L501.30,432.56 L501.57,431.61 L501.80,430.60 L501.99,429.52 L502.16,428.36 L502.31,427.16 L502.44,425.93 L502.54,424.70 L502.60,423.50 L502.62,422.34 L502.61,421.20 L502.57,420.06 L502.50,418.90 L502.41,417.69 L502.30,416.40 L502.16,415.02 L501.99,413.57 L501.80,412.06 L501.60,410.53 L501.40,409.00 L501.20,407.50 L501.01,406.04 L500.81,404.60 L500.61,403.16 L500.41,401.69 L500.22,400.18 L500.05,398.60 L499.88,396.81 L499.71,394.80 L499.55,392.74 L499.41,390.81 L499.29,389.17 L499.20,388.00 Z" fill="#1b4d86" stroke="#1b4d86" stroke-width="0.25" stroke-linejoin="round"/>
<line x1="477.5" y1="453.5" x2="477.5" y2="455.5" stroke="#1a1a1a" stroke-width="0.8"/>
<line x1="498.9" y1="453.5" x2="498.9" y2="455.5" stroke="#1a1a1a" stroke-width="0.8"/>
<text x="477.5" y="465.3" font-size="7" text-anchor="middle" font-weight="normal" fill="#333" stroke="#333" stroke-width="0.18">Ctl</text>
<text x="498.9" y="465.3" font-size="7" text-anchor="middle" font-weight="normal" fill="#333" stroke="#333" stroke-width="0.18">ME</text>
<text transform="translate(181.3,415.6) rotate(-90)" x="0" y="0" font-size="8.8" text-anchor="middle" font-weight="normal" fill="#222" textLength="48.2" lengthAdjust="spacingAndGlyphs" stroke="#222" stroke-width="0.18">Expression at P0</text>
<rect x="0.5" y="0.5" width="519" height="472" fill="none" stroke="#3a3a3a" stroke-width="1.2"/></svg>
</body></html>
